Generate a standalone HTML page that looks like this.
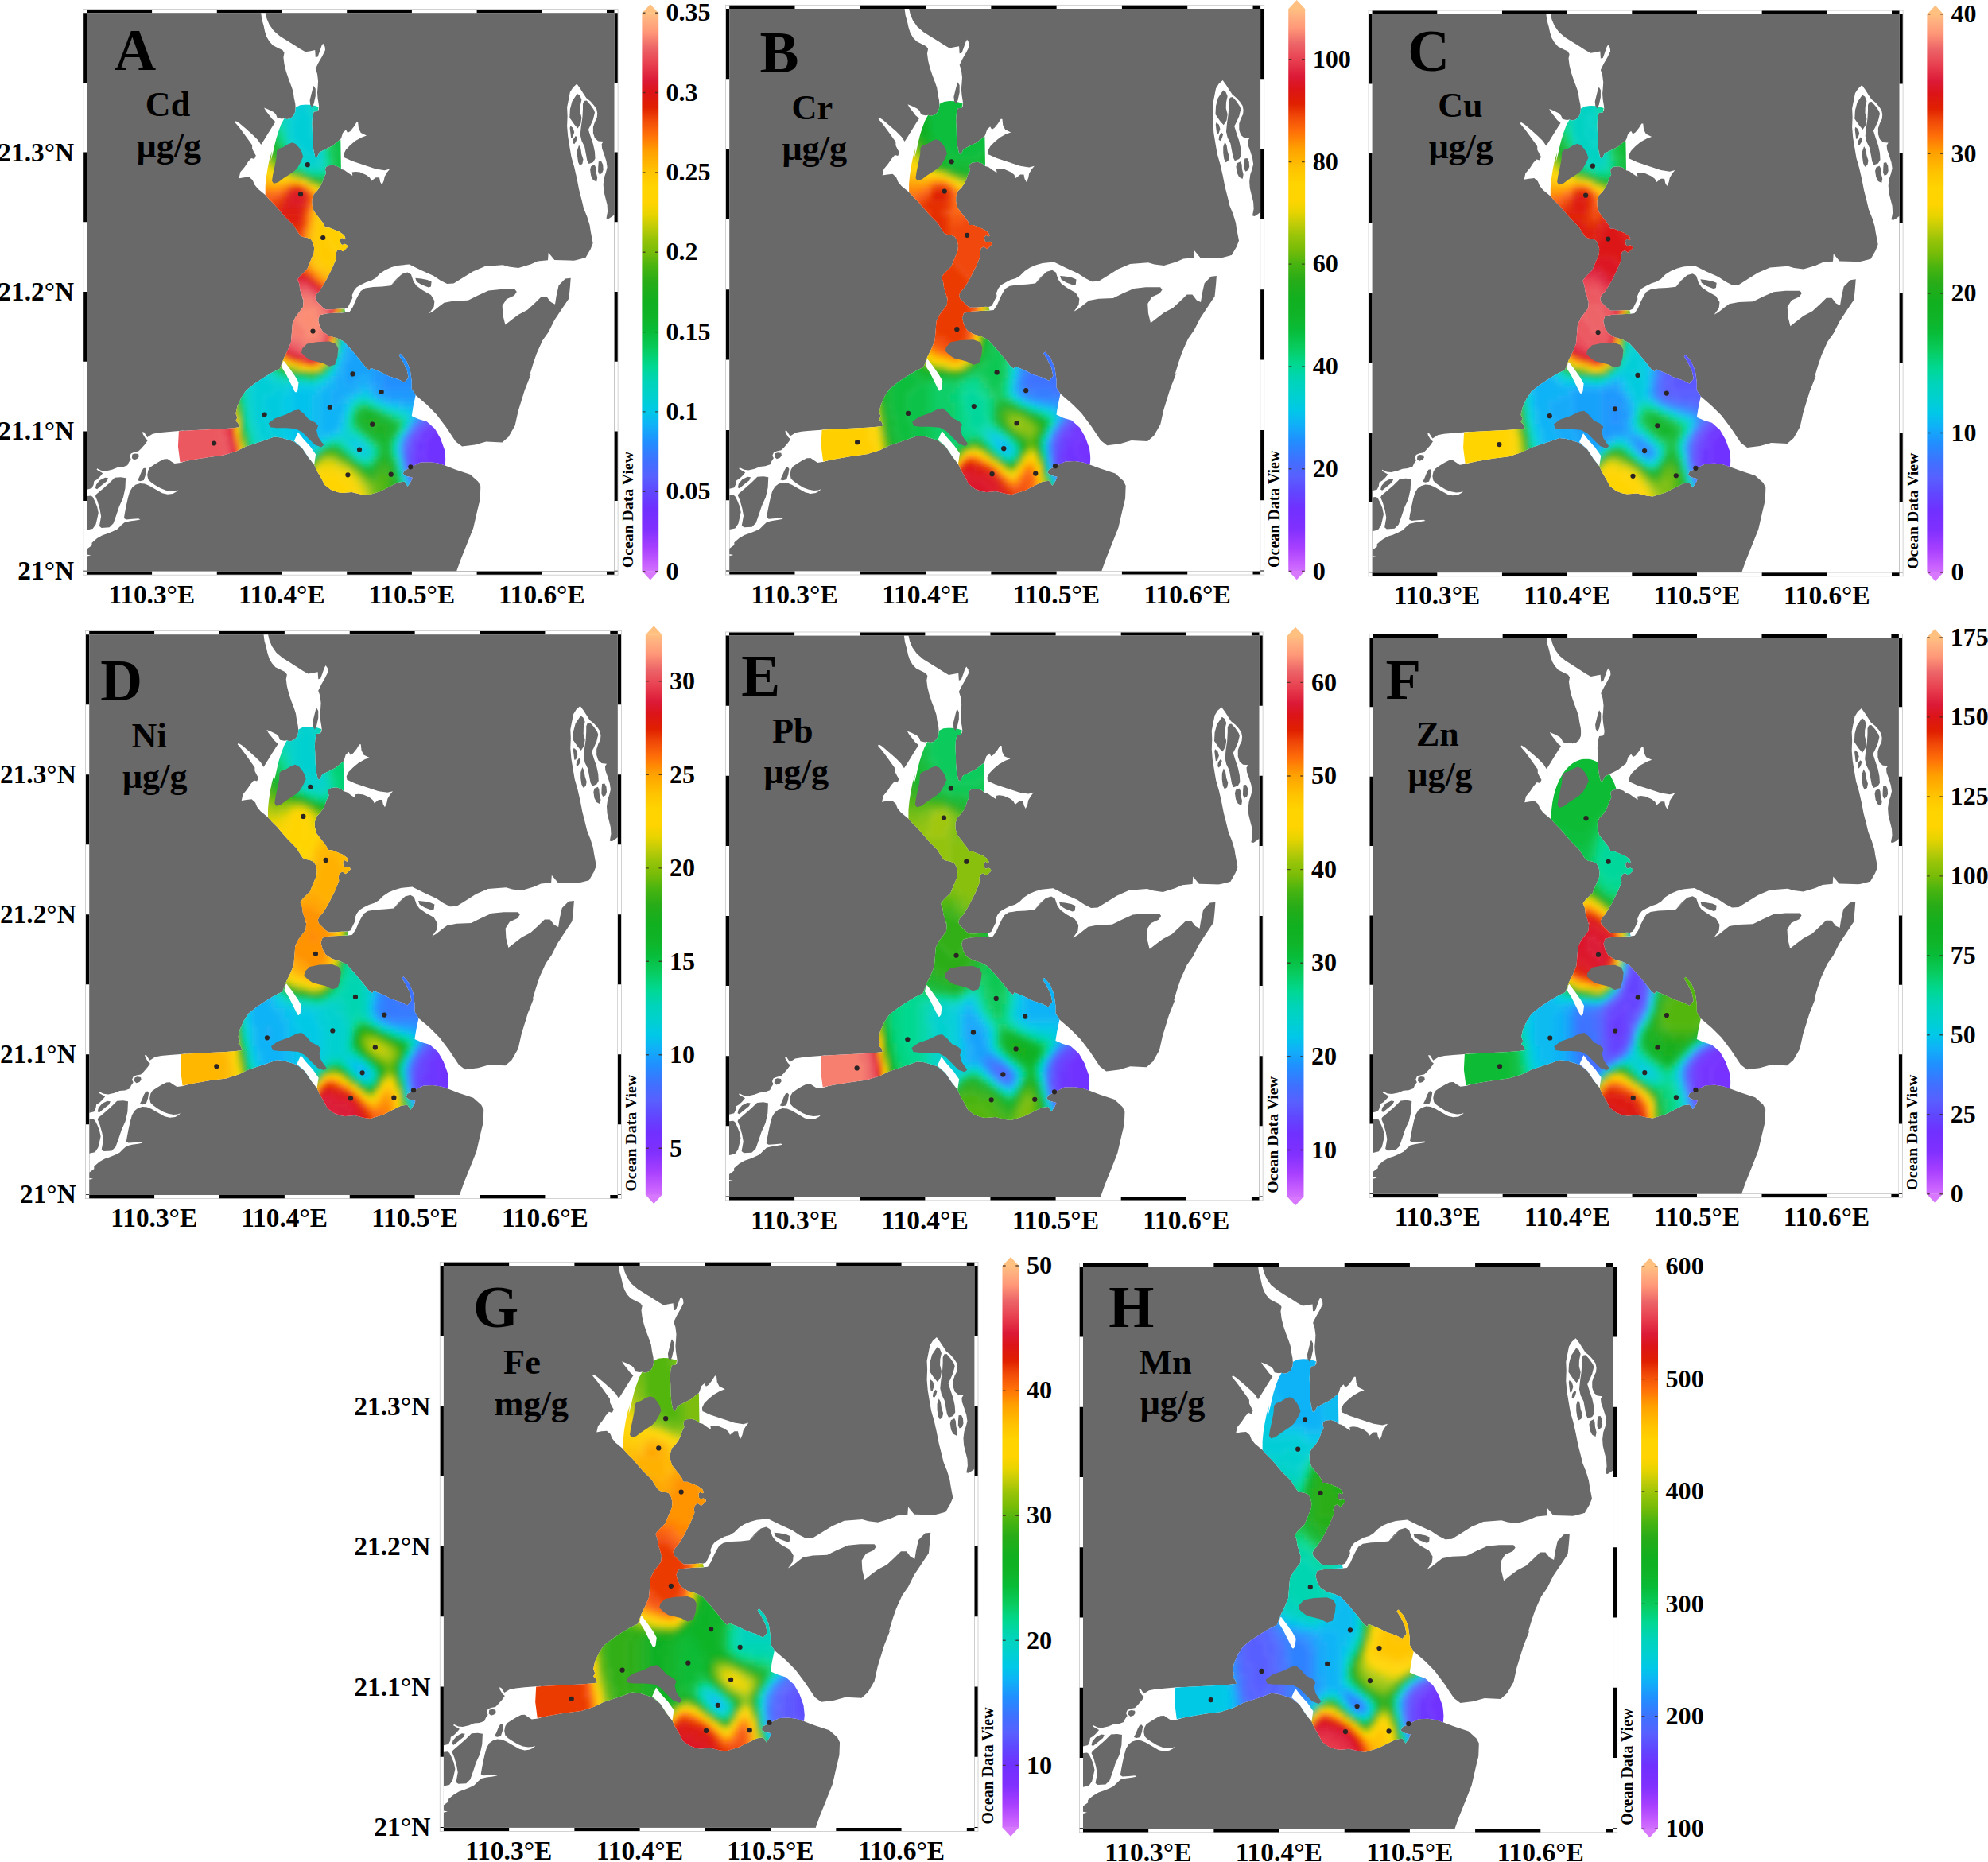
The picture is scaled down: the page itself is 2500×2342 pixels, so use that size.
<!DOCTYPE html><html><head><meta charset="utf-8"><title>Heavy metals</title>
<style>html,body{margin:0;padding:0;background:#fff}svg{display:block}text{font-family:"Liberation Serif",serif;font-weight:bold;fill:#000}</style></head><body>
<svg width="2500" height="2342" viewBox="0 0 2500 2342">
<defs>
<linearGradient id="pal" x1="0" y1="1" x2="0" y2="0">
<stop offset="0.000" stop-color="#d070ff"/>
<stop offset="0.012" stop-color="#c860ff"/>
<stop offset="0.041" stop-color="#a840ff"/>
<stop offset="0.076" stop-color="#8030ff"/>
<stop offset="0.112" stop-color="#7030ff"/>
<stop offset="0.143" stop-color="#6048ff"/>
<stop offset="0.169" stop-color="#5860ff"/>
<stop offset="0.197" stop-color="#4070ff"/>
<stop offset="0.233" stop-color="#2090ff"/>
<stop offset="0.261" stop-color="#10b0f8"/>
<stop offset="0.286" stop-color="#00c8e8"/>
<stop offset="0.311" stop-color="#00d0d0"/>
<stop offset="0.340" stop-color="#00d4b8"/>
<stop offset="0.368" stop-color="#00d890"/>
<stop offset="0.397" stop-color="#08cc60"/>
<stop offset="0.429" stop-color="#08bc38"/>
<stop offset="0.454" stop-color="#10b428"/>
<stop offset="0.482" stop-color="#10b020"/>
<stop offset="0.518" stop-color="#28ac18"/>
<stop offset="0.546" stop-color="#48b410"/>
<stop offset="0.572" stop-color="#78bc08"/>
<stop offset="0.596" stop-color="#98c408"/>
<stop offset="0.617" stop-color="#c0cc08"/>
<stop offset="0.639" stop-color="#e8d400"/>
<stop offset="0.660" stop-color="#ffd400"/>
<stop offset="0.688" stop-color="#ffd400"/>
<stop offset="0.715" stop-color="#ffc400"/>
<stop offset="0.752" stop-color="#ffa000"/>
<stop offset="0.781" stop-color="#ff7008"/>
<stop offset="0.809" stop-color="#f04808"/>
<stop offset="0.831" stop-color="#e02000"/>
<stop offset="0.858" stop-color="#dc1418"/>
<stop offset="0.880" stop-color="#dc1a38"/>
<stop offset="0.909" stop-color="#e84050"/>
<stop offset="0.937" stop-color="#ec6468"/>
<stop offset="0.966" stop-color="#ff9878"/>
<stop offset="0.987" stop-color="#ffb080"/>
<stop offset="1.000" stop-color="#ffc080"/>
</linearGradient>
<clipPath id="crclip"><path d="M262.5 118.9 268 116.1 274.7 115.3 280.8 115.5 286.8 116.9 291.3 118.3 290.2 123.8 285.2 124.4 283.5 131 283 139.9 283.5 148.7 283.7 159.8 284.6 170.9 286.8 180.8 289.1 181.9 292.4 175.3 300.1 171.4 309 167 317.8 159.8 318.9 159.8 319.5 196.5 315.6 193.2 310.1 191.5 303.4 192.1 300.1 194.3 299.6 197.6 300.7 201.5 297.9 207 295.7 213.6 293.5 218.1 289.6 223.6 285.2 228 283 234.7 283 241.3 285.2 249.1 290.2 255.7 294.6 261.2 297.9 265.7 299.6 270.1 304.5 270.1 311.2 272.8 317.8 275.6 323.4 279.5 325 283.4 323.4 284.5 320.6 282.8 318.4 285 318.9 290 321.1 291.7 324.5 290.6 327.2 292.2 327.8 294.4 324.5 297.7 321.7 300 317.8 297.2 314.5 298.9 312.8 303.3 313.4 308.8 311.2 314.3 307.9 322.1 304.5 328.7 301.2 335.4 296.8 343.1 292.4 349.8 289.1 353.1 286.8 357.5 287.9 361.9 292.4 366.4 296.8 370.8 300.1 373 307.9 373 316.7 372.4 323.9 372.4 325 376.9 313.4 377.4 302.3 378 292.7 380.1 290.7 386.2 292.7 394.2 296.7 401.3 304.8 406.3 314.9 409.3 322.9 413.4 333 424.4 343.1 436.5 351.1 446.6 355.2 449.6 356.9 446.6 369 451.6 379.1 456.7 391.2 460.7 399.2 464.7 404.3 458.7 402.2 448.6 397.2 438.5 392.2 430.5 394.2 428.5 401.2 436.5 406.3 448.6 408.3 462.7 408.3 472.8 413.3 480.8 410.3 494.9 408.3 507 417.3 511 427.4 514.1 437.5 523.1 444.5 535.2 449.6 549.3 451 561.4 450.2 569.4 441.5 566.4 431.4 565 419.4 565.4 411.3 569.4 405.3 572.5 399.2 575.5 397.2 579.5 401.2 582.5 409.3 584.6 407.3 589.6 403.2 595.6 399.2 589.6 391.2 590.6 381.1 595.6 369 601.7 352.9 606.7 345.1 605.7 333 602.7 320.9 603.7 314.9 602.7 306.8 599.7 298.8 593.6 294.7 585.6 288.7 575.5 285.7 568.4 278.6 559.4 270.6 547.3 260.5 539.2 254.4 537.2 244.4 534.2 235.3 533.2 224.2 537.2 212.2 541.3 200.1 545.3 188 551.3 171.9 556.4 151.7 559 131.6 562.4 117.1 565.4 114.5 545.3 115.5 526.1 131.6 525.1 151.7 524.1 171.9 523.1 184 522.1 192 521.1 190 516.1 187 513.1 189 509 187 504 189 494.9 194 483.9 200.1 474.8 210.1 466.7 222.2 458.7 232.3 452.6 242.4 447.6 247.4 434.5 252.4 424.4 256.5 414.4 257.5 402.3 258.5 390.2 262.5 382.1 271.6 370.1 272.6 358 271.9 361.9 270.2 355.3 268 348.7 266.9 340.9 264.7 335.4 268 330.9 272.5 326.5 276.9 322.1 279.6 315.5 282.4 308.8 285.2 302.2 285.7 295.5 284.1 288.9 281.3 284.5 276.9 282.8 271.3 281.7 268 280 263.6 273.4 260.3 267.9 255.9 263.4 249.2 256.8 242.6 249.1 235.9 241.3 229.3 234.7 224.3 229.1 224.3 218.1 225.4 207 227.1 195.9 229.3 184.9 232.6 173.8 231 186.4 233.7 176.4 235.9 166.4 238.1 157.6 240.9 148.7 244.2 139.9 248.1 132.7 251.4 133.8 255.9 132.7 259.7 129.4 261.9 124.4Z"/></clipPath>
<clipPath id="fclip"><path d="M0 228H224.6A44 75 0 0 1 312.6 228H663.1V702.4H0Z"/></clipPath>
<clipPath id="mapclip"><rect x="0" y="0" width="663.1" height="702.4"/></clipPath>
<filter id="bl" x="-5%" y="-5%" width="110%" height="110%"><feGaussianBlur stdDeviation="3.2"/></filter>
<g id="base">
<rect x="0" y="0" width="663.1" height="702.4" fill="#696969"/>
<g clip-path="url(#mapclip)">
<g fill="#fff">
<path d="M218.8 -0.1 219.9 8.2 222.1 15.9 223.8 23.7 226 30.3 229.3 35.9 233.7 40.8 240.4 44.2 245.9 46.9 248.1 50.2 247 55.8 248.1 64.6 250.3 73.5 253.6 83.4 257 92.3 259.2 98.9 260.3 106.7 261.9 114.4 262.5 122.2 291.3 122.2 291.8 118.3 291.3 114.4 290.2 107.8 289.6 100 290.2 93.4 290.7 85.7 289.6 76.8 287.4 70.2 291.3 62.4 295.7 54.7 299.6 46.9 299.2 42.5 296.8 38.6 295.1 41.4 292.4 49.1 290.2 55.2 287.4 55.8 286.8 46.9 281.3 48 274.7 49.1 268 45.3 260.3 40.3 251.4 34.7 242.6 29.2 234.8 22.6 229.3 14.8 226 7.1 224.3 -0.1Z"/>
<path d="M222.7 119.4 228.2 121.6 234.8 124.9 237.6 127.7 239.3 132.1 244.8 133.2 248.1 132.7 251.4 137.7 242.6 159.8 235.9 181.9 233.7 184.9 229.3 207 227.1 226.9 224.3 229.1 220.4 225.8 214.9 221.4 210.5 215.9 208.3 210.3 203.8 206.4 197.2 207 191.1 208.1 192.8 200.4 198.3 193.7 202.7 187.1 206.6 182.7 210.5 183.8 212.7 178.8 213.2 180.8 210.5 176.4 207.7 170.9 207.7 166.4 203.8 160.9 198.3 153.2 191.7 144.3 186.1 137.7 187.2 136 191.7 138.8 199.4 145.4 208.3 153.2 214.9 159.8 218.8 165.9 222.7 159.8 228.2 150.9 233.7 142.1 237 137.1 232.6 133.2 229.3 128.8 224.9 123.3Z"/>
<path d="M315.6 162 318.4 159.8 320 156.5 321.7 150.9 325.6 147.1 327.8 150.9 331.1 148.7 335.5 143.2 338.9 137.7 340.8 137.7 341.6 145.4 344.4 150.9 351.6 154.3 345.5 156.5 337.7 160.9 331.1 166.4 325.6 172 322.8 177.5 323.4 181.9 333.3 186.4 346.6 190.8 363.2 196.3 374.3 198 380.9 196.3 377.6 200.4 374.3 205.9 373.2 211.4 370.9 216.4 368.7 212.5 367.6 207 363.2 207 357.7 211.4 355.5 207 351 203.7 343.3 200.4 337.7 199.8 333.3 200.4 333.9 204.8 328.9 201.5 323.4 197.6 319.5 196.5 317.3 192.6Z"/>
<path d="M318.9 372.2 323.9 372.4 327.8 370.8 331.1 364.1 333.9 358.6 333.3 355.3 335.5 349.8 338.9 345.3 344.4 342 351 338.7 357.7 336.5 363.2 333.2 368.7 327.6 375.4 323.2 383.1 319.9 390.9 317.7 405.3 316.2 420.4 323.8 435.5 330.6 444.5 336.6 452.8 340.8 461.1 340.4 473.2 332.8 485.3 325.3 500.4 318.8 523 317 530.6 319.3 542.6 320.8 557.7 316.2 566.8 312.2 579.6 311 580.3 301.6 587.9 310.7 606 311.3 618.1 311.7 627.1 307.9 627.1 335.1 608.3 333.6 601.5 334.4 593.2 342.7 590.2 356.2 588.6 366.5 583.4 363.8 578.1 357 571.3 357 563.7 364.5 553.9 373.6 542.6 379.6 533.6 386.4 526 392.4 523 380.4 522.3 368.3 527.5 360 537.3 355.5 540.4 350.9 538.1 347.9 520 347.9 504.9 349.4 491.3 355.5 479.2 361.5 461.1 362.3 449.1 364.5 443 369.1 435.5 375.1 430.2 378.1 436.2 369.8 437 362.3 432.5 354.7 421.9 348.7 414.4 343.4 410.6 338.1 407.6 329.1 403 326.4 396.3 328.3 388.7 335.1 382.7 341.9 394.2 330.9 387.5 337.6 382 343.1 370.9 344.2 359.9 344.8 349.9 346.4 344.4 349.8 341.1 355.3 337.7 361.9 334.4 369.7 330 376.3 325 376.9 318.9 377.2Z"/>
<path d="M616 89.4 611.2 93.7 607.5 99.6 605.8 108.2 603.7 118.9 604.2 129.7 603.7 142.5 604.8 155.4 606.9 168.3 609.1 181.2 612.8 194.1 616 208.1 618.7 222 622 234.9 624.6 245.7 628.9 256.4 632.2 267.1 633.2 273.8 636.2 289.8 633.2 297.4 627.1 307.9 612 311.7 608.3 333.6 607.5 344.2 606 359.2 596.9 372.8 587.9 386.4 580.3 401.5 572.8 412.1 565.3 428.7 560.7 442.2 556.2 457.3 558.3 454.6 550.3 474.8 542.2 501 538.2 519.1 530.1 533.2 522.1 540.2 501.9 539.2 487.8 543.3 471.7 545.3 463.7 539.2 451.6 521.1 439.5 505 427.4 492.9 413.3 480.8 409.3 482.8 405.3 507 431.4 535.2 441.5 563.4 450.2 569.4 463.7 574.5 481.8 580.5 491.9 589.6 494.9 595.6 494.3 611.7 490.9 625.8 485.8 648 477.8 668.1 469.7 688.3 464.7 702.4 663.1 702.4 663.1 254.3 662.8 254.3 660.1 256.4 655.8 259.1 653.1 258.5 654.7 250 654.2 241.4 652 232.8 649.9 224.2 649.3 215.6 650.4 207 652.6 200.5 654.2 194.1 653.1 186.6 650.4 178 647.7 170.5 647.2 165.1 649.3 161.9 642.9 161.3 638.6 157.6 636.5 151.1 636.5 143.6 638.6 137.2 641.3 131.8 641.8 126.4 640.8 121.1 637.5 116.2 633.2 111.4 627.9 107.1 624.1 101.2 620.3 95.3Z"/>
<path d="M121.2 525.4 101.3 527 90.2 528.1 82.5 529.5 78 532.4 75.8 533.7 71.9 527.6 69.7 527 70.3 529.8 73.6 535.3 76.4 537.6 73 542.5 68.1 548.1 64.7 551.4 59.2 552.5 55.3 554.2 53.7 558 55.3 561.3 52.6 565.2 50.9 569.1 44.8 571.3 38.2 571.9 31.5 574.6 23.8 576.3 18.3 575.7 12.7 573 12.2 574.6 16.1 576.8 19.9 579.1 16.1 583.5 12.7 586.8 8.9 589 8.3 593.4 6.1 597.9 0 599.5 0 674.2 6.1 669.8 6.1 666.5 12.7 660.9 19.4 657.1 26 654.9 32.7 652.1 38.2 649.3 42.6 644.9 47 641 53.7 639.4 61.4 638.3 67 637.2 64.7 636 57 636.6 49.3 637.2 46.5 635.5 47.6 628.9 49.3 620 51.5 610 53.7 602.3 57 596.8 61.4 593.4 67 591.8 72.5 592.3 78 594.5 85.8 599 94.6 604 101.3 605.6 107.9 604.7 112.3 602.3 114.5 600.1 111.2 601.2 105.7 601.7 99.1 600.6 92.4 597.9 85.8 594 80.2 590.1 76.9 586.8 75.8 581.3 76.9 575.7 79.1 571.9 84.7 568 91.3 564.1 96.8 561.3 101.3 561.1 105.7 564.1 110.1 566.9 117.9 565.8 123.4 564.1Z"/>
<path d="M0 681.2 5 682.2 0 683.3Z"/>
<path d="M262.5 118.9 268 116.1 274.7 115.3 280.8 115.5 286.8 116.9 291.3 118.3 290.2 123.8 285.2 124.4 283.5 131 283 139.9 283.5 148.7 283.7 159.8 284.6 170.9 286.8 180.8 289.1 181.9 292.4 175.3 300.1 171.4 309 167 317.8 159.8 318.9 159.8 319.5 196.5 315.6 193.2 310.1 191.5 303.4 192.1 300.1 194.3 299.6 197.6 300.7 201.5 297.9 207 295.7 213.6 293.5 218.1 289.6 223.6 285.2 228 283 234.7 283 241.3 285.2 249.1 290.2 255.7 294.6 261.2 297.9 265.7 299.6 270.1 304.5 270.1 311.2 272.8 317.8 275.6 323.4 279.5 325 283.4 323.4 284.5 320.6 282.8 318.4 285 318.9 290 321.1 291.7 324.5 290.6 327.2 292.2 327.8 294.4 324.5 297.7 321.7 300 317.8 297.2 314.5 298.9 312.8 303.3 313.4 308.8 311.2 314.3 307.9 322.1 304.5 328.7 301.2 335.4 296.8 343.1 292.4 349.8 289.1 353.1 286.8 357.5 287.9 361.9 292.4 366.4 296.8 370.8 300.1 373 307.9 373 316.7 372.4 323.9 372.4 325 376.9 313.4 377.4 302.3 378 292.7 380.1 290.7 386.2 292.7 394.2 296.7 401.3 304.8 406.3 314.9 409.3 322.9 413.4 333 424.4 343.1 436.5 351.1 446.6 355.2 449.6 356.9 446.6 369 451.6 379.1 456.7 391.2 460.7 399.2 464.7 404.3 458.7 402.2 448.6 397.2 438.5 392.2 430.5 394.2 428.5 401.2 436.5 406.3 448.6 408.3 462.7 408.3 472.8 413.3 480.8 410.3 494.9 408.3 507 417.3 511 427.4 514.1 437.5 523.1 444.5 535.2 449.6 549.3 451 561.4 450.2 569.4 441.5 566.4 431.4 565 419.4 565.4 411.3 569.4 405.3 572.5 399.2 575.5 397.2 579.5 401.2 582.5 409.3 584.6 407.3 589.6 403.2 595.6 399.2 589.6 391.2 590.6 381.1 595.6 369 601.7 352.9 606.7 345.1 605.7 333 602.7 320.9 603.7 314.9 602.7 306.8 599.7 298.8 593.6 294.7 585.6 288.7 575.5 285.7 568.4 278.6 559.4 270.6 547.3 260.5 539.2 254.4 537.2 244.4 534.2 235.3 533.2 224.2 537.2 212.2 541.3 200.1 545.3 188 551.3 171.9 556.4 151.7 559 131.6 562.4 117.1 565.4 114.5 545.3 115.5 526.1 131.6 525.1 151.7 524.1 171.9 523.1 184 522.1 192 521.1 190 516.1 187 513.1 189 509 187 504 189 494.9 194 483.9 200.1 474.8 210.1 466.7 222.2 458.7 232.3 452.6 242.4 447.6 247.4 434.5 252.4 424.4 256.5 414.4 257.5 402.3 258.5 390.2 262.5 382.1 271.6 370.1 272.6 358 271.9 361.9 270.2 355.3 268 348.7 266.9 340.9 264.7 335.4 268 330.9 272.5 326.5 276.9 322.1 279.6 315.5 282.4 308.8 285.2 302.2 285.7 295.5 284.1 288.9 281.3 284.5 276.9 282.8 271.3 281.7 268 280 263.6 273.4 260.3 267.9 255.9 263.4 249.2 256.8 242.6 249.1 235.9 241.3 229.3 234.7 224.3 229.1 224.3 218.1 225.4 207 227.1 195.9 229.3 184.9 232.6 173.8 231 186.4 233.7 176.4 235.9 166.4 238.1 157.6 240.9 148.7 244.2 139.9 248.1 132.7 251.4 133.8 255.9 132.7 259.7 129.4 261.9 124.4Z"/>
</g>
<path d="M616.6 101.7 619.8 103.9 622 109.2 620.3 116.8 620.1 124.3 622 131.8 620.9 139.3 617.1 145.2 612.8 140.4 606.9 131.8 607.5 121.1 610.1 111.4 614.4 104.9Z M625.2 110.9 628.4 110.3 633.2 115.7 637.5 122.1 638.6 125.4 636.5 134 633.2 141.5 630.5 146.8 633.2 155.4 636.5 165.1 638.6 174.8 639.1 183.4 636.5 187.7 631.1 189.8 628.9 185.5 627.3 176.9 625.7 168.3 622 160.8 620.3 153.3 621.4 142.5 623 131.8 623.6 121.1 623.6 114.6Z M608 142 611.2 144.7 612.8 150.1 610.7 156.5 608.7 157 608 151.1 607.2 144.7Z M614.4 154.9 616.6 156.5 615 161.9 612.8 165.1 611 163.5 611.7 158.7Z M618.7 166.2 620.9 170.5 622 178 624.1 184.4 623 189.8 619.8 192 617.7 187.7 616.6 180.1 616.6 172.6Z M633.8 193 638.1 190.9 639.7 194.1 640.2 200.5 641.8 207 640.8 212.4 636.5 210.2 633.8 204.8 632.7 197.3Z M643.4 187.1 646.7 186.6 648.8 190.9 649.3 197.3 647.7 201.6 644.5 203.2 642.7 199.5 642.9 193Z M412.9 333.6 420.4 334.4 427.9 335.9 433.2 338.1 432.5 344.2 429.5 345.4 420.4 341.9 414.4 338.1Z M57 555.3 60.3 554.2 64.7 554.9 65.3 558 63.1 560.8 59.2 562.2 56.4 559.7Z M73 572.4 74.7 574.6 73.6 581.3 71.4 587.9 67 589 63.6 588.1 65.9 583.5 68.6 576.8 70.8 573Z M11.6 593.4 16.1 587.9 22.7 584.6 26.6 585.1 24.9 589 19.4 593.4 12.7 599 10.5 597.9Z M11.6 605.6 19.4 599 27.1 592.3 34.9 584.6 42.6 584 48.7 585.1 48.1 597.9 45.4 610 40.4 621.1 37.1 631.1 33.2 642.1 28.2 647.1 18.3 647.7 15.5 645.5 17.7 633.3 16.1 624.4 13.3 614.5 10.5 607.8Z M0 607.8 5 607.3 7.2 608.9 10 614.5 12.7 621.1 14.4 628.9 12.7 636.6 11.1 643.2 7.2 648.8 0 650.4Z" fill="#696969"/>
</g></g>
<g id="over">
<path d="M240.9 170.9 247 168.7 252.5 165.3 258.1 163.1 262.5 164.8 266.9 169.8 270.2 175.3 271.9 181.9 272.5 179.3 269.1 187.1 264.7 194.8 260.3 199.3 253.6 203.7 247 208.1 240.4 213.1 234.8 214.7 232.6 211.4 233.7 203.7 235.9 193.7 238.1 182.7 238.7 173.8Z M285.2 91.7 287.4 95.6 287.4 104.5 285.2 114.4 283 118.9 280.8 115.5 280.2 110 282.4 101.1 284.1 94.5Z M270.6 422.4 276.6 416.4 288.7 414 304.8 413.4 312.9 416.4 315.9 422.4 314.9 432.5 311.8 442.6 304.8 444.6 296.7 440.5 288.7 438.5 280.6 436.5 274.6 432.5 269.6 427.5Z M228.3 516.1 236.3 510 250.4 505 260.5 500 266.5 499 272.6 504 278.6 511 286.7 515.1 290.7 519.1 288.7 525.1 290.7 533.2 294.7 539.2 297.8 543.3 294.7 546.3 286.7 543.3 278.6 535.2 270.6 527.2 262.5 523.1 250.4 522.1 238.3 522.1 230.3 521.1Z" fill="#696969"/>
<path d="M244.8 445.6 250.4 454.6 256.5 466.7 261.5 476.8 262.9 477.2 264.9 474.8 266.1 464.7 261.5 456.7 254.4 446.6 247.4 437.5 246 439.5Z M265.5 527.2 271.6 535.2 280.6 545.3 287.7 555.4 285.7 568.4 278.6 559.4 270.6 547.3 260.5 538.2Z" fill="#fff"/>
<circle cx="268.6" cy="228" r="3.1" fill="#2b2424"/>
<circle cx="296.8" cy="282.8" r="3.1" fill="#2b2424"/>
<circle cx="284.1" cy="400.3" r="3.1" fill="#2b2424"/>
<circle cx="334" cy="454.2" r="3.1" fill="#2b2424"/>
<circle cx="370.3" cy="476.8" r="3.1" fill="#2b2424"/>
<circle cx="305.4" cy="496.5" r="3.1" fill="#2b2424"/>
<circle cx="223.2" cy="505.4" r="3.1" fill="#2b2424"/>
<circle cx="358.8" cy="517.5" r="3.1" fill="#2b2424"/>
<circle cx="159.8" cy="541.3" r="3.1" fill="#2b2424"/>
<circle cx="342.6" cy="549.3" r="3.1" fill="#2b2424"/>
<circle cx="328" cy="581.1" r="3.1" fill="#2b2424"/>
<circle cx="382.3" cy="580.5" r="3.1" fill="#2b2424"/>
<circle cx="406.9" cy="571.1" r="3.1" fill="#2b2424"/>
</g>
<g id="frame">
<rect x="-4.6" y="-4.6" width="672.3" height="711.6" fill="#fff" stroke="#c8c8c8" stroke-width="0.8"/>
<path d="M0 -4.2H81.7V0H0Z M0 702.4H81.7V706.6H0Z M163.4 -4.2H245.1V0H163.4Z M163.4 702.4H245.1V706.6H163.4Z M326.8 -4.2H408.5V0H326.8Z M326.8 702.4H408.5V706.6H326.8Z M490.2 -4.2H571.9V0H490.2Z M490.2 702.4H571.9V706.6H490.2Z M653.6 -4.2H663.1V0H653.6Z M653.6 702.4H663.1V706.6H653.6Z M-4.2 0H0V87.7H-4.2Z M663.1 0H667.3V87.7H663.1Z M-4.2 175.4H0V263.1H-4.2Z M663.1 175.4H667.3V263.1H663.1Z M-4.2 350.8H0V438.5H-4.2Z M663.1 350.8H667.3V438.5H663.1Z M-4.2 526.2H0V613.9H-4.2Z M663.1 526.2H667.3V613.9H663.1Z M-4.2 701.6H0V702.4H-4.2Z M663.1 701.6H667.3V702.4H663.1Z " fill="#000"/>
</g>
<g id="cbar">
<rect x="0" y="0" width="20.8" height="702.4" fill="url(#pal)"/>
<path d="M0 0.3L10.4 -10.9L20.8 0.3Z" fill="#ffc080"/>
<path d="M0 702.1L10.4 713.3L20.8 702.1Z" fill="#d878ff"/>
</g>
</defs>
<rect width="2500" height="2342" fill="#fff"/>
<g transform="translate(109.4 16.2) scale(1.0000 1.0000)">
<use href="#frame"/>
<use href="#base"/>
<g clip-path="url(#crclip)"><g><g filter="url(#bl)">
<path fill="#7430ff" d="M450 540h12v6h-12zM456 546h6v6h-6zM456 552h6v6h-6z"/>
<path fill="#7030ff" d="M438 522h12v6h-12zM432 528h24v6h-24zM426 534h30v6h-30zM426 540h24v6h-24zM426 546h30v6h-30zM420 552h36v6h-36zM426 558h36v6h-36zM426 564h36v6h-36zM432 570h24v6h-24zM444 576h6v6h-6z"/>
<path fill="#6c36ff" d="M438 516h6v6h-6zM426 522h12v6h-12zM420 528h12v6h-12zM420 534h6v6h-6zM414 540h12v6h-12zM414 546h12v6h-12zM414 552h6v6h-6zM414 558h12v6h-12zM414 564h12v6h-12zM420 570h12v6h-12z"/>
<path fill="#683cff" d="M432 516h6v6h-6zM420 522h6v6h-6zM414 534h6v6h-6zM408 552h6v6h-6zM408 558h6v6h-6zM408 564h6v6h-6zM414 570h6v6h-6z"/>
<path fill="#6443ff" d="M432 510h6v6h-6zM426 516h6v6h-6zM414 528h6v6h-6zM408 534h6v6h-6zM408 540h6v6h-6zM408 546h6v6h-6zM408 570h6v6h-6z"/>
<path fill="#6049ff" d="M414 522h6v6h-6zM408 576h6v6h-6zM414 582h6v6h-6z"/>
<path fill="#5d50ff" d="M426 510h6v6h-6zM420 516h6v6h-6zM408 528h6v6h-6zM402 546h6v6h-6zM402 552h6v6h-6zM402 558h6v6h-6zM402 564h6v6h-6zM414 588h6v6h-6z"/>
<path fill="#5b58ff" d="M402 540h6v6h-6zM402 570h6v6h-6zM408 582h6v6h-6z"/>
<path fill="#585fff" d="M402 534h6v6h-6z"/>
<path fill="#5264ff" d="M420 510h6v6h-6zM414 516h6v6h-6zM408 522h6v6h-6z"/>
<path fill="#4b69ff" d="M426 504h6v6h-6zM402 576h6v6h-6zM408 588h6v6h-6z"/>
<path fill="#446dff" d="M402 528h6v6h-6zM396 546h6v6h-6z"/>
<path fill="#3d73ff" d="M396 540h6v6h-6zM396 552h6v6h-6zM396 558h6v6h-6z"/>
<path fill="#367aff" d="M420 504h6v6h-6zM414 510h6v6h-6zM408 516h6v6h-6zM402 582h6v6h-6zM408 594h6v6h-6z"/>
<path fill="#2f81ff" d="M396 534h6v6h-6zM396 564h6v6h-6z"/>
<path fill="#218fff" d="M390 414h6v6h-6zM384 420h18v6h-18zM378 426h30v6h-30zM384 432h30v6h-30zM384 438h30v6h-30zM372 444h48v6h-48zM372 450h48v6h-48zM372 456h48v6h-48zM372 462h48v6h-48zM372 468h48v6h-48zM414 474h12v6h-12zM420 498h6v6h-6zM402 522h6v6h-6zM396 570h6v6h-6z"/>
<path fill="#1c98fd" d="M360 438h12v6h-12zM360 444h12v6h-12zM360 450h12v6h-12zM360 456h12v6h-12zM360 462h12v6h-12zM366 468h6v6h-6zM366 474h48v6h-48zM378 480h48v6h-48zM414 486h12v6h-12zM414 504h6v6h-6zM402 588h6v6h-6z"/>
<path fill="#17a1fb" d="M336 420h6v6h-6zM330 426h18v6h-18zM330 432h30v6h-30zM324 438h36v6h-36zM324 444h36v6h-36zM324 450h36v6h-36zM324 456h18v6h-18zM354 456h6v6h-6zM324 462h12v6h-12zM354 462h6v6h-6zM360 468h6v6h-6zM360 474h6v6h-6zM366 480h12v6h-12zM396 486h18v6h-18zM414 492h6v6h-6zM414 498h6v6h-6zM408 510h6v6h-6z"/>
<path fill="#13aaf9" d="M330 414h6v6h-6zM324 420h12v6h-12zM324 426h6v6h-6zM324 432h6v6h-6zM318 438h6v6h-6zM318 444h6v6h-6zM318 450h6v6h-6zM312 456h12v6h-12zM342 456h12v6h-12zM312 462h12v6h-12zM336 462h18v6h-18zM312 468h30v6h-30zM354 468h6v6h-6zM306 474h30v6h-30zM306 480h18v6h-18zM306 486h12v6h-12zM378 486h18v6h-18zM306 492h6v6h-6zM408 492h6v6h-6zM396 528h6v6h-6z"/>
<path fill="#0eb3f6" d="M324 414h6v6h-6zM318 432h6v6h-6zM312 450h6v6h-6zM306 462h6v6h-6zM300 468h12v6h-12zM342 468h12v6h-12zM294 474h12v6h-12zM336 474h6v6h-6zM354 474h6v6h-6zM294 480h12v6h-12zM324 480h6v6h-6zM360 480h6v6h-6zM294 486h12v6h-12zM318 486h6v6h-6zM372 486h6v6h-6zM294 492h12v6h-12zM312 492h12v6h-12zM396 492h12v6h-12zM294 498h30v6h-30zM408 498h6v6h-6zM294 504h24v6h-24zM294 510h24v6h-24zM294 516h24v6h-24zM294 522h18v6h-18zM390 546h6v6h-6zM396 576h6v6h-6zM402 594h6v6h-6z"/>
<path fill="#09bbf1" d="M324 408h6v6h-6zM318 426h6v6h-6zM312 444h6v6h-6zM306 456h6v6h-6zM300 462h6v6h-6zM294 468h6v6h-6zM288 474h6v6h-6zM342 474h6v6h-6zM282 480h12v6h-12zM330 480h6v6h-6zM282 486h12v6h-12zM324 486h6v6h-6zM282 492h12v6h-12zM390 492h6v6h-6zM282 498h12v6h-12zM282 504h12v6h-12zM318 504h6v6h-6zM408 504h6v6h-6zM282 510h12v6h-12zM318 510h6v6h-6zM282 516h12v6h-12zM402 516h6v6h-6zM282 522h12v6h-12zM312 522h6v6h-6zM282 528h24v6h-24zM390 540h6v6h-6zM390 552h6v6h-6z"/>
<path fill="#04c2ec" d="M288 468h6v6h-6zM258 474h30v6h-30zM348 474h6v6h-6zM258 480h24v6h-24zM354 480h6v6h-6zM258 486h24v6h-24zM366 486h6v6h-6zM258 492h24v6h-24zM324 492h6v6h-6zM384 492h6v6h-6zM258 498h24v6h-24zM402 498h6v6h-6zM258 504h24v6h-24zM258 510h24v6h-24zM258 516h24v6h-24zM318 516h6v6h-6zM258 522h24v6h-24zM258 528h24v6h-24zM306 528h6v6h-6zM258 534h36v6h-36zM264 540h24v6h-24zM264 546h18v6h-18z"/>
<path fill="#00c9e6" d="M318 420h6v6h-6zM312 438h6v6h-6zM306 450h6v6h-6zM294 462h6v6h-6zM252 468h36v6h-36zM252 474h6v6h-6zM246 480h12v6h-12zM336 480h6v6h-6zM246 486h12v6h-12zM330 486h6v6h-6zM246 492h12v6h-12zM378 492h6v6h-6zM246 498h12v6h-12zM324 498h6v6h-6zM246 504h12v6h-12zM246 510h12v6h-12zM246 516h12v6h-12zM246 522h12v6h-12zM318 522h6v6h-6zM246 528h12v6h-12zM252 534h6v6h-6zM294 534h6v6h-6zM252 540h12v6h-12zM336 540h6v6h-6zM258 546h6v6h-6zM342 546h6v6h-6zM264 552h12v6h-12z"/>
<path fill="#00cbde" d="M300 456h6v6h-6zM234 474h18v6h-18zM222 480h24v6h-24zM222 486h24v6h-24zM360 486h6v6h-6zM222 492h24v6h-24zM222 498h24v6h-24zM396 498h6v6h-6zM222 504h24v6h-24zM402 504h6v6h-6zM228 510h18v6h-18zM228 516h18v6h-18zM228 522h18v6h-18zM234 528h12v6h-12zM312 528h6v6h-6zM234 534h18v6h-18zM390 534h6v6h-6zM240 540h12v6h-12zM288 540h6v6h-6zM342 540h6v6h-6zM252 546h6v6h-6zM282 546h6v6h-6zM336 546h6v6h-6zM276 552h6v6h-6zM270 558h6v6h-6zM390 558h6v6h-6zM396 582h6v6h-6zM402 600h6v6h-6z"/>
<path fill="#00ced7" d="M270 102h6v6h-6zM270 108h6v6h-6zM264 114h12v6h-12zM264 120h12v6h-12zM264 126h18v6h-18zM258 132h24v6h-24zM258 138h24v6h-24zM258 144h24v6h-24zM258 150h24v6h-24zM258 156h30v6h-30zM264 162h24v6h-24zM270 168h18v6h-18zM276 174h12v6h-12zM330 372h6v6h-6zM318 414h6v6h-6zM210 450h12v6h-12zM204 456h24v6h-24zM204 462h30v6h-30zM288 462h6v6h-6zM210 468h42v6h-42zM210 474h24v6h-24zM210 480h12v6h-12zM342 480h12v6h-12zM210 486h12v6h-12zM210 492h12v6h-12zM372 492h6v6h-6zM210 498h12v6h-12zM390 498h6v6h-6zM210 504h12v6h-12zM324 504h6v6h-6zM210 510h18v6h-18zM402 510h6v6h-6zM216 516h12v6h-12zM216 522h12v6h-12zM216 528h18v6h-18zM318 528h6v6h-6zM222 534h12v6h-12zM300 534h6v6h-6zM330 534h12v6h-12zM222 540h18v6h-18zM330 540h6v6h-6zM348 546h6v6h-6zM342 552h12v6h-12z"/>
<path fill="#00d0cf" d="M264 102h6v6h-6zM276 102h6v6h-6zM258 108h12v6h-12zM276 108h6v6h-6zM252 114h12v6h-12zM276 114h6v6h-6zM252 120h12v6h-12zM276 120h6v6h-6zM252 126h12v6h-12zM252 132h6v6h-6zM252 138h6v6h-6zM282 138h6v6h-6zM252 144h6v6h-6zM282 144h6v6h-6zM252 150h6v6h-6zM282 150h6v6h-6zM252 156h6v6h-6zM258 162h6v6h-6zM258 168h12v6h-12zM288 168h6v6h-6zM258 174h18v6h-18zM288 174h6v6h-6zM270 180h24v6h-24zM276 186h12v6h-12zM312 432h6v6h-6zM222 450h6v6h-6zM228 456h6v6h-6zM234 462h12v6h-12zM252 462h24v6h-24zM204 468h6v6h-6zM204 474h6v6h-6zM204 480h6v6h-6zM204 486h6v6h-6zM204 492h6v6h-6zM204 498h6v6h-6zM324 510h6v6h-6zM210 516h6v6h-6zM210 522h6v6h-6zM324 522h6v6h-6zM396 522h6v6h-6zM324 528h6v6h-6zM216 534h6v6h-6zM324 534h6v6h-6zM216 540h6v6h-6z"/>
<path fill="#00d1c9" d="M282 126h6v6h-6zM282 132h6v6h-6zM288 156h6v6h-6zM252 162h6v6h-6zM288 162h6v6h-6zM264 180h6v6h-6zM270 186h6v6h-6zM288 186h6v6h-6zM222 444h6v6h-6zM198 462h6v6h-6zM246 462h6v6h-6zM276 462h12v6h-12zM198 468h6v6h-6zM198 474h6v6h-6zM336 486h6v6h-6zM330 492h6v6h-6zM384 498h6v6h-6zM204 504h6v6h-6zM204 510h6v6h-6zM324 516h6v6h-6zM210 528h6v6h-6zM330 528h6v6h-6zM210 534h6v6h-6zM306 534h6v6h-6zM318 534h6v6h-6zM324 540h6v6h-6zM348 540h6v6h-6zM216 546h6v6h-6zM330 546h6v6h-6zM336 552h6v6h-6zM276 558h6v6h-6zM390 564h6v6h-6z"/>
<path fill="#00d2c2" d="M282 114h6v6h-6zM246 120h6v6h-6zM282 120h6v6h-6zM246 126h6v6h-6zM288 150h6v6h-6zM252 168h6v6h-6zM258 180h6v6h-6zM294 186h6v6h-6zM276 192h18v6h-18zM318 408h6v6h-6zM306 444h6v6h-6zM228 450h6v6h-6zM234 456h6v6h-6zM294 456h6v6h-6zM198 480h6v6h-6zM198 486h6v6h-6zM354 486h6v6h-6zM366 492h6v6h-6zM396 504h6v6h-6zM204 516h6v6h-6zM312 534h6v6h-6zM342 534h6v6h-6zM210 540h6v6h-6zM294 540h6v6h-6zM354 546h6v6h-6zM282 552h6v6h-6zM354 552h6v6h-6zM348 558h6v6h-6zM270 564h6v6h-6zM396 588h6v6h-6z"/>
<path fill="#00d3bb" d="M282 102h6v6h-6zM282 108h6v6h-6zM246 132h6v6h-6zM246 138h6v6h-6zM288 144h6v6h-6zM252 174h6v6h-6zM294 174h6v6h-6zM294 180h6v6h-6zM264 186h6v6h-6zM294 192h6v6h-6zM240 456h6v6h-6zM198 492h6v6h-6zM378 498h6v6h-6zM204 522h6v6h-6zM336 528h6v6h-6zM210 546h6v6h-6zM288 546h6v6h-6zM342 558h6v6h-6z"/>
<path fill="#00d5b2" d="M240 126h6v6h-6zM240 132h6v6h-6zM288 138h6v6h-6zM246 144h6v6h-6zM294 168h6v6h-6zM258 186h6v6h-6zM270 192h6v6h-6zM312 426h6v6h-6zM300 450h6v6h-6zM342 486h12v6h-12zM198 498h6v6h-6zM330 498h6v6h-6zM198 504h6v6h-6zM390 504h6v6h-6zM330 522h6v6h-6zM204 528h6v6h-6zM390 528h6v6h-6z"/>
<path fill="#00d6a7" d="M288 126h6v6h-6zM288 132h6v6h-6zM240 138h6v6h-6zM246 150h6v6h-6zM324 378h6v6h-6zM318 402h6v6h-6zM228 444h6v6h-6zM234 450h6v6h-6zM246 456h6v6h-6zM360 492h6v6h-6zM396 510h6v6h-6zM396 516h6v6h-6zM204 534h6v6h-6zM318 540h6v6h-6zM324 546h6v6h-6zM384 546h6v6h-6zM354 558h6v6h-6zM390 570h6v6h-6zM396 594h6v6h-6z"/>
<path fill="#00d79b" d="M288 120h6v6h-6zM240 144h6v6h-6zM246 156h6v6h-6zM294 162h6v6h-6zM252 180h6v6h-6zM282 198h18v6h-18zM252 456h6v6h-6zM192 468h6v6h-6zM372 498h6v6h-6zM198 510h6v6h-6zM348 534h6v6h-6zM354 540h6v6h-6zM384 540h6v6h-6zM330 552h6v6h-6z"/>
<path fill="#00d890" d="M288 108h6v6h-6zM288 114h6v6h-6zM234 132h6v6h-6zM300 186h6v6h-6zM264 192h6v6h-6zM300 192h6v6h-6zM258 456h6v6h-6zM288 456h6v6h-6zM192 474h6v6h-6zM336 492h6v6h-6zM330 504h6v6h-6zM384 504h6v6h-6zM198 516h6v6h-6zM330 516h6v6h-6zM342 528h6v6h-6zM204 540h6v6h-6zM300 540h6v6h-6zM384 552h6v6h-6zM336 558h6v6h-6z"/>
<path fill="#02d583" d="M234 138h6v6h-6zM240 150h6v6h-6zM246 162h6v6h-6zM300 180h6v6h-6zM276 198h6v6h-6zM300 198h6v6h-6zM306 438h6v6h-6zM264 456h6v6h-6zM192 480h6v6h-6zM330 510h6v6h-6zM336 522h6v6h-6zM360 546h6v6h-6zM360 552h6v6h-6zM348 564h6v6h-6zM396 600h6v6h-6z"/>
<path fill="#04d176" d="M240 156h6v6h-6zM300 174h6v6h-6zM258 192h6v6h-6zM324 372h6v6h-6zM312 420h6v6h-6zM240 450h6v6h-6zM270 456h6v6h-6zM192 486h6v6h-6zM354 492h6v6h-6zM198 522h6v6h-6zM384 534h6v6h-6zM312 540h6v6h-6zM204 546h6v6h-6zM276 564h6v6h-6zM390 576h6v6h-6z"/>
<path fill="#07ce68" d="M294 120h6v6h-6zM234 144h6v6h-6zM246 168h6v6h-6zM300 168h6v6h-6zM252 186h6v6h-6zM228 438h6v6h-6zM366 498h6v6h-6zM378 504h6v6h-6zM390 510h6v6h-6zM390 522h6v6h-6zM306 540h6v6h-6zM384 558h6v6h-6zM354 564h6v6h-6z"/>
<path fill="#08ca5c" d="M294 114h6v6h-6zM234 150h6v6h-6zM300 156h6v6h-6zM240 162h6v6h-6zM300 162h6v6h-6zM306 186h6v6h-6zM306 192h6v6h-6zM306 198h6v6h-6zM300 204h6v6h-6zM234 444h6v6h-6zM276 456h12v6h-12zM192 492h6v6h-6zM342 492h6v6h-6zM360 540h6v6h-6zM342 564h6v6h-6z"/>
<path fill="#08c752" d="M228 138h6v6h-6zM306 168h6v6h-6zM306 174h6v6h-6zM306 180h6v6h-6zM270 198h6v6h-6zM312 198h6v6h-6zM294 204h6v6h-6zM306 204h6v6h-6zM348 492h6v6h-6zM336 498h6v6h-6zM390 516h6v6h-6zM198 528h6v6h-6zM354 534h6v6h-6zM294 546h6v6h-6zM318 546h6v6h-6zM282 558h6v6h-6zM360 558h6v6h-6zM390 582h6v6h-6z"/>
<path fill="#08c248" d="M306 150h18v6h-18zM234 156h6v6h-6zM306 156h24v6h-24zM306 162h24v6h-24zM312 168h18v6h-18zM246 174h6v6h-6zM312 174h18v6h-18zM312 180h18v6h-18zM312 186h18v6h-18zM312 192h18v6h-18zM318 198h6v6h-6zM288 204h6v6h-6zM300 444h6v6h-6zM246 450h6v6h-6zM294 450h6v6h-6zM192 498h6v6h-6zM384 510h6v6h-6zM336 516h6v6h-6zM348 528h6v6h-6zM324 552h6v6h-6z"/>
<path fill="#08be3e" d="M228 144h6v6h-6zM240 168h6v6h-6zM324 366h6v6h-6zM360 498h6v6h-6zM372 504h6v6h-6zM342 522h6v6h-6zM384 528h6v6h-6zM378 540h6v6h-6zM366 546h6v6h-6zM378 546h6v6h-6zM288 552h6v6h-6zM330 558h6v6h-6zM384 564h6v6h-6zM390 588h6v6h-6z"/>
<path fill="#09bb36" d="M282 204h6v6h-6zM312 414h6v6h-6zM192 504h6v6h-6zM336 504h6v6h-6zM336 510h6v6h-6zM198 534h6v6h-6zM366 540h6v6h-6zM366 552h6v6h-6z"/>
<path fill="#0cb831" d="M228 150h6v6h-6zM234 162h6v6h-6zM306 432h6v6h-6zM360 534h6v6h-6zM378 552h6v6h-6zM348 570h12v6h-12zM390 594h6v6h-6z"/>
<path fill="#0eb62c" d="M240 174h6v6h-6zM246 180h6v6h-6zM252 192h6v6h-6zM252 450h6v6h-6zM342 498h6v6h-6zM354 498h6v6h-6zM366 504h6v6h-6zM378 510h6v6h-6zM384 516h6v6h-6zM384 522h6v6h-6zM354 528h6v6h-6zM378 534h6v6h-6zM372 540h6v6h-6zM312 546h6v6h-6zM372 546h6v6h-6zM336 564h6v6h-6zM360 564h6v6h-6z"/>
<path fill="#10b427" d="M264 198h6v6h-6zM300 210h6v6h-6zM348 498h6v6h-6zM192 510h6v6h-6zM342 516h6v6h-6zM348 522h6v6h-6zM198 540h6v6h-6zM384 570h6v6h-6z"/>
<path fill="#10b325" d="M228 156h6v6h-6zM234 168h6v6h-6zM318 384h6v6h-6zM240 444h6v6h-6zM186 474h6v6h-6zM342 504h6v6h-6zM372 510h6v6h-6zM366 534h12v6h-12zM372 552h6v6h-6zM378 558h6v6h-6z"/>
<path fill="#10b123" d="M276 204h6v6h-6zM294 210h6v6h-6zM258 450h6v6h-6zM360 504h6v6h-6zM342 510h6v6h-6zM378 516h6v6h-6zM360 528h6v6h-6zM378 528h6v6h-6zM300 546h6v6h-6zM318 552h6v6h-6zM366 558h6v6h-6zM276 570h6v6h-6zM342 570h6v6h-6z"/>
<path fill="#10b021" d="M258 198h6v6h-6zM234 438h6v6h-6zM348 504h12v6h-12zM366 510h6v6h-6zM192 516h6v6h-6zM348 516h6v6h-6zM354 522h6v6h-6zM378 522h6v6h-6zM366 528h6v6h-6zM198 546h6v6h-6zM306 546h6v6h-6zM384 576h6v6h-6z"/>
<path fill="#14af1f" d="M228 162h6v6h-6zM240 180h6v6h-6zM312 408h6v6h-6zM264 450h6v6h-6zM186 480h6v6h-6zM348 510h6v6h-6zM372 516h6v6h-6zM372 528h6v6h-6zM372 558h6v6h-6zM378 564h6v6h-6zM360 570h6v6h-6zM384 582h6v6h-6z"/>
<path fill="#19ae1d" d="M234 174h6v6h-6zM246 186h6v6h-6zM288 450h6v6h-6zM354 510h12v6h-12zM354 516h6v6h-6zM366 516h6v6h-6zM360 522h18v6h-18zM324 558h6v6h-6zM354 576h6v6h-6zM384 588h6v6h-6zM384 594h6v6h-6zM384 600h6v6h-6z"/>
<path fill="#1fae1b" d="M222 156h6v6h-6zM288 210h6v6h-6zM270 450h6v6h-6zM360 516h6v6h-6zM366 564h6v6h-6zM348 576h6v6h-6z"/>
<path fill="#24ad19" d="M228 168h6v6h-6zM318 378h6v6h-6zM186 486h6v6h-6zM192 522h6v6h-6zM198 552h6v6h-6zM282 564h6v6h-6zM330 564h6v6h-6zM372 564h6v6h-6zM378 570h6v6h-6z"/>
<path fill="#2aad17" d="M306 426h6v6h-6zM246 444h6v6h-6zM294 552h6v6h-6zM312 552h6v6h-6zM366 570h6v6h-6zM360 576h6v6h-6zM378 576h6v6h-6z"/>
<path fill="#33af15" d="M222 162h6v6h-6zM234 180h6v6h-6zM240 186h6v6h-6zM252 198h6v6h-6zM300 216h6v6h-6zM300 438h6v6h-6zM288 558h6v6h-6zM372 570h6v6h-6zM354 582h6v6h-6zM378 582h6v6h-6zM378 588h6v6h-6zM378 594h6v6h-6zM378 600h6v6h-6z"/>
<path fill="#3db113" d="M228 174h6v6h-6zM270 204h6v6h-6zM276 450h6v6h-6zM336 570h6v6h-6zM366 576h12v6h-12zM360 582h6v6h-6z"/>
<path fill="#46b311" d="M246 192h6v6h-6zM282 210h6v6h-6zM312 402h6v6h-6zM294 444h6v6h-6zM282 450h6v6h-6zM186 492h6v6h-6zM192 528h6v6h-6zM318 558h6v6h-6zM342 576h6v6h-6zM366 582h12v6h-12zM372 588h6v6h-6zM372 594h6v6h-6zM372 600h6v6h-6zM372 606h6v6h-6z"/>
<path fill="#53b60e" d="M222 168h6v6h-6zM300 552h12v6h-12zM348 582h6v6h-6zM360 588h12v6h-12zM366 594h6v6h-6zM366 600h6v6h-6zM366 606h6v6h-6z"/>
<path fill="#62b80c" d="M234 186h6v6h-6zM294 216h6v6h-6zM318 372h6v6h-6zM354 588h6v6h-6zM360 594h6v6h-6zM360 600h6v6h-6z"/>
<path fill="#71bb09" d="M228 180h6v6h-6zM252 444h6v6h-6zM186 498h6v6h-6zM324 564h6v6h-6zM276 576h6v6h-6zM360 606h6v6h-6z"/>
<path fill="#7dbd08" d="M222 174h6v6h-6zM240 192h6v6h-6zM234 432h6v6h-6zM240 438h6v6h-6zM192 534h6v6h-6zM312 558h6v6h-6zM354 594h6v6h-6z"/>
<path fill="#88c008" d="M330 570h6v6h-6zM348 588h6v6h-6zM354 600h6v6h-6z"/>
<path fill="#93c308" d="M264 204h6v6h-6zM294 558h6v6h-6zM282 570h6v6h-6zM336 576h6v6h-6zM342 582h6v6h-6zM354 606h6v6h-6zM354 612h6v6h-6z"/>
<path fill="#a0c608" d="M216 174h6v6h-6zM228 186h6v6h-6zM234 192h6v6h-6zM276 210h6v6h-6zM318 366h6v6h-6zM312 396h6v6h-6zM306 420h6v6h-6zM306 558h6v6h-6zM288 564h6v6h-6zM318 564h6v6h-6z"/>
<path fill="#afc908" d="M222 180h6v6h-6zM246 198h6v6h-6zM288 216h6v6h-6zM258 444h6v6h-6zM186 504h6v6h-6zM300 558h6v6h-6zM348 594h6v6h-6z"/>
<path fill="#becc08" d="M258 204h6v6h-6zM192 540h6v6h-6zM312 564h6v6h-6zM324 570h6v6h-6zM342 588h6v6h-6zM348 600h6v6h-6z"/>
<path fill="#cdcf05" d="M216 180h6v6h-6zM240 198h6v6h-6zM330 576h6v6h-6zM336 582h6v6h-6zM348 606h6v6h-6zM348 612h6v6h-6z"/>
<path fill="#dbd103" d="M222 186h6v6h-6zM228 192h6v6h-6zM264 444h6v6h-6zM294 564h18v6h-18zM318 570h6v6h-6zM282 576h6v6h-6zM342 594h6v6h-6z"/>
<path fill="#e9d400" d="M252 204h6v6h-6zM318 360h6v6h-6zM300 432h6v6h-6zM246 438h6v6h-6zM186 510h6v6h-6zM288 570h6v6h-6zM312 570h6v6h-6zM336 588h6v6h-6zM342 600h6v6h-6z"/>
<path fill="#f2d400" d="M216 186h6v6h-6zM234 198h6v6h-6zM294 222h6v6h-6zM288 444h6v6h-6zM192 546h6v6h-6zM294 570h18v6h-18zM318 576h12v6h-12zM330 582h6v6h-6zM336 594h6v6h-6zM342 606h6v6h-6zM342 612h6v6h-6z"/>
<path fill="#fbd400" d="M282 216h6v6h-6zM270 444h6v6h-6zM288 576h30v6h-30zM282 582h6v6h-6zM318 582h12v6h-12zM324 588h12v6h-12zM330 594h6v6h-6zM336 600h6v6h-6zM336 606h6v6h-6zM336 612h6v6h-6z"/>
<path fill="#ffd400" d="M222 192h6v6h-6zM246 204h6v6h-6zM330 276h6v6h-6zM180 480h6v6h-6zM288 582h30v6h-30zM282 588h42v6h-42zM288 594h42v6h-42zM294 600h42v6h-42zM300 606h36v6h-36z"/>
<path fill="#ffd400" d="M228 198h6v6h-6zM240 204h6v6h-6zM306 414h6v6h-6zM186 516h6v6h-6z"/>
<path fill="#ffd400" d="M216 192h6v6h-6zM270 210h6v6h-6zM318 264h6v6h-6zM324 270h6v6h-6zM324 276h6v6h-6zM330 282h6v6h-6zM330 288h6v6h-6zM294 438h6v6h-6zM192 552h6v6h-6z"/>
<path fill="#ffd400" d="M222 198h6v6h-6zM234 204h6v6h-6zM318 270h6v6h-6zM324 282h6v6h-6zM330 294h6v6h-6z"/>
<path fill="#ffcf00" d="M228 204h6v6h-6zM288 222h6v6h-6zM294 246h6v6h-6zM294 252h6v6h-6zM294 258h18v6h-18zM300 264h18v6h-18zM300 270h18v6h-18zM300 276h24v6h-24zM306 282h18v6h-18zM306 288h24v6h-24zM312 294h18v6h-18zM318 300h12v6h-12zM312 384h6v6h-6zM240 432h6v6h-6zM252 438h6v6h-6zM276 444h6v6h-6zM180 486h6v6h-6z"/>
<path fill="#ffcb00" d="M216 198h6v6h-6zM288 252h6v6h-6zM288 258h6v6h-6zM288 264h12v6h-12zM288 270h12v6h-12zM288 276h12v6h-12zM288 282h18v6h-18zM288 288h18v6h-18zM288 294h24v6h-24zM288 300h30v6h-30zM288 306h36v6h-36zM294 312h30v6h-30zM312 318h6v6h-6zM282 444h6v6h-6zM186 522h6v6h-6z"/>
<path fill="#ffc600" d="M222 204h6v6h-6zM288 246h6v6h-6zM282 276h6v6h-6zM282 282h6v6h-6zM282 288h6v6h-6zM282 294h6v6h-6zM282 300h6v6h-6zM282 306h6v6h-6zM288 312h6v6h-6zM294 318h18v6h-18zM306 324h12v6h-12z"/>
<path fill="#ffbf00" d="M216 204h6v6h-6zM234 210h18v6h-18zM288 240h6v6h-6zM282 264h6v6h-6zM282 270h6v6h-6zM282 312h6v6h-6zM288 318h6v6h-6zM300 324h6v6h-6zM180 492h6v6h-6z"/>
<path fill="#ffb700" d="M228 210h6v6h-6zM264 210h6v6h-6zM276 216h6v6h-6zM288 228h6v6h-6zM288 234h6v6h-6zM282 252h6v6h-6zM282 258h6v6h-6zM276 294h6v6h-6zM276 300h6v6h-6zM294 324h6v6h-6zM306 330h6v6h-6zM312 378h6v6h-6z"/>
<path fill="#ffb000" d="M210 204h6v6h-6zM222 210h6v6h-6zM252 210h12v6h-12zM276 282h6v6h-6zM276 288h6v6h-6zM276 306h6v6h-6zM282 318h6v6h-6zM300 330h6v6h-6zM306 408h6v6h-6zM300 426h6v6h-6zM258 438h6v6h-6zM186 528h6v6h-6z"/>
<path fill="#ffa800" d="M216 210h6v6h-6zM282 222h6v6h-6zM282 246h6v6h-6zM276 276h6v6h-6zM276 312h6v6h-6zM288 324h6v6h-6zM294 330h6v6h-6zM306 336h6v6h-6z"/>
<path fill="#ffa000" d="M210 210h6v6h-6zM222 216h18v6h-18zM276 270h6v6h-6zM246 432h6v6h-6zM180 498h6v6h-6z"/>
<path fill="#ff9302" d="M216 216h6v6h-6zM240 216h6v6h-6zM282 240h6v6h-6zM270 300h6v6h-6zM300 336h6v6h-6zM312 372h6v6h-6zM264 438h6v6h-6zM186 534h6v6h-6z"/>
<path fill="#ff8604" d="M210 216h6v6h-6zM246 216h6v6h-6zM276 264h6v6h-6zM270 294h6v6h-6zM270 306h6v6h-6zM276 318h6v6h-6zM282 324h6v6h-6zM288 330h6v6h-6z"/>
<path fill="#ff7807" d="M216 222h24v6h-24zM282 228h6v6h-6zM282 234h6v6h-6zM276 252h6v6h-6zM276 258h6v6h-6zM270 288h6v6h-6zM270 312h6v6h-6zM294 336h6v6h-6zM312 360h6v6h-6zM312 366h6v6h-6zM288 438h6v6h-6z"/>
<path fill="#fd6c08" d="M270 216h6v6h-6zM210 222h6v6h-6zM240 222h6v6h-6zM270 282h6v6h-6zM306 402h6v6h-6zM240 426h6v6h-6zM294 432h6v6h-6zM270 438h6v6h-6zM180 504h6v6h-6zM186 540h6v6h-6z"/>
<path fill="#f96008" d="M216 228h18v6h-18zM276 246h6v6h-6zM270 276h6v6h-6zM264 312h6v6h-6zM300 342h6v6h-6z"/>
<path fill="#f55508" d="M252 216h6v6h-6zM246 222h6v6h-6zM276 222h6v6h-6zM234 228h6v6h-6zM222 234h6v6h-6zM270 270h6v6h-6zM264 288h6v6h-6zM270 318h6v6h-6zM276 324h6v6h-6zM282 330h6v6h-6zM252 432h6v6h-6z"/>
<path fill="#f14908" d="M240 228h6v6h-6zM228 234h6v6h-6zM222 240h6v6h-6zM276 240h6v6h-6zM258 282h12v6h-12zM264 318h6v6h-6zM288 336h6v6h-6zM300 420h6v6h-6zM180 510h6v6h-6zM186 546h6v6h-6z"/>
<path fill="#eb3b05" d="M258 216h12v6h-12zM234 234h6v6h-6zM276 234h6v6h-6zM228 240h6v6h-6zM270 258h6v6h-6zM270 264h6v6h-6zM252 276h18v6h-18zM294 342h6v6h-6zM306 396h6v6h-6zM276 438h12v6h-12z"/>
<path fill="#e52d03" d="M246 228h6v6h-6zM276 228h6v6h-6zM240 234h6v6h-6zM234 240h6v6h-6zM228 246h6v6h-6zM270 252h6v6h-6zM252 270h18v6h-18zM258 324h6v6h-6zM270 324h6v6h-6zM180 516h6v6h-6zM186 552h6v6h-6z"/>
<path fill="#e02001" d="M240 240h6v6h-6zM234 246h6v6h-6zM270 246h6v6h-6zM240 258h6v6h-6zM246 264h24v6h-24zM264 324h6v6h-6zM246 426h6v6h-6zM258 432h6v6h-6zM186 558h6v6h-6z"/>
<path fill="#df1c08" d="M252 222h6v6h-6zM270 222h6v6h-6zM246 234h6v6h-6zM270 240h6v6h-6zM240 246h6v6h-6zM234 252h36v6h-36zM246 258h24v6h-24zM276 330h6v6h-6zM282 336h6v6h-6z"/>
<path fill="#dd180f" d="M270 234h6v6h-6zM246 240h6v6h-6zM246 246h24v6h-24zM288 342h6v6h-6zM240 420h6v6h-6zM264 432h6v6h-6zM174 492h6v6h-6zM180 522h6v6h-6z"/>
<path fill="#dc1516" d="M258 222h12v6h-12zM252 228h6v6h-6zM270 228h6v6h-6zM252 234h6v6h-6zM252 240h18v6h-18zM252 330h12v6h-12zM306 360h6v6h-6zM300 414h6v6h-6zM294 426h6v6h-6zM180 528h6v6h-6z"/>
<path fill="#dc1621" d="M258 228h12v6h-12zM258 234h12v6h-12zM264 330h12v6h-12zM294 348h6v6h-6zM306 384h6v6h-6zM252 426h6v6h-6zM270 432h6v6h-6zM288 432h6v6h-6zM174 498h6v6h-6z"/>
<path fill="#dc182c" d="M276 336h6v6h-6zM306 366h6v6h-6zM174 504h6v6h-6zM180 534h6v6h-6z"/>
<path fill="#dc1a38" d="M282 342h6v6h-6zM306 372h6v6h-6zM306 378h6v6h-6zM246 420h6v6h-6zM180 540h6v6h-6z"/>
<path fill="#df243f" d="M252 336h12v6h-12zM288 348h6v6h-6zM300 408h6v6h-6zM240 414h6v6h-6zM258 426h6v6h-6zM276 432h12v6h-12zM174 510h6v6h-6zM180 546h6v6h-6z"/>
<path fill="#e32f45" d="M264 336h12v6h-12zM294 354h6v6h-6zM294 420h6v6h-6zM264 426h6v6h-6zM174 516h6v6h-6zM180 552h6v6h-6zM180 558h6v6h-6z"/>
<path fill="#e6394c" d="M276 342h6v6h-6zM300 360h6v6h-6zM300 402h6v6h-6zM252 420h6v6h-6zM288 426h6v6h-6zM174 522h6v6h-6zM174 528h6v6h-6z"/>
<path fill="#e84453" d="M252 342h12v6h-12zM282 348h6v6h-6zM246 414h6v6h-6zM258 420h6v6h-6zM270 426h6v6h-6zM168 510h6v6h-6zM174 534h6v6h-6zM174 540h6v6h-6z"/>
<path fill="#ea4e59" d="M264 342h12v6h-12zM288 354h6v6h-6zM294 360h6v6h-6zM300 366h6v6h-6zM300 396h6v6h-6zM252 414h6v6h-6zM294 414h6v6h-6zM276 426h6v6h-6zM168 516h6v6h-6zM168 522h6v6h-6zM168 528h6v6h-6zM174 546h6v6h-6zM174 552h6v6h-6zM174 558h6v6h-6z"/>
<path fill="#eb5860" d="M258 348h6v6h-6zM276 348h6v6h-6zM300 372h6v6h-6zM300 384h6v6h-6zM300 390h6v6h-6zM246 408h6v6h-6zM264 420h6v6h-6zM288 420h6v6h-6zM282 426h6v6h-6zM132 510h36v6h-36zM108 516h60v6h-60zM102 522h66v6h-66zM102 528h66v6h-66zM102 534h72v6h-72zM102 540h72v6h-72zM102 546h72v6h-72zM102 552h72v6h-72zM102 558h72v6h-72zM108 564h66v6h-66zM114 570h24v6h-24z"/>
<path fill="#ec6367" d="M264 348h12v6h-12zM282 354h6v6h-6zM288 360h6v6h-6zM294 366h6v6h-6zM300 378h6v6h-6zM246 402h6v6h-6zM252 408h6v6h-6zM294 408h6v6h-6zM258 414h12v6h-12zM270 420h6v6h-6z"/>
<path fill="#f1716c" d="M258 354h24v6h-24zM282 360h6v6h-6zM294 372h6v6h-6zM246 390h6v6h-6zM246 396h6v6h-6zM294 396h6v6h-6zM252 402h6v6h-6zM294 402h6v6h-6zM258 408h12v6h-12zM270 414h6v6h-6zM288 414h6v6h-6zM276 420h12v6h-12z"/>
<path fill="#f67f70" d="M258 360h24v6h-24zM258 366h36v6h-36zM252 372h18v6h-18zM288 372h6v6h-6zM252 378h12v6h-12zM288 378h12v6h-12zM246 384h18v6h-18zM294 384h6v6h-6zM252 390h18v6h-18zM294 390h6v6h-6zM252 396h24v6h-24zM288 396h6v6h-6zM258 402h18v6h-18zM288 402h6v6h-6zM270 408h24v6h-24zM276 414h12v6h-12z"/>
<path fill="#fb8d75" d="M270 372h18v6h-18zM264 378h24v6h-24zM264 384h30v6h-30zM270 390h24v6h-24zM276 396h12v6h-12zM276 402h12v6h-12z"/>
</g></g></g>
<use href="#over"/>
<circle cx="277.4" cy="191" r="3.1" fill="#2b2424"/>
<text x="34.2" y="72.0" font-size="73">A</text>
<text x="101.6" y="129.8" font-size="44" text-anchor="middle">Cd</text>
<text x="103.0" y="182.2" font-size="44" text-anchor="middle">μg/g</text>
<text x="81.4" y="742.6" font-size="33.3" text-anchor="middle">110.3°E</text>
<text x="244.9" y="742.6" font-size="33.3" text-anchor="middle">110.4°E</text>
<text x="408.4" y="742.6" font-size="33.3" text-anchor="middle">110.5°E</text>
<text x="571.9" y="742.6" font-size="33.3" text-anchor="middle">110.6°E</text>
<text x="-16.4" y="186.6" font-size="33.3" text-anchor="end">21.3°N</text>
<text x="-16.4" y="361.9" font-size="33.3" text-anchor="end">21.2°N</text>
<text x="-16.4" y="537.2" font-size="33.3" text-anchor="end">21.1°N</text>
<text x="-16.4" y="712.5" font-size="33.3" text-anchor="end">21°N</text>
<text transform="translate(686.7 698) rotate(-90)" font-size="19.8">Ocean Data View</text>
<g transform="translate(698.0 0)">
<use href="#cbar"/>
<text x="30.2" y="712.6" font-size="32">0</text>
<text x="30.2" y="612.3" font-size="32">0.05</text>
<text x="30.2" y="511.9" font-size="32">0.1</text>
<text x="30.2" y="411.6" font-size="32">0.15</text>
<text x="30.2" y="311.2" font-size="32">0.2</text>
<text x="30.2" y="210.9" font-size="32">0.25</text>
<text x="30.2" y="110.5" font-size="32">0.3</text>
<text x="30.2" y="10.2" font-size="32">0.35</text>
<path d="M0.5 702.4h3.6M16.7 702.4h3.6M0.5 602.1h3.6M16.7 602.1h3.6M0.5 501.7h3.6M16.7 501.7h3.6M0.5 401.4h3.6M16.7 401.4h3.6M0.5 301h3.6M16.7 301h3.6M0.5 200.7h3.6M16.7 200.7h3.6M0.5 100.3h3.6M16.7 100.3h3.6M0.5 0h3.6M16.7 0h3.6" stroke="#3a2a20" stroke-width="1.4" fill="none" opacity="0.8"/>
</g>
</g>
<g transform="translate(917.2 11) scale(1.0072 1.0071)">
<use href="#frame"/>
<use href="#base"/>
<g clip-path="url(#crclip)"><g><g filter="url(#bl)">
<path fill="#7430ff" d="M444 522h6v6h-6zM438 528h18v6h-18zM438 534h18v6h-18zM432 540h30v6h-30zM432 546h30v6h-30zM432 552h30v6h-30zM438 558h24v6h-24zM444 564h18v6h-18zM450 570h6v6h-6z"/>
<path fill="#7030ff" d="M432 522h12v6h-12zM432 528h6v6h-6zM426 534h12v6h-12zM426 540h6v6h-6zM420 546h12v6h-12zM420 552h12v6h-12zM420 558h18v6h-18zM426 564h18v6h-18zM432 570h18v6h-18zM444 576h6v6h-6z"/>
<path fill="#6c36ff" d="M432 516h12v6h-12zM426 522h6v6h-6zM426 528h6v6h-6zM420 534h6v6h-6zM420 540h6v6h-6zM414 552h6v6h-6zM414 558h6v6h-6zM420 564h6v6h-6zM420 570h12v6h-12z"/>
<path fill="#683cff" d="M420 528h6v6h-6zM414 534h6v6h-6zM414 540h6v6h-6zM414 546h6v6h-6zM414 564h6v6h-6zM414 570h6v6h-6z"/>
<path fill="#6443ff" d="M432 510h6v6h-6zM426 516h6v6h-6zM420 522h6v6h-6zM414 528h6v6h-6zM408 552h6v6h-6zM408 558h6v6h-6zM408 564h6v6h-6z"/>
<path fill="#6049ff" d="M408 540h6v6h-6zM408 546h6v6h-6zM408 570h6v6h-6z"/>
<path fill="#5d50ff" d="M426 510h6v6h-6zM420 516h6v6h-6zM414 522h6v6h-6zM408 534h6v6h-6zM414 582h6v6h-6z"/>
<path fill="#5b58ff" d="M408 576h6v6h-6z"/>
<path fill="#585fff" d="M408 528h6v6h-6z"/>
<path fill="#5264ff" d="M426 504h6v6h-6zM420 510h6v6h-6zM402 540h6v6h-6zM402 546h6v6h-6zM402 552h6v6h-6zM402 558h6v6h-6zM402 564h6v6h-6zM414 588h6v6h-6z"/>
<path fill="#4b69ff" d="M414 516h6v6h-6z"/>
<path fill="#446dff" d="M402 426h6v6h-6zM402 432h12v6h-12zM408 438h6v6h-6zM408 522h6v6h-6zM402 534h6v6h-6zM402 570h6v6h-6zM408 582h6v6h-6z"/>
<path fill="#3d73ff" d="M390 414h6v6h-6zM384 420h18v6h-18zM378 426h24v6h-24zM384 432h18v6h-18zM384 438h24v6h-24zM378 444h42v6h-42zM378 450h42v6h-42zM372 456h48v6h-48zM372 462h48v6h-48zM372 468h48v6h-48zM402 474h24v6h-24z"/>
<path fill="#367aff" d="M372 444h6v6h-6zM372 450h6v6h-6zM366 456h6v6h-6zM366 462h6v6h-6zM366 468h6v6h-6zM372 474h30v6h-30zM384 480h42v6h-42zM420 504h6v6h-6z"/>
<path fill="#2f81ff" d="M366 444h6v6h-6zM366 450h6v6h-6zM366 474h6v6h-6zM372 480h12v6h-12zM408 486h18v6h-18zM414 510h6v6h-6zM402 528h6v6h-6z"/>
<path fill="#2888ff" d="M366 438h6v6h-6zM360 462h6v6h-6zM360 468h6v6h-6zM366 480h6v6h-6zM390 486h18v6h-18zM420 498h6v6h-6zM402 576h6v6h-6zM408 588h6v6h-6z"/>
<path fill="#218fff" d="M360 456h6v6h-6zM360 474h6v6h-6zM378 486h12v6h-12zM408 492h12v6h-12zM408 516h6v6h-6z"/>
<path fill="#1c98fd" d="M360 450h6v6h-6zM402 492h6v6h-6zM414 498h6v6h-6zM414 504h6v6h-6zM396 540h6v6h-6zM396 546h6v6h-6zM396 552h6v6h-6z"/>
<path fill="#17a1fb" d="M360 438h6v6h-6zM360 444h6v6h-6zM360 480h6v6h-6zM372 486h6v6h-6zM396 492h6v6h-6z"/>
<path fill="#13aaf9" d="M390 492h6v6h-6zM408 498h6v6h-6zM402 522h6v6h-6zM396 558h6v6h-6zM408 594h6v6h-6z"/>
<path fill="#0eb3f6" d="M354 468h6v6h-6zM354 474h6v6h-6zM366 486h6v6h-6zM384 492h6v6h-6zM408 510h6v6h-6zM396 534h6v6h-6zM402 582h6v6h-6z"/>
<path fill="#09bbf1" d="M354 462h6v6h-6zM402 498h6v6h-6zM408 504h6v6h-6zM336 540h6v6h-6zM342 546h6v6h-6zM396 564h6v6h-6z"/>
<path fill="#04c2ec" d="M354 456h6v6h-6zM378 492h6v6h-6zM342 540h6v6h-6zM336 546h6v6h-6z"/>
<path fill="#00c9e6" d="M354 450h6v6h-6zM354 480h6v6h-6zM396 498h6v6h-6zM330 534h6v6h-6zM330 540h6v6h-6zM348 546h6v6h-6zM342 552h6v6h-6z"/>
<path fill="#00cbde" d="M354 444h6v6h-6zM360 486h6v6h-6zM336 534h6v6h-6zM348 552h6v6h-6z"/>
<path fill="#00ced7" d="M354 438h6v6h-6zM372 492h6v6h-6zM390 498h6v6h-6zM402 504h6v6h-6zM396 528h6v6h-6zM324 534h6v6h-6zM396 570h6v6h-6z"/>
<path fill="#00d0cf" d="M354 432h6v6h-6zM402 516h6v6h-6zM324 528h12v6h-12zM330 546h6v6h-6zM336 552h6v6h-6zM402 588h6v6h-6z"/>
<path fill="#00d1c9" d="M348 474h6v6h-6zM384 498h6v6h-6zM342 534h6v6h-6zM348 540h6v6h-6z"/>
<path fill="#00d2c2" d="M348 468h6v6h-6zM402 510h6v6h-6zM318 528h6v6h-6zM324 540h6v6h-6z"/>
<path fill="#00d3bb" d="M348 462h6v6h-6zM348 480h6v6h-6zM366 492h6v6h-6zM396 504h6v6h-6zM324 522h6v6h-6zM336 528h6v6h-6zM318 534h6v6h-6zM354 546h6v6h-6zM354 552h6v6h-6zM348 558h6v6h-6z"/>
<path fill="#00d5b2" d="M348 456h6v6h-6zM354 486h6v6h-6zM318 522h6v6h-6zM390 540h6v6h-6zM390 546h6v6h-6zM342 558h6v6h-6z"/>
<path fill="#00d6a7" d="M348 450h6v6h-6zM378 498h6v6h-6zM318 516h6v6h-6zM312 522h6v6h-6zM312 528h6v6h-6zM396 576h6v6h-6zM402 594h6v6h-6z"/>
<path fill="#00d79b" d="M348 444h6v6h-6zM300 474h6v6h-6zM294 480h18v6h-18zM294 486h24v6h-24zM294 492h24v6h-24zM294 498h24v6h-24zM300 504h18v6h-18zM300 510h24v6h-24zM300 516h18v6h-18zM306 522h6v6h-6zM330 522h6v6h-6zM396 522h6v6h-6z"/>
<path fill="#00d890" d="M348 432h6v6h-6zM348 438h6v6h-6zM294 468h18v6h-18zM294 474h6v6h-6zM306 474h6v6h-6zM288 480h6v6h-6zM312 480h6v6h-6zM288 486h6v6h-6zM318 486h6v6h-6zM318 492h6v6h-6zM318 498h6v6h-6zM294 504h6v6h-6zM318 504h6v6h-6zM390 504h6v6h-6zM294 510h6v6h-6zM294 516h6v6h-6zM324 516h6v6h-6zM294 522h12v6h-12zM300 528h12v6h-12zM390 534h6v6h-6zM390 552h6v6h-6z"/>
<path fill="#02d583" d="M300 462h12v6h-12zM288 468h6v6h-6zM342 468h6v6h-6zM288 474h6v6h-6zM312 474h6v6h-6zM342 474h6v6h-6zM318 480h6v6h-6zM288 492h6v6h-6zM360 492h6v6h-6zM288 498h6v6h-6zM288 504h6v6h-6zM288 510h6v6h-6zM288 516h6v6h-6zM288 522h6v6h-6zM288 528h12v6h-12zM348 534h6v6h-6zM354 540h6v6h-6zM324 546h6v6h-6zM330 552h6v6h-6z"/>
<path fill="#04d176" d="M294 462h6v6h-6zM342 462h6v6h-6zM312 468h6v6h-6zM282 474h6v6h-6zM318 474h6v6h-6zM276 480h12v6h-12zM342 480h6v6h-6zM276 486h12v6h-12zM324 486h6v6h-6zM282 492h6v6h-6zM324 492h6v6h-6zM282 498h6v6h-6zM324 498h6v6h-6zM372 498h6v6h-6zM282 504h6v6h-6zM324 504h6v6h-6zM282 510h6v6h-6zM324 510h6v6h-6zM396 510h6v6h-6zM276 516h12v6h-12zM276 522h12v6h-12zM276 528h12v6h-12zM276 534h24v6h-24zM312 534h6v6h-6zM318 540h6v6h-6zM354 558h6v6h-6z"/>
<path fill="#07ce68" d="M342 444h6v6h-6zM342 450h6v6h-6zM300 456h12v6h-12zM342 456h6v6h-6zM288 462h6v6h-6zM312 462h6v6h-6zM264 468h24v6h-24zM318 468h6v6h-6zM258 474h24v6h-24zM258 480h18v6h-18zM324 480h6v6h-6zM258 486h18v6h-18zM348 486h6v6h-6zM258 492h24v6h-24zM258 498h24v6h-24zM258 504h24v6h-24zM258 510h24v6h-24zM258 516h18v6h-18zM258 522h18v6h-18zM258 528h18v6h-18zM342 528h6v6h-6zM258 534h18v6h-18zM264 540h24v6h-24zM264 546h18v6h-18zM270 552h6v6h-6zM390 558h6v6h-6z"/>
<path fill="#08ca5c" d="M342 426h6v6h-6zM342 432h6v6h-6zM342 438h6v6h-6zM312 456h6v6h-6zM318 462h6v6h-6zM252 468h12v6h-12zM336 468h6v6h-6zM252 474h6v6h-6zM324 474h6v6h-6zM336 474h6v6h-6zM252 480h6v6h-6zM330 480h12v6h-12zM252 486h6v6h-6zM252 492h6v6h-6zM252 498h6v6h-6zM252 504h6v6h-6zM384 504h6v6h-6zM252 510h6v6h-6zM252 516h6v6h-6zM396 516h6v6h-6zM252 522h6v6h-6zM252 528h6v6h-6zM252 534h6v6h-6zM300 534h12v6h-12zM258 540h6v6h-6zM288 540h6v6h-6zM258 546h6v6h-6zM264 552h6v6h-6zM336 558h6v6h-6zM396 582h6v6h-6zM402 600h6v6h-6z"/>
<path fill="#08c752" d="M330 420h12v6h-12zM330 426h12v6h-12zM330 432h12v6h-12zM324 438h18v6h-18zM318 444h24v6h-24zM306 450h36v6h-36zM294 456h6v6h-6zM318 456h24v6h-24zM258 462h18v6h-18zM282 462h6v6h-6zM324 462h18v6h-18zM246 468h6v6h-6zM324 468h12v6h-12zM246 474h6v6h-6zM330 474h6v6h-6zM246 480h6v6h-6zM246 486h6v6h-6zM330 486h6v6h-6zM246 492h6v6h-6zM246 498h6v6h-6zM246 504h6v6h-6zM246 510h6v6h-6zM246 516h6v6h-6zM330 516h6v6h-6zM246 522h6v6h-6zM336 522h6v6h-6zM246 528h6v6h-6zM246 534h6v6h-6zM246 540h12v6h-12zM252 546h6v6h-6zM282 546h6v6h-6zM276 552h6v6h-6zM270 558h6v6h-6z"/>
<path fill="#08c248" d="M324 414h12v6h-12zM324 420h6v6h-6zM324 426h6v6h-6zM318 432h12v6h-12zM318 438h6v6h-6zM312 444h6v6h-6zM252 462h6v6h-6zM276 462h6v6h-6zM234 468h12v6h-12zM228 474h18v6h-18zM222 480h24v6h-24zM222 486h24v6h-24zM342 486h6v6h-6zM222 492h24v6h-24zM222 498h24v6h-24zM222 504h24v6h-24zM222 510h24v6h-24zM228 516h18v6h-18zM228 522h18v6h-18zM228 528h18v6h-18zM390 528h6v6h-6zM228 534h18v6h-18zM234 540h12v6h-12zM360 546h6v6h-6zM348 564h6v6h-6z"/>
<path fill="#08be3e" d="M264 102h24v6h-24zM258 108h36v6h-36zM252 114h48v6h-48zM252 120h48v6h-48zM252 126h42v6h-42zM252 132h42v6h-42zM252 138h42v6h-42zM252 144h42v6h-42zM252 150h42v6h-42zM306 150h18v6h-18zM258 156h36v6h-36zM300 156h30v6h-30zM258 162h72v6h-72zM258 168h72v6h-72zM270 174h60v6h-60zM276 180h36v6h-36zM324 408h6v6h-6zM318 426h6v6h-6zM312 438h6v6h-6zM210 450h18v6h-18zM300 450h6v6h-6zM204 456h30v6h-30zM204 462h48v6h-48zM204 468h30v6h-30zM204 474h24v6h-24zM204 480h18v6h-18zM204 486h18v6h-18zM336 486h6v6h-6zM204 492h18v6h-18zM330 492h6v6h-6zM354 492h6v6h-6zM204 498h18v6h-18zM204 504h18v6h-18zM210 510h12v6h-12zM210 516h18v6h-18zM210 522h18v6h-18zM210 528h18v6h-18zM216 534h12v6h-12zM216 540h18v6h-18z"/>
<path fill="#09bb36" d="M252 156h6v6h-6zM252 162h6v6h-6zM258 174h12v6h-12zM264 180h12v6h-12zM312 180h18v6h-18zM270 186h60v6h-60zM318 420h6v6h-6zM222 444h6v6h-6zM306 444h6v6h-6zM228 450h6v6h-6zM234 456h6v6h-6zM198 462h6v6h-6zM198 468h6v6h-6zM198 474h6v6h-6zM198 480h6v6h-6zM198 486h6v6h-6zM198 492h6v6h-6zM366 498h6v6h-6zM204 510h6v6h-6zM390 510h6v6h-6zM204 516h6v6h-6zM204 522h6v6h-6zM210 534h6v6h-6zM210 540h6v6h-6zM294 540h6v6h-6zM216 546h6v6h-6zM360 552h6v6h-6z"/>
<path fill="#0cb831" d="M246 120h6v6h-6zM246 126h6v6h-6zM246 132h6v6h-6zM252 168h6v6h-6zM258 180h6v6h-6zM276 192h54v6h-54zM318 414h6v6h-6zM312 432h6v6h-6zM240 456h18v6h-18zM288 456h6v6h-6zM198 498h6v6h-6zM330 498h6v6h-6zM198 504h6v6h-6zM378 504h6v6h-6zM330 510h6v6h-6zM204 528h6v6h-6zM204 534h6v6h-6zM312 540h6v6h-6zM210 546h6v6h-6zM276 558h6v6h-6zM390 564h6v6h-6z"/>
<path fill="#0eb62c" d="M240 126h6v6h-6zM246 138h6v6h-6zM246 144h6v6h-6zM252 174h6v6h-6zM258 186h12v6h-12zM330 372h6v6h-6zM228 444h6v6h-6zM234 450h6v6h-6zM258 456h12v6h-12zM192 468h6v6h-6zM192 474h6v6h-6zM330 504h6v6h-6zM198 510h6v6h-6zM198 516h6v6h-6zM354 534h6v6h-6zM204 540h6v6h-6zM360 540h6v6h-6zM282 552h6v6h-6zM270 564h6v6h-6zM342 564h6v6h-6zM396 588h6v6h-6z"/>
<path fill="#10b427" d="M240 132h6v6h-6zM240 138h6v6h-6zM246 150h6v6h-6zM270 192h6v6h-6zM300 198h24v6h-24zM318 408h6v6h-6zM312 426h6v6h-6zM270 456h6v6h-6zM192 480h6v6h-6zM192 486h6v6h-6zM198 522h6v6h-6zM348 528h6v6h-6zM204 546h6v6h-6zM288 546h6v6h-6zM318 546h6v6h-6zM354 564h6v6h-6z"/>
<path fill="#10b325" d="M240 144h6v6h-6zM246 156h6v6h-6zM252 180h6v6h-6zM282 198h18v6h-18zM306 438h6v6h-6zM240 450h6v6h-6zM294 450h6v6h-6zM276 456h12v6h-12zM192 492h6v6h-6zM336 492h6v6h-6zM348 492h6v6h-6zM336 516h6v6h-6zM390 522h6v6h-6zM198 528h6v6h-6zM384 540h6v6h-6z"/>
<path fill="#10b123" d="M234 132h6v6h-6zM240 150h6v6h-6zM246 162h6v6h-6zM264 192h6v6h-6zM276 198h6v6h-6zM324 378h6v6h-6zM318 402h6v6h-6zM228 438h6v6h-6zM342 492h6v6h-6zM192 498h6v6h-6zM384 510h6v6h-6zM390 516h6v6h-6zM342 522h6v6h-6zM300 540h6v6h-6zM324 552h6v6h-6z"/>
<path fill="#10b021" d="M234 138h6v6h-6zM240 156h6v6h-6zM258 192h6v6h-6zM234 444h6v6h-6zM300 444h6v6h-6zM246 450h6v6h-6zM360 498h6v6h-6zM192 504h6v6h-6zM372 504h6v6h-6zM198 534h6v6h-6zM384 534h6v6h-6zM306 540h6v6h-6zM384 546h6v6h-6z"/>
<path fill="#14af1f" d="M234 144h6v6h-6zM246 168h6v6h-6zM252 186h6v6h-6zM300 204h12v6h-12zM312 420h6v6h-6zM192 510h6v6h-6zM198 540h6v6h-6zM330 558h6v6h-6zM390 570h6v6h-6zM396 594h6v6h-6z"/>
<path fill="#19ae1d" d="M234 150h6v6h-6zM240 162h6v6h-6zM294 204h6v6h-6zM324 372h6v6h-6zM252 450h6v6h-6zM186 474h6v6h-6zM336 498h6v6h-6zM336 510h6v6h-6zM360 558h6v6h-6z"/>
<path fill="#1fae1b" d="M228 138h6v6h-6zM234 156h6v6h-6zM246 174h6v6h-6zM270 198h6v6h-6zM288 204h6v6h-6zM186 480h6v6h-6zM192 516h6v6h-6zM360 534h6v6h-6zM198 546h6v6h-6z"/>
<path fill="#24ad19" d="M228 144h6v6h-6zM240 168h6v6h-6zM312 414h6v6h-6zM306 432h6v6h-6zM240 444h6v6h-6zM258 450h6v6h-6zM186 486h6v6h-6zM354 498h6v6h-6zM336 504h6v6h-6zM378 510h6v6h-6zM192 522h6v6h-6zM384 528h6v6h-6zM366 540h6v6h-6zM366 546h6v6h-6zM198 552h6v6h-6zM384 552h6v6h-6z"/>
<path fill="#2aad17" d="M234 162h6v6h-6zM282 204h6v6h-6zM264 450h6v6h-6zM288 450h6v6h-6zM342 498h6v6h-6zM366 504h6v6h-6zM342 516h6v6h-6zM384 516h6v6h-6zM354 528h6v6h-6zM276 564h6v6h-6zM348 570h6v6h-6zM396 600h6v6h-6z"/>
<path fill="#33af15" d="M228 150h6v6h-6zM240 174h6v6h-6zM246 180h6v6h-6zM252 192h6v6h-6zM264 198h6v6h-6zM324 366h6v6h-6zM234 438h6v6h-6zM186 492h6v6h-6zM348 498h6v6h-6zM348 522h6v6h-6zM192 528h6v6h-6zM336 564h6v6h-6z"/>
<path fill="#3db113" d="M228 156h6v6h-6zM234 168h6v6h-6zM300 210h6v6h-6zM318 384h6v6h-6zM270 450h6v6h-6zM384 522h6v6h-6zM366 534h6v6h-6zM294 546h6v6h-6zM312 546h6v6h-6zM390 576h6v6h-6z"/>
<path fill="#46b311" d="M276 204h6v6h-6zM312 408h6v6h-6zM300 438h6v6h-6zM246 444h6v6h-6zM186 498h6v6h-6zM342 504h6v6h-6zM342 510h6v6h-6zM372 510h6v6h-6zM192 534h6v6h-6zM378 534h6v6h-6zM378 540h6v6h-6zM282 558h6v6h-6z"/>
<path fill="#53b60e" d="M228 162h6v6h-6zM240 180h6v6h-6zM258 198h6v6h-6zM294 210h6v6h-6zM294 444h6v6h-6zM276 450h12v6h-12zM186 504h6v6h-6zM360 504h6v6h-6zM378 516h6v6h-6zM360 528h6v6h-6zM372 540h6v6h-6z"/>
<path fill="#62b80c" d="M234 174h6v6h-6zM246 186h6v6h-6zM306 426h6v6h-6zM348 504h12v6h-12zM378 528h6v6h-6zM372 534h6v6h-6zM192 540h6v6h-6zM366 552h6v6h-6zM384 558h6v6h-6zM354 570h6v6h-6z"/>
<path fill="#71bb09" d="M222 156h6v6h-6zM288 210h6v6h-6zM318 378h6v6h-6zM186 510h6v6h-6zM366 510h6v6h-6zM348 516h6v6h-6zM354 522h6v6h-6zM378 522h6v6h-6zM366 528h6v6h-6zM378 546h6v6h-6zM288 552h6v6h-6zM318 552h6v6h-6zM342 570h6v6h-6z"/>
<path fill="#7dbd08" d="M228 168h6v6h-6zM312 402h6v6h-6zM252 444h6v6h-6zM348 510h6v6h-6zM372 516h6v6h-6zM372 528h6v6h-6zM192 546h6v6h-6zM372 546h6v6h-6z"/>
<path fill="#88c008" d="M222 162h6v6h-6zM234 180h6v6h-6zM240 186h6v6h-6zM234 432h6v6h-6zM240 438h6v6h-6zM180 480h6v6h-6zM354 510h12v6h-12zM186 516h6v6h-6zM354 516h6v6h-6zM366 516h6v6h-6zM360 522h18v6h-18zM192 552h6v6h-6zM390 582h6v6h-6z"/>
<path fill="#93c308" d="M228 174h6v6h-6zM252 198h6v6h-6zM270 204h6v6h-6zM180 486h6v6h-6zM360 516h6v6h-6zM306 546h6v6h-6zM360 564h6v6h-6z"/>
<path fill="#a0c608" d="M222 168h6v6h-6zM246 192h6v6h-6zM282 210h6v6h-6zM300 216h6v6h-6zM318 372h6v6h-6zM258 444h6v6h-6zM186 522h6v6h-6zM300 546h6v6h-6zM324 558h6v6h-6z"/>
<path fill="#afc908" d="M312 396h6v6h-6zM306 420h6v6h-6zM264 444h6v6h-6zM180 492h6v6h-6zM384 564h6v6h-6zM390 588h6v6h-6z"/>
<path fill="#becc08" d="M228 180h6v6h-6zM234 186h6v6h-6zM240 192h6v6h-6zM294 216h6v6h-6zM300 432h6v6h-6zM288 444h6v6h-6zM186 528h6v6h-6zM378 552h6v6h-6z"/>
<path fill="#cdcf05" d="M222 174h6v6h-6zM246 438h6v6h-6zM180 498h6v6h-6zM186 534h6v6h-6zM348 576h6v6h-6z"/>
<path fill="#dbd103" d="M264 204h6v6h-6zM318 366h6v6h-6zM270 444h6v6h-6zM180 504h6v6h-6zM186 540h6v6h-6zM372 552h6v6h-6zM366 558h6v6h-6zM330 564h6v6h-6zM276 570h6v6h-6zM390 594h6v6h-6z"/>
<path fill="#e9d400" d="M216 174h6v6h-6zM222 180h6v6h-6zM228 186h6v6h-6zM234 192h6v6h-6zM246 198h6v6h-6zM276 210h6v6h-6zM288 216h6v6h-6zM294 438h6v6h-6zM312 552h6v6h-6z"/>
<path fill="#f2d400" d="M258 204h6v6h-6zM306 414h6v6h-6zM276 444h6v6h-6zM180 510h6v6h-6zM186 546h6v6h-6zM186 552h6v6h-6zM354 576h6v6h-6z"/>
<path fill="#fbd400" d="M216 180h6v6h-6zM240 198h6v6h-6zM240 432h6v6h-6zM252 438h6v6h-6zM282 444h6v6h-6zM180 516h6v6h-6zM186 558h6v6h-6zM384 570h6v6h-6z"/>
<path fill="#ffd400" d="M222 186h6v6h-6zM228 192h6v6h-6zM252 204h6v6h-6zM174 492h6v6h-6zM180 522h6v6h-6zM378 558h6v6h-6zM336 570h6v6h-6z"/>
<path fill="#ffd400" d="M234 198h6v6h-6zM318 360h6v6h-6zM312 384h6v6h-6zM174 498h6v6h-6zM174 504h6v6h-6zM180 528h6v6h-6zM180 534h6v6h-6zM294 552h6v6h-6zM282 564h6v6h-6zM360 570h6v6h-6z"/>
<path fill="#ffd400" d="M216 186h6v6h-6zM222 192h6v6h-6zM282 216h6v6h-6zM300 426h6v6h-6zM258 438h6v6h-6zM174 510h6v6h-6zM180 540h6v6h-6zM180 546h6v6h-6zM180 552h6v6h-6zM318 558h6v6h-6zM342 576h6v6h-6z"/>
<path fill="#ffd400" d="M228 198h6v6h-6zM246 204h6v6h-6zM294 222h6v6h-6zM306 408h6v6h-6zM246 432h6v6h-6zM174 516h6v6h-6zM174 522h6v6h-6zM174 528h6v6h-6zM174 534h6v6h-6zM306 552h6v6h-6zM180 558h6v6h-6z"/>
<path fill="#ffcf00" d="M216 192h6v6h-6zM240 204h6v6h-6zM270 210h6v6h-6zM312 378h6v6h-6zM264 438h6v6h-6zM132 510h42v6h-42zM108 516h66v6h-66zM102 522h72v6h-72zM102 528h72v6h-72zM102 534h72v6h-72zM102 540h78v6h-78zM102 546h78v6h-78zM102 552h78v6h-78zM102 558h78v6h-78zM288 558h6v6h-6zM372 558h6v6h-6zM108 564h66v6h-66zM114 570h24v6h-24zM384 576h6v6h-6z"/>
<path fill="#ffcb00" d="M222 198h6v6h-6zM234 204h6v6h-6zM288 438h6v6h-6zM366 564h6v6h-6zM378 564h6v6h-6z"/>
<path fill="#ffc600" d="M216 198h6v6h-6zM228 204h6v6h-6zM288 222h6v6h-6zM306 402h6v6h-6zM240 426h6v6h-6zM294 432h6v6h-6zM270 438h6v6h-6zM300 552h6v6h-6zM348 582h6v6h-6zM384 582h6v6h-6z"/>
<path fill="#ffbf00" d="M222 204h6v6h-6zM312 372h6v6h-6zM252 432h6v6h-6zM324 564h6v6h-6zM354 582h6v6h-6zM384 588h6v6h-6zM384 594h6v6h-6z"/>
<path fill="#ffb700" d="M216 204h6v6h-6zM234 210h18v6h-18zM264 210h6v6h-6zM276 216h6v6h-6zM300 420h6v6h-6zM276 438h12v6h-12zM360 576h6v6h-6zM384 600h6v6h-6z"/>
<path fill="#ffb000" d="M210 204h6v6h-6zM222 210h12v6h-12zM252 210h12v6h-12zM312 366h6v6h-6zM306 396h6v6h-6zM246 426h6v6h-6zM258 432h6v6h-6zM312 558h6v6h-6zM372 564h6v6h-6z"/>
<path fill="#ffa800" d="M216 210h6v6h-6zM282 222h6v6h-6zM288 228h6v6h-6zM330 570h6v6h-6zM378 570h6v6h-6zM276 576h6v6h-6z"/>
<path fill="#ffa000" d="M210 210h6v6h-6zM222 216h24v6h-24zM300 414h6v6h-6zM240 420h6v6h-6zM294 426h6v6h-6zM264 432h6v6h-6zM366 570h6v6h-6zM336 576h6v6h-6z"/>
<path fill="#ff9302" d="M210 216h12v6h-12zM246 216h6v6h-6zM288 234h6v6h-6zM312 360h6v6h-6zM252 426h6v6h-6zM270 432h6v6h-6zM288 432h6v6h-6zM378 576h6v6h-6zM342 582h6v6h-6zM354 588h6v6h-6z"/>
<path fill="#ff8604" d="M216 222h24v6h-24zM306 384h6v6h-6zM246 420h6v6h-6zM306 558h6v6h-6zM318 564h6v6h-6zM372 570h6v6h-6zM360 582h6v6h-6zM348 588h6v6h-6zM378 600h6v6h-6z"/>
<path fill="#ff7807" d="M270 216h6v6h-6zM210 222h6v6h-6zM240 222h6v6h-6zM216 228h18v6h-18zM282 228h6v6h-6zM282 234h6v6h-6zM288 240h6v6h-6zM306 378h6v6h-6zM300 408h6v6h-6zM240 414h6v6h-6zM258 426h6v6h-6zM276 432h12v6h-12zM294 558h6v6h-6zM282 570h6v6h-6zM366 576h6v6h-6zM378 582h6v6h-6zM378 588h6v6h-6zM378 594h6v6h-6z"/>
<path fill="#fd6c08" d="M252 216h6v6h-6zM246 222h6v6h-6zM276 222h6v6h-6zM234 228h6v6h-6zM222 234h6v6h-6zM282 240h6v6h-6zM282 246h12v6h-12zM306 372h6v6h-6zM300 402h6v6h-6zM246 414h6v6h-6zM252 420h6v6h-6zM294 420h6v6h-6zM264 426h6v6h-6zM288 426h6v6h-6zM300 558h6v6h-6zM372 576h6v6h-6zM360 588h6v6h-6z"/>
<path fill="#f96008" d="M258 216h12v6h-12zM240 228h6v6h-6zM228 234h6v6h-6zM222 240h6v6h-6zM294 246h6v6h-6zM276 252h18v6h-18zM306 366h6v6h-6zM300 396h6v6h-6zM258 420h6v6h-6zM270 426h6v6h-6zM288 564h6v6h-6zM366 582h12v6h-12zM372 588h6v6h-6zM354 594h6v6h-6zM372 594h6v6h-6zM372 600h6v6h-6zM372 606h6v6h-6z"/>
<path fill="#f55508" d="M246 228h6v6h-6zM276 228h6v6h-6zM234 234h6v6h-6zM276 234h6v6h-6zM228 240h6v6h-6zM276 240h6v6h-6zM276 246h6v6h-6zM294 252h6v6h-6zM276 258h18v6h-18zM276 264h12v6h-12zM306 360h6v6h-6zM300 390h6v6h-6zM246 408h6v6h-6zM252 414h12v6h-12zM294 414h6v6h-6zM264 420h12v6h-12zM288 420h6v6h-6zM276 426h12v6h-12zM312 564h6v6h-6zM324 570h6v6h-6zM342 588h6v6h-6zM366 588h6v6h-6zM348 594h6v6h-6zM360 594h12v6h-12z"/>
<path fill="#f14908" d="M240 234h6v6h-6zM234 240h6v6h-6zM228 246h6v6h-6zM270 252h6v6h-6zM294 258h18v6h-18zM288 264h36v6h-36zM276 270h54v6h-54zM276 276h60v6h-60zM276 282h60v6h-60zM276 288h60v6h-60zM276 294h60v6h-60zM276 300h54v6h-54zM276 306h48v6h-48zM276 312h48v6h-48zM282 318h36v6h-36zM288 324h30v6h-30zM294 330h18v6h-18zM300 336h12v6h-12zM300 342h6v6h-6zM300 360h6v6h-6zM300 366h6v6h-6zM300 372h6v6h-6zM300 378h6v6h-6zM300 384h6v6h-6zM246 396h6v6h-6zM246 402h12v6h-12zM294 402h6v6h-6zM252 408h18v6h-18zM294 408h6v6h-6zM264 414h12v6h-12zM288 414h6v6h-6zM276 420h12v6h-12zM330 576h6v6h-6zM336 582h6v6h-6zM354 600h18v6h-18zM360 606h12v6h-12z"/>
<path fill="#eb3b05" d="M252 222h6v6h-6zM270 222h6v6h-6zM246 234h6v6h-6zM240 240h6v6h-6zM270 240h6v6h-6zM234 246h12v6h-12zM270 246h6v6h-6zM234 252h18v6h-18zM264 252h6v6h-6zM240 258h6v6h-6zM270 258h6v6h-6zM270 264h6v6h-6zM270 270h6v6h-6zM270 276h6v6h-6zM270 282h6v6h-6zM264 288h12v6h-12zM270 294h6v6h-6zM270 300h6v6h-6zM270 306h6v6h-6zM264 312h12v6h-12zM264 318h18v6h-18zM258 324h30v6h-30zM252 330h42v6h-42zM252 336h48v6h-48zM252 342h48v6h-48zM258 348h42v6h-42zM258 354h42v6h-42zM258 360h42v6h-42zM258 366h42v6h-42zM252 372h48v6h-48zM252 378h48v6h-48zM246 384h54v6h-54zM246 390h54v6h-54zM252 396h48v6h-48zM258 402h36v6h-36zM270 408h24v6h-24zM276 414h12v6h-12zM306 564h6v6h-6zM354 606h6v6h-6z"/>
<path fill="#e52d03" d="M258 222h12v6h-12zM270 228h6v6h-6zM270 234h6v6h-6zM246 240h24v6h-24zM246 246h24v6h-24zM252 252h12v6h-12zM246 258h24v6h-24zM246 264h24v6h-24zM252 270h18v6h-18zM252 276h18v6h-18zM258 282h12v6h-12zM294 564h12v6h-12zM318 570h6v6h-6zM342 594h6v6h-6zM348 600h6v6h-6zM354 612h6v6h-6z"/>
<path fill="#e02001" d="M252 228h18v6h-18zM252 234h18v6h-18zM312 570h6v6h-6zM282 576h6v6h-6zM336 588h6v6h-6zM348 606h6v6h-6z"/>
<path fill="#df1c08" d="M288 570h6v6h-6zM306 570h6v6h-6zM324 576h6v6h-6zM330 582h6v6h-6zM342 600h6v6h-6zM348 612h6v6h-6z"/>
<path fill="#dd180f" d="M294 570h12v6h-12zM318 576h6v6h-6zM336 594h6v6h-6zM342 606h6v6h-6z"/>
<path fill="#dc1516" d="M288 576h6v6h-6zM306 576h12v6h-12zM282 582h6v6h-6zM324 582h6v6h-6zM330 588h6v6h-6zM336 600h6v6h-6zM342 612h6v6h-6z"/>
<path fill="#dc1621" d="M294 576h12v6h-12zM288 582h6v6h-6zM300 582h24v6h-24zM318 588h12v6h-12zM324 594h12v6h-12zM330 600h6v6h-6zM336 606h6v6h-6zM336 612h6v6h-6z"/>
<path fill="#dc182c" d="M294 582h6v6h-6zM282 588h36v6h-36zM288 594h36v6h-36zM294 600h36v6h-36zM306 606h30v6h-30z"/>
<path fill="#dc1a38" d="M300 606h6v6h-6z"/>
</g></g></g>
<use href="#over"/>
<circle cx="277.4" cy="191" r="3.1" fill="#2b2424"/>
<text x="38.0" y="79.4" font-size="73">B</text>
<text x="103.5" y="138.0" font-size="44" text-anchor="middle">Cr</text>
<text x="106.3" y="188.5" font-size="44" text-anchor="middle">μg/g</text>
<text x="81.4" y="742.6" font-size="33.3" text-anchor="middle">110.3°E</text>
<text x="244.9" y="742.6" font-size="33.3" text-anchor="middle">110.4°E</text>
<text x="408.4" y="742.6" font-size="33.3" text-anchor="middle">110.5°E</text>
<text x="571.9" y="742.6" font-size="33.3" text-anchor="middle">110.6°E</text>
<text transform="translate(686.7 698) rotate(-90)" font-size="19.8">Ocean Data View</text>
<g transform="translate(698.0 0)">
<use href="#cbar"/>
<text x="30.2" y="712.6" font-size="32">0</text>
<text x="30.2" y="584.8" font-size="32">20</text>
<text x="30.2" y="456.9" font-size="32">40</text>
<text x="30.2" y="329.1" font-size="32">60</text>
<text x="30.2" y="201.3" font-size="32">80</text>
<text x="30.2" y="73.5" font-size="32">100</text>
<path d="M0.5 702.4h3.6M16.7 702.4h3.6M0.5 574.6h3.6M16.7 574.6h3.6M0.5 446.7h3.6M16.7 446.7h3.6M0.5 318.9h3.6M16.7 318.9h3.6M0.5 191.1h3.6M16.7 191.1h3.6M0.5 63.3h3.6M16.7 63.3h3.6" stroke="#3a2a20" stroke-width="1.4" fill="none" opacity="0.8"/>
</g>
</g>
<g transform="translate(1725.6 17.7) scale(0.9997 1.0001)">
<use href="#frame"/>
<use href="#base"/>
<g clip-path="url(#crclip)"><g><g filter="url(#bl)">
<path fill="#7430ff" d="M456 540h6v6h-6zM456 546h6v6h-6z"/>
<path fill="#7030ff" d="M438 522h12v6h-12zM432 528h24v6h-24zM426 534h30v6h-30zM426 540h30v6h-30zM426 546h30v6h-30zM426 552h36v6h-36zM426 558h36v6h-36zM426 564h36v6h-36zM432 570h24v6h-24zM444 576h6v6h-6z"/>
<path fill="#6c36ff" d="M432 516h12v6h-12zM426 522h12v6h-12zM420 528h12v6h-12zM420 534h6v6h-6zM420 540h6v6h-6zM414 546h12v6h-12zM414 552h12v6h-12zM414 558h12v6h-12zM414 564h12v6h-12zM420 570h12v6h-12z"/>
<path fill="#683cff" d="M432 510h6v6h-6zM426 516h6v6h-6zM420 522h6v6h-6zM414 534h6v6h-6zM414 540h6v6h-6zM408 558h6v6h-6zM414 570h6v6h-6z"/>
<path fill="#6443ff" d="M414 528h6v6h-6zM408 540h6v6h-6zM408 546h6v6h-6zM408 552h6v6h-6zM408 564h6v6h-6zM408 570h6v6h-6z"/>
<path fill="#6049ff" d="M426 510h6v6h-6zM420 516h6v6h-6zM414 522h6v6h-6zM408 534h6v6h-6zM414 582h6v6h-6z"/>
<path fill="#5d50ff" d="M408 528h6v6h-6zM402 552h6v6h-6zM402 558h6v6h-6zM408 576h6v6h-6z"/>
<path fill="#5b58ff" d="M390 414h6v6h-6zM384 420h18v6h-18zM384 426h24v6h-24zM384 432h30v6h-30zM384 438h30v6h-30zM378 444h42v6h-42zM378 450h42v6h-42zM378 456h42v6h-42zM372 462h48v6h-48zM378 468h42v6h-42zM426 504h6v6h-6zM420 510h6v6h-6zM414 516h6v6h-6zM402 540h6v6h-6zM402 546h6v6h-6zM402 564h6v6h-6zM414 588h6v6h-6z"/>
<path fill="#585fff" d="M378 426h6v6h-6zM372 444h6v6h-6zM366 450h12v6h-12zM366 456h12v6h-12zM366 462h6v6h-6zM366 468h12v6h-12zM366 474h60v6h-60zM384 480h42v6h-42zM408 522h6v6h-6zM402 534h6v6h-6zM402 570h6v6h-6zM408 582h6v6h-6z"/>
<path fill="#5264ff" d="M366 438h6v6h-6zM366 444h6v6h-6zM372 480h12v6h-12zM402 486h24v6h-24zM420 504h6v6h-6z"/>
<path fill="#4b69ff" d="M360 456h6v6h-6zM360 462h6v6h-6zM360 468h6v6h-6zM360 474h6v6h-6zM366 480h6v6h-6zM384 486h18v6h-18zM414 492h6v6h-6zM420 498h6v6h-6zM414 510h6v6h-6zM402 528h6v6h-6zM402 576h6v6h-6zM408 588h6v6h-6z"/>
<path fill="#446dff" d="M360 444h6v6h-6zM360 450h6v6h-6zM378 486h6v6h-6zM402 492h12v6h-12z"/>
<path fill="#3d73ff" d="M360 438h6v6h-6zM360 480h6v6h-6zM372 486h6v6h-6zM396 492h6v6h-6zM414 498h6v6h-6zM414 504h6v6h-6zM408 516h6v6h-6zM396 540h6v6h-6zM396 546h6v6h-6zM396 552h6v6h-6z"/>
<path fill="#367aff" d="M354 462h6v6h-6zM354 468h6v6h-6zM354 474h6v6h-6zM366 486h6v6h-6zM390 492h6v6h-6zM408 498h6v6h-6zM396 558h6v6h-6zM408 594h6v6h-6z"/>
<path fill="#2f81ff" d="M354 456h6v6h-6zM384 492h6v6h-6zM402 498h6v6h-6zM408 510h6v6h-6zM402 522h6v6h-6zM396 534h6v6h-6zM402 582h6v6h-6z"/>
<path fill="#2888ff" d="M354 444h6v6h-6zM354 450h6v6h-6zM354 480h6v6h-6zM378 492h6v6h-6zM408 504h6v6h-6zM336 540h6v6h-6zM342 546h6v6h-6zM396 564h6v6h-6z"/>
<path fill="#218fff" d="M354 438h6v6h-6zM300 486h6v6h-6zM360 486h6v6h-6zM300 492h12v6h-12zM300 498h12v6h-12zM396 498h6v6h-6zM300 504h12v6h-12zM300 510h12v6h-12zM342 540h6v6h-6zM336 546h6v6h-6z"/>
<path fill="#1c98fd" d="M354 432h6v6h-6zM300 468h6v6h-6zM288 474h24v6h-24zM288 480h30v6h-30zM288 486h12v6h-12zM306 486h12v6h-12zM288 492h12v6h-12zM312 492h6v6h-6zM372 492h6v6h-6zM288 498h12v6h-12zM312 498h12v6h-12zM390 498h6v6h-6zM288 504h12v6h-12zM312 504h12v6h-12zM288 510h12v6h-12zM312 510h6v6h-6zM288 516h30v6h-30zM288 522h30v6h-30zM288 528h12v6h-12zM330 534h12v6h-12zM330 540h6v6h-6zM348 546h6v6h-6zM342 552h12v6h-12zM396 570h6v6h-6z"/>
<path fill="#17a1fb" d="M288 468h12v6h-12zM306 468h6v6h-6zM348 468h6v6h-6zM252 474h36v6h-36zM312 474h6v6h-6zM348 474h6v6h-6zM252 480h36v6h-36zM252 486h36v6h-36zM318 486h6v6h-6zM252 492h36v6h-36zM318 492h6v6h-6zM252 498h36v6h-36zM252 504h36v6h-36zM402 504h6v6h-6zM252 510h36v6h-36zM318 510h6v6h-6zM252 516h36v6h-36zM318 516h6v6h-6zM252 522h36v6h-36zM318 522h6v6h-6zM258 528h30v6h-30zM300 528h6v6h-6zM324 528h6v6h-6zM396 528h6v6h-6zM258 534h36v6h-36zM324 534h6v6h-6zM258 540h30v6h-30zM264 546h18v6h-18zM402 588h6v6h-6z"/>
<path fill="#13aaf9" d="M348 456h6v6h-6zM300 462h12v6h-12zM348 462h6v6h-6zM252 468h36v6h-36zM246 474h6v6h-6zM234 480h18v6h-18zM318 480h6v6h-6zM222 486h30v6h-30zM222 492h30v6h-30zM222 498h30v6h-30zM384 498h6v6h-6zM222 504h30v6h-30zM228 510h24v6h-24zM228 516h24v6h-24zM402 516h6v6h-6zM228 522h24v6h-24zM234 528h24v6h-24zM306 528h18v6h-18zM330 528h6v6h-6zM234 534h24v6h-24zM294 534h6v6h-6zM240 540h18v6h-18zM348 540h6v6h-6zM252 546h12v6h-12zM330 546h6v6h-6zM264 552h12v6h-12zM336 552h6v6h-6z"/>
<path fill="#0eb3f6" d="M210 450h12v6h-12zM348 450h6v6h-6zM204 456h24v6h-24zM204 462h30v6h-30zM294 462h6v6h-6zM204 468h48v6h-48zM312 468h6v6h-6zM204 474h42v6h-42zM204 480h30v6h-30zM348 480h6v6h-6zM204 486h18v6h-18zM204 492h18v6h-18zM324 492h6v6h-6zM366 492h6v6h-6zM210 498h12v6h-12zM324 498h6v6h-6zM210 504h12v6h-12zM210 510h18v6h-18zM402 510h6v6h-6zM210 516h18v6h-18zM216 522h12v6h-12zM324 522h6v6h-6zM216 528h18v6h-18zM216 534h18v6h-18zM342 534h6v6h-6zM222 540h18v6h-18zM288 540h6v6h-6zM324 540h6v6h-6zM282 546h6v6h-6zM276 552h6v6h-6zM270 558h6v6h-6z"/>
<path fill="#09bbf1" d="M348 432h6v6h-6zM348 438h6v6h-6zM348 444h6v6h-6zM222 450h6v6h-6zM228 456h6v6h-6zM306 456h6v6h-6zM198 462h6v6h-6zM234 462h6v6h-6zM312 462h6v6h-6zM198 468h6v6h-6zM198 474h6v6h-6zM318 474h6v6h-6zM324 486h6v6h-6zM354 486h6v6h-6zM204 498h6v6h-6zM204 504h6v6h-6zM324 504h6v6h-6zM396 504h6v6h-6zM204 510h6v6h-6zM324 516h6v6h-6zM210 522h6v6h-6zM210 528h6v6h-6zM336 528h6v6h-6zM210 534h6v6h-6zM300 534h6v6h-6zM318 534h6v6h-6zM216 540h6v6h-6zM390 540h6v6h-6zM216 546h6v6h-6zM354 546h6v6h-6zM390 546h6v6h-6zM354 552h6v6h-6zM348 558h6v6h-6zM396 576h6v6h-6z"/>
<path fill="#04c2ec" d="M300 456h6v6h-6zM312 456h6v6h-6zM240 462h36v6h-36zM288 462h6v6h-6zM318 468h6v6h-6zM342 468h6v6h-6zM342 474h6v6h-6zM198 480h6v6h-6zM324 480h6v6h-6zM198 486h6v6h-6zM198 492h6v6h-6zM378 498h6v6h-6zM324 510h6v6h-6zM204 516h6v6h-6zM204 522h6v6h-6zM210 540h6v6h-6zM342 558h6v6h-6zM402 594h6v6h-6z"/>
<path fill="#00c9e6" d="M342 438h6v6h-6zM222 444h6v6h-6zM342 444h6v6h-6zM228 450h6v6h-6zM342 450h6v6h-6zM234 456h6v6h-6zM342 456h6v6h-6zM276 462h12v6h-12zM318 462h6v6h-6zM342 462h6v6h-6zM324 474h6v6h-6zM342 480h6v6h-6zM198 498h6v6h-6zM198 504h6v6h-6zM390 504h6v6h-6zM330 522h6v6h-6zM396 522h6v6h-6zM204 528h6v6h-6zM306 534h12v6h-12zM390 534h6v6h-6zM210 546h6v6h-6zM390 552h6v6h-6z"/>
<path fill="#00cbde" d="M336 420h6v6h-6zM336 426h12v6h-12zM336 432h12v6h-12zM336 438h6v6h-6zM336 444h6v6h-6zM306 450h24v6h-24zM336 450h6v6h-6zM318 456h24v6h-24zM324 462h18v6h-18zM192 468h6v6h-6zM324 468h18v6h-18zM330 474h12v6h-12zM330 480h12v6h-12zM330 486h6v6h-6zM360 492h6v6h-6zM198 510h6v6h-6zM204 534h6v6h-6zM294 540h6v6h-6zM276 558h6v6h-6zM270 564h6v6h-6z"/>
<path fill="#00ced7" d="M330 414h6v6h-6zM330 420h6v6h-6zM324 426h12v6h-12zM324 432h12v6h-12zM318 438h18v6h-18zM312 444h24v6h-24zM330 450h6v6h-6zM240 456h6v6h-6zM294 456h6v6h-6zM192 474h6v6h-6zM348 486h6v6h-6zM330 492h6v6h-6zM372 498h6v6h-6zM396 510h6v6h-6zM198 516h6v6h-6zM348 534h6v6h-6zM204 540h6v6h-6zM318 540h6v6h-6zM354 540h6v6h-6zM324 546h6v6h-6zM282 552h6v6h-6zM330 552h6v6h-6zM354 558h6v6h-6zM390 558h6v6h-6zM402 600h6v6h-6z"/>
<path fill="#00d0cf" d="M324 414h6v6h-6zM324 420h6v6h-6zM318 432h6v6h-6zM228 444h6v6h-6zM246 456h6v6h-6zM192 480h6v6h-6zM192 486h6v6h-6zM384 504h6v6h-6zM396 516h6v6h-6zM342 528h6v6h-6zM204 546h6v6h-6zM288 546h6v6h-6zM396 582h6v6h-6z"/>
<path fill="#00d1c9" d="M270 126h6v6h-6zM270 132h6v6h-6zM270 138h6v6h-6zM270 144h12v6h-12zM270 150h12v6h-12zM276 156h6v6h-6zM276 162h6v6h-6zM324 408h6v6h-6zM318 426h6v6h-6zM234 450h6v6h-6zM336 486h12v6h-12zM330 498h6v6h-6zM330 516h6v6h-6zM198 522h6v6h-6zM336 522h6v6h-6zM336 558h6v6h-6z"/>
<path fill="#00d2c2" d="M264 102h12v6h-12zM264 108h18v6h-18zM258 114h24v6h-24zM252 120h30v6h-30zM252 126h18v6h-18zM276 126h6v6h-6zM252 132h18v6h-18zM276 132h6v6h-6zM252 138h18v6h-18zM276 138h6v6h-6zM252 144h18v6h-18zM282 144h6v6h-6zM252 150h18v6h-18zM282 150h6v6h-6zM258 156h18v6h-18zM282 156h6v6h-6zM258 162h18v6h-18zM282 162h6v6h-6zM258 168h30v6h-30zM264 174h30v6h-30zM270 180h24v6h-24zM318 420h6v6h-6zM312 438h6v6h-6zM300 450h6v6h-6zM252 456h6v6h-6zM192 492h6v6h-6zM198 528h6v6h-6zM390 528h6v6h-6zM360 546h6v6h-6zM348 564h6v6h-6zM390 564h6v6h-6z"/>
<path fill="#00d3bb" d="M276 102h6v6h-6zM258 108h6v6h-6zM252 114h6v6h-6zM282 126h6v6h-6zM282 132h6v6h-6zM282 138h6v6h-6zM252 156h6v6h-6zM252 162h6v6h-6zM288 162h6v6h-6zM288 168h6v6h-6zM258 174h6v6h-6zM264 180h6v6h-6zM270 186h24v6h-24zM306 444h6v6h-6zM258 456h6v6h-6zM354 492h6v6h-6zM192 498h6v6h-6zM366 498h6v6h-6zM330 504h6v6h-6zM330 510h6v6h-6zM360 552h6v6h-6z"/>
<path fill="#00d5b2" d="M282 114h6v6h-6zM246 120h6v6h-6zM282 120h6v6h-6zM246 126h6v6h-6zM288 150h6v6h-6zM288 156h6v6h-6zM252 168h6v6h-6zM258 180h6v6h-6zM282 192h12v6h-12zM318 414h6v6h-6zM312 432h6v6h-6zM264 456h6v6h-6zM288 456h6v6h-6zM192 504h6v6h-6zM378 504h6v6h-6zM390 510h6v6h-6zM198 534h6v6h-6zM300 540h6v6h-6zM312 540h6v6h-6zM396 588h6v6h-6z"/>
<path fill="#00d6a7" d="M282 108h6v6h-6zM246 132h6v6h-6zM246 138h6v6h-6zM288 144h6v6h-6zM252 174h6v6h-6zM294 180h6v6h-6zM264 186h6v6h-6zM294 186h6v6h-6zM276 192h6v6h-6zM330 372h6v6h-6zM228 438h6v6h-6zM240 450h6v6h-6zM270 456h6v6h-6zM336 492h6v6h-6zM354 534h6v6h-6zM360 540h6v6h-6zM384 540h6v6h-6zM342 564h6v6h-6zM354 564h6v6h-6z"/>
<path fill="#00d79b" d="M282 102h6v6h-6zM240 126h6v6h-6zM288 138h6v6h-6zM246 144h6v6h-6zM294 168h6v6h-6zM294 174h6v6h-6zM258 186h6v6h-6zM270 192h6v6h-6zM294 192h6v6h-6zM348 492h6v6h-6zM192 510h6v6h-6zM348 528h6v6h-6zM198 540h6v6h-6zM384 546h6v6h-6zM276 564h6v6h-6z"/>
<path fill="#00d890" d="M288 126h6v6h-6zM240 132h6v6h-6zM288 132h6v6h-6zM240 138h6v6h-6zM246 150h6v6h-6zM318 408h6v6h-6zM234 444h6v6h-6zM276 456h12v6h-12zM186 474h6v6h-6zM342 492h6v6h-6zM384 510h6v6h-6zM336 516h6v6h-6zM390 516h6v6h-6zM342 522h6v6h-6zM390 522h6v6h-6zM306 540h6v6h-6zM318 546h6v6h-6zM390 570h6v6h-6zM396 594h6v6h-6z"/>
<path fill="#02d583" d="M288 120h6v6h-6zM240 144h6v6h-6zM246 156h6v6h-6zM294 162h6v6h-6zM252 180h6v6h-6zM282 198h18v6h-18zM312 426h6v6h-6zM336 498h6v6h-6zM360 498h6v6h-6zM372 504h6v6h-6zM384 534h6v6h-6zM324 552h6v6h-6zM360 558h6v6h-6z"/>
<path fill="#04d176" d="M288 108h6v6h-6zM288 114h6v6h-6zM234 132h6v6h-6zM300 186h6v6h-6zM264 192h6v6h-6zM300 192h6v6h-6zM246 450h6v6h-6zM186 480h6v6h-6zM192 516h6v6h-6zM198 546h6v6h-6zM384 552h6v6h-6z"/>
<path fill="#07ce68" d="M234 138h6v6h-6zM240 150h6v6h-6zM246 162h6v6h-6zM300 180h6v6h-6zM276 198h6v6h-6zM300 198h6v6h-6zM318 402h6v6h-6zM306 438h6v6h-6zM294 450h6v6h-6zM336 504h6v6h-6zM336 510h6v6h-6zM360 534h6v6h-6zM366 540h6v6h-6zM294 546h6v6h-6zM366 546h6v6h-6zM282 558h6v6h-6zM330 558h6v6h-6zM396 600h6v6h-6z"/>
<path fill="#08ca5c" d="M234 144h6v6h-6zM240 156h6v6h-6zM300 174h6v6h-6zM252 186h6v6h-6zM258 192h6v6h-6zM324 378h6v6h-6zM186 486h6v6h-6zM354 498h6v6h-6zM378 510h6v6h-6zM192 522h6v6h-6zM384 528h6v6h-6zM198 552h6v6h-6zM390 576h6v6h-6z"/>
<path fill="#08c752" d="M294 114h6v6h-6zM294 120h6v6h-6zM300 162h6v6h-6zM246 168h6v6h-6zM300 168h6v6h-6zM300 444h6v6h-6zM342 498h12v6h-12zM366 504h6v6h-6zM342 516h6v6h-6zM384 516h6v6h-6zM354 528h6v6h-6zM288 552h6v6h-6zM384 558h6v6h-6zM348 570h6v6h-6z"/>
<path fill="#08c248" d="M234 150h6v6h-6zM300 156h6v6h-6zM240 162h6v6h-6zM306 180h6v6h-6zM306 186h6v6h-6zM306 192h6v6h-6zM306 198h6v6h-6zM294 204h12v6h-12zM312 420h6v6h-6zM252 450h6v6h-6zM186 492h6v6h-6zM348 522h6v6h-6zM384 522h6v6h-6zM366 534h6v6h-6zM378 540h6v6h-6zM366 552h6v6h-6zM336 564h6v6h-6z"/>
<path fill="#08be3e" d="M228 138h6v6h-6zM306 150h6v6h-6zM306 156h6v6h-6zM306 162h6v6h-6zM306 168h6v6h-6zM306 174h6v6h-6zM312 180h6v6h-6zM312 186h6v6h-6zM312 192h6v6h-6zM270 198h6v6h-6zM312 198h6v6h-6zM288 204h6v6h-6zM306 204h6v6h-6zM342 504h6v6h-6zM360 504h6v6h-6zM342 510h6v6h-6zM372 510h6v6h-6zM192 528h6v6h-6zM378 534h6v6h-6zM372 540h6v6h-6zM312 546h6v6h-6zM378 546h6v6h-6zM354 570h6v6h-6zM390 582h6v6h-6z"/>
<path fill="#09bb36" d="M312 150h12v6h-12zM234 156h6v6h-6zM312 156h18v6h-18zM312 162h18v6h-18zM312 168h18v6h-18zM246 174h6v6h-6zM312 174h18v6h-18zM318 180h12v6h-12zM318 186h12v6h-12zM318 192h12v6h-12zM318 198h6v6h-6zM324 372h6v6h-6zM240 444h6v6h-6zM378 516h6v6h-6zM360 528h6v6h-6zM372 534h6v6h-6zM372 546h6v6h-6z"/>
<path fill="#0cb831" d="M228 144h6v6h-6zM240 168h6v6h-6zM282 204h6v6h-6zM234 438h6v6h-6zM258 450h6v6h-6zM186 498h6v6h-6zM348 504h12v6h-12zM366 510h6v6h-6zM348 516h6v6h-6zM354 522h6v6h-6zM378 522h6v6h-6zM366 528h6v6h-6zM378 528h6v6h-6zM360 564h6v6h-6z"/>
<path fill="#0eb62c" d="M234 162h6v6h-6zM348 510h6v6h-6zM372 516h6v6h-6zM372 528h6v6h-6zM192 534h6v6h-6zM300 546h6v6h-6zM318 552h6v6h-6zM378 552h6v6h-6zM384 564h6v6h-6zM342 570h6v6h-6zM390 588h6v6h-6z"/>
<path fill="#10b427" d="M228 150h6v6h-6zM252 192h6v6h-6zM306 432h6v6h-6zM264 450h6v6h-6zM354 510h12v6h-12zM354 516h6v6h-6zM366 516h6v6h-6zM360 522h18v6h-18zM306 546h6v6h-6zM390 594h6v6h-6z"/>
<path fill="#10b325" d="M240 174h6v6h-6zM246 180h6v6h-6zM264 198h6v6h-6zM300 210h6v6h-6zM312 414h6v6h-6zM186 504h6v6h-6zM360 516h6v6h-6zM192 540h6v6h-6zM372 552h6v6h-6zM366 558h6v6h-6zM276 570h6v6h-6z"/>
<path fill="#10b123" d="M228 156h6v6h-6zM234 168h6v6h-6zM288 450h6v6h-6zM324 558h6v6h-6z"/>
<path fill="#10b021" d="M276 204h6v6h-6zM294 210h6v6h-6zM324 366h6v6h-6zM270 450h6v6h-6zM186 510h6v6h-6zM378 558h6v6h-6zM384 570h6v6h-6zM348 576h6v6h-6z"/>
<path fill="#14af1f" d="M258 198h6v6h-6zM246 444h6v6h-6zM192 546h6v6h-6zM360 570h6v6h-6zM354 576h6v6h-6z"/>
<path fill="#19ae1d" d="M228 162h6v6h-6zM234 174h6v6h-6zM240 180h6v6h-6zM318 384h6v6h-6zM180 480h6v6h-6zM330 564h6v6h-6z"/>
<path fill="#1fae1b" d="M246 186h6v6h-6zM276 450h6v6h-6zM186 516h6v6h-6zM312 552h6v6h-6zM372 558h6v6h-6zM282 564h6v6h-6zM384 576h6v6h-6z"/>
<path fill="#24ad19" d="M222 156h6v6h-6zM228 168h6v6h-6zM288 210h6v6h-6zM312 408h6v6h-6zM300 438h6v6h-6zM282 450h6v6h-6zM192 552h6v6h-6zM294 552h6v6h-6zM366 564h6v6h-6zM378 564h6v6h-6zM384 582h6v6h-6z"/>
<path fill="#2aad17" d="M294 444h6v6h-6zM180 486h6v6h-6zM336 570h6v6h-6zM384 588h6v6h-6zM384 594h6v6h-6zM384 600h6v6h-6z"/>
<path fill="#33af15" d="M234 180h6v6h-6zM240 186h6v6h-6zM306 426h6v6h-6zM186 522h6v6h-6zM288 558h6v6h-6zM318 558h6v6h-6zM342 576h6v6h-6zM360 576h6v6h-6z"/>
<path fill="#3db113" d="M222 162h6v6h-6zM252 198h6v6h-6zM270 204h6v6h-6zM300 216h6v6h-6zM318 378h6v6h-6zM252 444h6v6h-6zM180 492h6v6h-6zM306 552h6v6h-6zM372 564h6v6h-6zM378 570h6v6h-6zM354 582h6v6h-6z"/>
<path fill="#46b311" d="M228 174h6v6h-6zM282 210h6v6h-6zM234 432h6v6h-6zM240 438h6v6h-6zM186 528h6v6h-6zM300 552h6v6h-6zM366 570h6v6h-6zM348 582h6v6h-6z"/>
<path fill="#53b60e" d="M222 168h6v6h-6zM246 192h6v6h-6zM372 570h6v6h-6zM378 576h6v6h-6zM360 582h6v6h-6zM378 582h6v6h-6zM378 588h6v6h-6zM378 594h6v6h-6zM378 600h6v6h-6z"/>
<path fill="#62b80c" d="M312 402h6v6h-6zM180 498h6v6h-6zM324 564h6v6h-6zM276 576h6v6h-6zM366 576h12v6h-12z"/>
<path fill="#71bb09" d="M228 180h6v6h-6zM234 186h6v6h-6zM294 216h6v6h-6zM186 534h6v6h-6zM312 558h6v6h-6zM366 582h12v6h-12zM354 588h12v6h-12zM372 588h6v6h-6zM372 594h6v6h-6zM372 600h6v6h-6zM372 606h6v6h-6z"/>
<path fill="#7dbd08" d="M222 174h6v6h-6zM240 192h6v6h-6zM258 444h6v6h-6zM180 504h6v6h-6zM186 540h6v6h-6zM366 588h6v6h-6zM360 594h12v6h-12zM366 600h6v6h-6zM366 606h6v6h-6z"/>
<path fill="#88c008" d="M318 372h6v6h-6zM330 570h6v6h-6zM336 576h6v6h-6zM342 582h6v6h-6zM348 588h6v6h-6zM354 594h6v6h-6zM360 600h6v6h-6zM360 606h6v6h-6z"/>
<path fill="#93c308" d="M264 204h6v6h-6zM180 510h6v6h-6zM186 546h6v6h-6zM294 558h6v6h-6zM306 558h6v6h-6zM282 570h6v6h-6z"/>
<path fill="#a0c608" d="M216 174h6v6h-6zM228 186h6v6h-6zM234 192h6v6h-6zM276 210h6v6h-6zM264 444h6v6h-6zM186 552h6v6h-6zM318 564h6v6h-6zM354 600h6v6h-6z"/>
<path fill="#afc908" d="M222 180h6v6h-6zM246 198h6v6h-6zM258 204h6v6h-6zM288 216h6v6h-6zM312 396h6v6h-6zM306 420h6v6h-6zM180 516h6v6h-6zM300 558h6v6h-6zM288 564h6v6h-6zM348 594h6v6h-6zM354 606h6v6h-6zM354 612h6v6h-6z"/>
<path fill="#becc08" d="M246 438h6v6h-6zM174 492h6v6h-6zM180 522h6v6h-6zM186 558h6v6h-6zM312 564h6v6h-6zM324 570h6v6h-6zM342 588h6v6h-6z"/>
<path fill="#cdcf05" d="M216 180h6v6h-6zM240 198h6v6h-6zM300 432h6v6h-6zM288 444h6v6h-6zM336 582h6v6h-6zM348 600h6v6h-6z"/>
<path fill="#dbd103" d="M222 186h6v6h-6zM228 192h6v6h-6zM252 204h6v6h-6zM270 444h6v6h-6zM174 498h6v6h-6zM180 528h6v6h-6zM306 564h6v6h-6zM330 576h6v6h-6zM348 606h6v6h-6z"/>
<path fill="#e9d400" d="M234 198h6v6h-6zM318 366h6v6h-6zM174 504h6v6h-6zM180 534h6v6h-6zM180 540h6v6h-6zM294 564h12v6h-12zM318 570h6v6h-6zM282 576h6v6h-6zM342 594h6v6h-6zM348 612h6v6h-6z"/>
<path fill="#f2d400" d="M216 186h6v6h-6zM174 510h6v6h-6zM180 546h6v6h-6zM180 552h6v6h-6zM288 570h6v6h-6zM306 570h12v6h-12zM324 576h6v6h-6zM330 582h6v6h-6zM336 588h6v6h-6zM342 600h6v6h-6z"/>
<path fill="#fbd400" d="M222 192h6v6h-6zM282 216h6v6h-6zM294 222h6v6h-6zM294 438h6v6h-6zM174 516h6v6h-6zM174 522h6v6h-6zM180 558h6v6h-6zM294 570h12v6h-12zM318 576h6v6h-6zM336 594h6v6h-6zM342 606h6v6h-6zM342 612h6v6h-6z"/>
<path fill="#ffd400" d="M228 198h6v6h-6zM246 204h6v6h-6zM240 432h6v6h-6zM252 438h6v6h-6zM276 444h6v6h-6zM168 510h6v6h-6zM168 516h6v6h-6zM174 528h6v6h-6zM174 534h6v6h-6zM174 540h6v6h-6zM174 546h6v6h-6zM174 552h6v6h-6zM288 576h30v6h-30zM282 582h6v6h-6zM318 582h12v6h-12zM324 588h12v6h-12zM330 594h6v6h-6zM336 600h6v6h-6zM336 606h6v6h-6z"/>
<path fill="#ffd400" d="M216 192h6v6h-6zM240 204h6v6h-6zM270 210h6v6h-6zM306 414h6v6h-6zM282 444h6v6h-6zM132 510h36v6h-36zM108 516h60v6h-60zM102 522h72v6h-72zM102 528h72v6h-72zM102 534h72v6h-72zM102 540h72v6h-72zM102 546h72v6h-72zM102 552h72v6h-72zM102 558h78v6h-78zM108 564h66v6h-66zM114 570h24v6h-24zM288 582h30v6h-30zM282 588h42v6h-42zM288 594h42v6h-42zM312 600h24v6h-24zM318 606h18v6h-18zM336 612h6v6h-6z"/>
<path fill="#ffd400" d="M222 198h6v6h-6zM234 204h6v6h-6zM294 600h18v6h-18zM300 606h18v6h-18z"/>
<path fill="#ffcf00" d="M216 198h6v6h-6zM228 204h6v6h-6zM288 222h6v6h-6zM318 360h6v6h-6zM312 384h6v6h-6z"/>
<path fill="#ffcb00" d="M222 204h6v6h-6z"/>
<path fill="#ffc600" d="M216 204h6v6h-6zM234 210h18v6h-18zM276 216h6v6h-6zM258 438h6v6h-6z"/>
<path fill="#ffbf00" d="M228 210h6v6h-6zM264 210h6v6h-6zM300 426h6v6h-6zM246 432h6v6h-6z"/>
<path fill="#ffb700" d="M210 204h6v6h-6zM222 210h6v6h-6zM252 210h12v6h-12zM306 408h6v6h-6z"/>
<path fill="#ffb000" d="M216 210h6v6h-6zM282 222h6v6h-6zM288 228h6v6h-6zM312 378h6v6h-6zM264 438h6v6h-6z"/>
<path fill="#ffa800" d="M210 210h6v6h-6zM222 216h24v6h-24z"/>
<path fill="#ffa000" d="M216 216h6v6h-6zM288 438h6v6h-6z"/>
<path fill="#ff9302" d="M210 216h6v6h-6zM246 216h6v6h-6zM222 222h12v6h-12zM240 426h6v6h-6zM294 432h6v6h-6zM270 438h6v6h-6z"/>
<path fill="#ff8604" d="M210 222h12v6h-12zM234 222h6v6h-6zM282 228h6v6h-6zM288 234h6v6h-6zM312 372h6v6h-6zM252 432h6v6h-6z"/>
<path fill="#ff7807" d="M270 216h6v6h-6zM240 222h6v6h-6zM216 228h12v6h-12zM306 402h6v6h-6z"/>
<path fill="#fd6c08" d="M246 222h6v6h-6zM276 222h6v6h-6zM228 228h12v6h-12zM282 234h6v6h-6z"/>
<path fill="#f96008" d="M252 216h6v6h-6zM222 234h12v6h-12zM282 240h6v6h-6zM300 420h6v6h-6zM276 438h12v6h-12z"/>
<path fill="#f55508" d="M258 216h12v6h-12zM240 228h6v6h-6zM234 234h6v6h-6zM222 240h6v6h-6zM288 240h6v6h-6zM312 366h6v6h-6zM246 426h6v6h-6zM258 432h6v6h-6z"/>
<path fill="#f14908" d="M246 228h6v6h-6zM276 228h6v6h-6zM276 234h6v6h-6zM228 240h6v6h-6zM276 240h6v6h-6zM276 246h12v6h-12zM276 252h6v6h-6zM330 276h6v6h-6zM306 396h6v6h-6z"/>
<path fill="#eb3b05" d="M240 234h6v6h-6zM234 240h6v6h-6zM228 246h6v6h-6zM288 246h6v6h-6zM282 252h6v6h-6z"/>
<path fill="#e52d03" d="M252 222h6v6h-6zM270 222h6v6h-6zM246 234h6v6h-6zM240 240h6v6h-6zM234 246h6v6h-6zM270 246h6v6h-6zM270 252h6v6h-6zM270 258h12v6h-12zM324 270h6v6h-6zM330 282h6v6h-6zM312 360h6v6h-6zM240 420h6v6h-6zM264 432h6v6h-6z"/>
<path fill="#e02001" d="M258 222h12v6h-12zM270 228h6v6h-6zM270 234h6v6h-6zM246 240h6v6h-6zM270 240h6v6h-6zM240 246h6v6h-6zM294 246h6v6h-6zM234 252h36v6h-36zM288 252h6v6h-6zM240 258h6v6h-6zM264 258h6v6h-6zM282 258h6v6h-6zM270 264h12v6h-12zM318 264h6v6h-6zM324 276h6v6h-6zM330 288h6v6h-6zM300 414h6v6h-6zM294 426h6v6h-6z"/>
<path fill="#df1c08" d="M252 228h6v6h-6zM252 234h18v6h-18zM252 240h18v6h-18zM246 246h24v6h-24zM294 252h6v6h-6zM246 258h18v6h-18zM288 258h6v6h-6zM246 264h24v6h-24zM282 264h6v6h-6zM252 270h30v6h-30zM318 270h6v6h-6zM264 276h18v6h-18zM324 282h6v6h-6zM330 294h6v6h-6zM252 426h6v6h-6zM270 432h6v6h-6zM288 432h6v6h-6z"/>
<path fill="#dd180f" d="M258 228h12v6h-12zM294 258h18v6h-18zM288 264h6v6h-6zM312 264h6v6h-6zM282 270h6v6h-6zM312 270h6v6h-6zM252 276h12v6h-12zM282 276h6v6h-6zM318 276h6v6h-6zM258 282h24v6h-24zM318 282h6v6h-6zM264 288h18v6h-18zM324 288h6v6h-6zM270 294h6v6h-6zM324 294h6v6h-6z"/>
<path fill="#dc1516" d="M294 264h18v6h-18zM288 270h24v6h-24zM288 276h30v6h-30zM282 282h36v6h-36zM282 288h42v6h-42zM276 294h48v6h-48zM270 300h60v6h-60zM306 306h18v6h-18zM312 312h12v6h-12zM306 384h6v6h-6zM246 420h6v6h-6zM258 426h6v6h-6z"/>
<path fill="#dc1621" d="M270 306h36v6h-36zM264 312h48v6h-48zM288 318h30v6h-30zM294 324h24v6h-24zM306 330h6v6h-6zM306 378h6v6h-6zM300 408h6v6h-6zM240 414h6v6h-6zM276 432h12v6h-12z"/>
<path fill="#dc182c" d="M276 318h12v6h-12zM288 324h6v6h-6zM294 330h12v6h-12zM300 336h12v6h-12zM252 420h6v6h-6zM294 420h6v6h-6zM264 426h6v6h-6z"/>
<path fill="#dc1a38" d="M264 318h12v6h-12zM282 324h6v6h-6zM288 330h6v6h-6zM294 336h6v6h-6zM300 342h6v6h-6zM306 366h6v6h-6zM306 372h6v6h-6zM300 402h6v6h-6zM246 414h6v6h-6zM288 426h6v6h-6z"/>
<path fill="#df243f" d="M258 324h24v6h-24zM282 330h6v6h-6zM288 336h6v6h-6zM306 360h6v6h-6zM258 420h6v6h-6zM270 426h6v6h-6z"/>
<path fill="#e32f45" d="M252 330h12v6h-12zM276 330h6v6h-6zM294 342h6v6h-6zM300 396h6v6h-6zM252 414h6v6h-6zM294 414h6v6h-6zM264 420h6v6h-6zM276 426h12v6h-12z"/>
<path fill="#e6394c" d="M264 330h12v6h-12zM282 336h6v6h-6zM288 342h6v6h-6zM294 348h6v6h-6zM300 390h6v6h-6zM246 408h6v6h-6zM258 414h6v6h-6zM288 420h6v6h-6z"/>
<path fill="#e84453" d="M252 336h30v6h-30zM282 342h6v6h-6zM288 348h6v6h-6zM294 354h6v6h-6zM300 360h6v6h-6zM300 366h6v6h-6zM300 372h6v6h-6zM300 378h6v6h-6zM300 384h6v6h-6zM246 402h6v6h-6zM252 408h6v6h-6zM294 408h6v6h-6zM264 414h6v6h-6zM270 420h12v6h-12z"/>
<path fill="#ea4e59" d="M252 342h30v6h-30zM282 348h6v6h-6zM288 354h6v6h-6zM294 360h6v6h-6zM246 390h6v6h-6zM246 396h12v6h-12zM294 396h6v6h-6zM252 402h12v6h-12zM294 402h6v6h-6zM258 408h12v6h-12zM270 414h6v6h-6zM288 414h6v6h-6zM282 420h6v6h-6z"/>
<path fill="#eb5860" d="M258 348h24v6h-24zM258 354h30v6h-30zM258 360h36v6h-36zM258 366h6v6h-6zM288 366h12v6h-12zM252 372h12v6h-12zM288 372h12v6h-12zM252 378h12v6h-12zM294 378h6v6h-6zM246 384h24v6h-24zM294 384h6v6h-6zM252 390h24v6h-24zM288 390h12v6h-12zM258 396h18v6h-18zM288 396h6v6h-6zM264 402h30v6h-30zM270 408h24v6h-24zM276 414h12v6h-12z"/>
<path fill="#ec6367" d="M264 366h24v6h-24zM264 372h24v6h-24zM264 378h30v6h-30zM270 384h24v6h-24zM276 390h12v6h-12zM276 396h12v6h-12z"/>
</g></g></g>
<use href="#over"/>
<circle cx="277.4" cy="191" r="3.1" fill="#2b2424"/>
<text x="44.6" y="71.3" font-size="73">C</text>
<text x="110.8" y="129.4" font-size="44" text-anchor="middle">Cu</text>
<text x="111.7" y="180.8" font-size="44" text-anchor="middle">μg/g</text>
<text x="81.4" y="742.6" font-size="33.3" text-anchor="middle">110.3°E</text>
<text x="244.9" y="742.6" font-size="33.3" text-anchor="middle">110.4°E</text>
<text x="408.4" y="742.6" font-size="33.3" text-anchor="middle">110.5°E</text>
<text x="571.9" y="742.6" font-size="33.3" text-anchor="middle">110.6°E</text>
<text transform="translate(686.7 698) rotate(-90)" font-size="19.8">Ocean Data View</text>
<g transform="translate(698.0 0)">
<use href="#cbar"/>
<text x="30.2" y="712.6" font-size="32">0</text>
<text x="30.2" y="537" font-size="32">10</text>
<text x="30.2" y="361.4" font-size="32">20</text>
<text x="30.2" y="185.8" font-size="32">30</text>
<text x="30.2" y="10.2" font-size="32">40</text>
<path d="M0.5 702.4h3.6M16.7 702.4h3.6M0.5 526.8h3.6M16.7 526.8h3.6M0.5 351.2h3.6M16.7 351.2h3.6M0.5 175.6h3.6M16.7 175.6h3.6M0.5 0h3.6M16.7 0h3.6" stroke="#3a2a20" stroke-width="1.4" fill="none" opacity="0.8"/>
</g>
</g>
<g transform="translate(112.2 798.2) scale(1.0023 1.0034)">
<use href="#frame"/>
<use href="#base"/>
<g clip-path="url(#crclip)"><g><g filter="url(#bl)">
<path fill="#7030ff" d="M444 528h12v6h-12zM438 534h18v6h-18zM438 540h24v6h-24zM438 546h24v6h-24zM438 552h24v6h-24zM438 558h24v6h-24zM444 564h18v6h-18z"/>
<path fill="#6c36ff" d="M438 522h12v6h-12zM432 528h12v6h-12zM426 534h12v6h-12zM426 540h12v6h-12zM426 546h12v6h-12zM420 552h18v6h-18zM426 558h12v6h-12zM426 564h18v6h-18zM432 570h24v6h-24zM444 576h6v6h-6z"/>
<path fill="#683cff" d="M438 516h6v6h-6zM426 522h12v6h-12zM426 528h6v6h-6zM420 534h6v6h-6zM420 540h6v6h-6zM420 546h6v6h-6zM414 552h6v6h-6zM414 558h12v6h-12zM420 564h6v6h-6zM420 570h12v6h-12z"/>
<path fill="#6443ff" d="M432 516h6v6h-6zM420 528h6v6h-6zM414 534h6v6h-6zM414 540h6v6h-6zM414 546h6v6h-6zM414 564h6v6h-6zM414 570h6v6h-6z"/>
<path fill="#6049ff" d="M432 510h6v6h-6zM426 516h6v6h-6zM420 522h6v6h-6zM414 528h6v6h-6zM408 546h6v6h-6zM408 552h6v6h-6zM408 558h6v6h-6zM408 564h6v6h-6z"/>
<path fill="#5d50ff" d="M408 540h6v6h-6zM408 570h6v6h-6z"/>
<path fill="#5b58ff" d="M426 510h6v6h-6zM420 516h6v6h-6zM408 534h6v6h-6zM414 582h6v6h-6z"/>
<path fill="#585fff" d="M414 522h6v6h-6zM408 576h6v6h-6z"/>
<path fill="#5264ff" d="M408 528h6v6h-6zM402 546h6v6h-6zM402 552h6v6h-6zM402 558h6v6h-6z"/>
<path fill="#4b69ff" d="M402 540h6v6h-6zM402 564h6v6h-6zM414 588h6v6h-6z"/>
<path fill="#446dff" d="M426 504h6v6h-6zM420 510h6v6h-6zM414 516h6v6h-6zM402 570h6v6h-6zM408 582h6v6h-6z"/>
<path fill="#3d73ff" d="M390 414h6v6h-6zM384 420h18v6h-18zM384 426h24v6h-24zM384 432h30v6h-30zM384 438h30v6h-30zM384 444h36v6h-36zM384 450h36v6h-36zM384 456h36v6h-36zM390 462h30v6h-30zM408 522h6v6h-6zM402 534h6v6h-6z"/>
<path fill="#367aff" d="M378 426h6v6h-6zM372 444h12v6h-12zM372 450h12v6h-12zM372 456h12v6h-12zM372 462h18v6h-18zM372 468h48v6h-48zM372 474h54v6h-54z"/>
<path fill="#2f81ff" d="M366 438h6v6h-6zM366 444h6v6h-6zM366 450h6v6h-6zM366 456h6v6h-6zM366 462h6v6h-6zM366 468h6v6h-6zM366 474h6v6h-6zM378 480h48v6h-48zM420 504h6v6h-6z"/>
<path fill="#2888ff" d="M360 462h6v6h-6zM360 468h6v6h-6zM372 480h6v6h-6zM408 486h18v6h-18zM414 510h6v6h-6zM402 528h6v6h-6zM402 576h6v6h-6zM408 588h6v6h-6z"/>
<path fill="#218fff" d="M360 450h6v6h-6zM360 456h6v6h-6zM360 474h6v6h-6zM366 480h6v6h-6zM390 486h18v6h-18zM420 498h6v6h-6z"/>
<path fill="#1c98fd" d="M360 438h6v6h-6zM360 444h6v6h-6zM378 486h12v6h-12zM408 492h12v6h-12zM408 516h6v6h-6zM396 546h6v6h-6z"/>
<path fill="#17a1fb" d="M402 492h6v6h-6zM414 498h6v6h-6zM414 504h6v6h-6zM396 540h6v6h-6zM396 552h6v6h-6z"/>
<path fill="#13aaf9" d="M354 462h6v6h-6zM354 468h6v6h-6zM360 480h6v6h-6zM372 486h6v6h-6zM222 492h6v6h-6zM396 492h6v6h-6zM222 498h6v6h-6zM222 504h6v6h-6zM396 558h6v6h-6zM408 594h6v6h-6z"/>
<path fill="#0eb3f6" d="M210 450h12v6h-12zM204 456h24v6h-24zM354 456h6v6h-6zM204 462h24v6h-24zM204 468h30v6h-30zM204 474h36v6h-36zM354 474h6v6h-6zM204 480h36v6h-36zM204 486h42v6h-42zM210 492h12v6h-12zM228 492h18v6h-18zM390 492h6v6h-6zM210 498h12v6h-12zM228 498h18v6h-18zM408 498h6v6h-6zM210 504h12v6h-12zM228 504h18v6h-18zM210 510h36v6h-36zM210 516h36v6h-36zM216 522h30v6h-30zM216 528h30v6h-30zM216 534h30v6h-30zM396 534h6v6h-6zM222 540h24v6h-24zM342 546h6v6h-6zM402 582h6v6h-6z"/>
<path fill="#09bbf1" d="M354 444h6v6h-6zM222 450h6v6h-6zM354 450h6v6h-6zM228 456h6v6h-6zM198 462h6v6h-6zM228 462h6v6h-6zM198 468h6v6h-6zM234 468h12v6h-12zM240 474h6v6h-6zM240 480h12v6h-12zM246 486h6v6h-6zM366 486h6v6h-6zM204 492h6v6h-6zM246 492h6v6h-6zM384 492h6v6h-6zM204 498h6v6h-6zM246 498h6v6h-6zM204 504h6v6h-6zM246 504h6v6h-6zM204 510h6v6h-6zM246 510h6v6h-6zM246 516h12v6h-12zM210 522h6v6h-6zM246 522h12v6h-12zM402 522h6v6h-6zM210 528h6v6h-6zM246 528h12v6h-12zM246 534h12v6h-12zM216 540h6v6h-6zM246 540h12v6h-12zM336 540h6v6h-6zM216 546h6v6h-6zM336 546h6v6h-6zM396 564h6v6h-6z"/>
<path fill="#04c2ec" d="M354 432h6v6h-6zM354 438h6v6h-6zM222 444h6v6h-6zM234 462h6v6h-6zM246 468h6v6h-6zM198 474h6v6h-6zM246 474h12v6h-12zM198 480h6v6h-6zM252 480h6v6h-6zM198 486h6v6h-6zM252 486h6v6h-6zM252 492h12v6h-12zM252 498h12v6h-12zM402 498h6v6h-6zM252 504h12v6h-12zM408 504h6v6h-6zM252 510h12v6h-12zM408 510h6v6h-6zM204 516h6v6h-6zM258 516h6v6h-6zM204 522h6v6h-6zM258 522h6v6h-6zM258 528h6v6h-6zM210 534h6v6h-6zM258 534h6v6h-6zM210 540h6v6h-6zM258 540h6v6h-6zM330 540h6v6h-6zM342 540h6v6h-6zM252 546h6v6h-6zM342 552h6v6h-6z"/>
<path fill="#00c9e6" d="M228 450h6v6h-6zM234 456h6v6h-6zM240 462h6v6h-6zM252 468h12v6h-12zM258 474h24v6h-24zM258 480h24v6h-24zM354 480h6v6h-6zM258 486h30v6h-30zM198 492h6v6h-6zM264 492h24v6h-24zM378 492h6v6h-6zM198 498h6v6h-6zM264 498h24v6h-24zM264 504h24v6h-24zM264 510h24v6h-24zM264 516h24v6h-24zM264 522h24v6h-24zM204 528h6v6h-6zM264 528h24v6h-24zM264 534h18v6h-18zM330 534h12v6h-12zM264 540h18v6h-18zM210 546h6v6h-6zM258 546h18v6h-18zM348 546h6v6h-6z"/>
<path fill="#00cbde" d="M246 462h12v6h-12zM264 468h18v6h-18zM282 474h6v6h-6zM282 480h6v6h-6zM288 492h6v6h-6zM288 498h6v6h-6zM396 498h6v6h-6zM198 504h6v6h-6zM288 504h6v6h-6zM288 510h6v6h-6zM288 516h6v6h-6zM288 522h6v6h-6zM288 528h6v6h-6zM204 534h6v6h-6zM282 534h6v6h-6zM324 534h6v6h-6zM276 546h6v6h-6zM264 552h12v6h-12zM348 552h6v6h-6z"/>
<path fill="#00ced7" d="M228 444h6v6h-6zM240 456h6v6h-6zM348 456h6v6h-6zM258 462h6v6h-6zM348 462h6v6h-6zM192 468h6v6h-6zM282 468h12v6h-12zM348 468h6v6h-6zM288 474h6v6h-6zM288 480h12v6h-12zM288 486h12v6h-12zM360 486h6v6h-6zM294 492h6v6h-6zM294 498h6v6h-6zM294 504h6v6h-6zM198 510h6v6h-6zM294 510h6v6h-6zM294 516h6v6h-6zM294 522h6v6h-6zM324 528h6v6h-6zM288 534h6v6h-6zM282 540h6v6h-6zM396 570h6v6h-6zM402 588h6v6h-6z"/>
<path fill="#00d0cf" d="M270 102h6v6h-6zM264 108h12v6h-12zM264 114h12v6h-12zM264 120h18v6h-18zM258 126h24v6h-24zM258 132h24v6h-24zM258 138h24v6h-24zM258 144h24v6h-24zM258 150h30v6h-30zM258 156h30v6h-30zM258 162h30v6h-30zM264 168h24v6h-24zM270 174h18v6h-18zM276 180h12v6h-12zM348 444h6v6h-6zM234 450h6v6h-6zM348 450h6v6h-6zM264 462h12v6h-12zM294 468h12v6h-12zM192 474h6v6h-6zM294 474h18v6h-18zM348 474h6v6h-6zM192 480h6v6h-6zM300 480h18v6h-18zM300 486h18v6h-18zM300 492h18v6h-18zM372 492h6v6h-6zM300 498h18v6h-18zM390 498h6v6h-6zM300 504h18v6h-18zM300 510h18v6h-18zM198 516h6v6h-6zM300 516h18v6h-18zM300 522h18v6h-18zM294 528h6v6h-6zM318 528h6v6h-6zM330 528h6v6h-6zM396 528h6v6h-6zM204 540h6v6h-6zM330 546h6v6h-6zM276 552h6v6h-6zM336 552h6v6h-6zM270 558h6v6h-6z"/>
<path fill="#00d1c9" d="M264 102h6v6h-6zM276 102h6v6h-6zM258 108h6v6h-6zM276 108h6v6h-6zM252 114h12v6h-12zM276 114h6v6h-6zM252 120h12v6h-12zM252 126h6v6h-6zM282 126h6v6h-6zM252 132h6v6h-6zM282 132h6v6h-6zM252 138h6v6h-6zM282 138h6v6h-6zM252 144h6v6h-6zM282 144h6v6h-6zM252 150h6v6h-6zM252 156h6v6h-6zM252 162h6v6h-6zM288 162h6v6h-6zM258 168h6v6h-6zM288 168h6v6h-6zM258 174h12v6h-12zM288 174h6v6h-6zM264 180h12v6h-12zM288 180h6v6h-6zM270 186h24v6h-24zM348 432h6v6h-6zM348 438h6v6h-6zM246 456h6v6h-6zM276 462h12v6h-12zM294 462h18v6h-18zM306 468h6v6h-6zM312 474h6v6h-6zM192 486h6v6h-6zM318 486h6v6h-6zM318 492h6v6h-6zM318 498h6v6h-6zM318 504h6v6h-6zM402 504h6v6h-6zM318 510h6v6h-6zM318 516h6v6h-6zM402 516h6v6h-6zM318 522h6v6h-6zM300 528h6v6h-6zM342 534h6v6h-6zM324 540h6v6h-6zM348 540h6v6h-6zM204 546h6v6h-6zM282 546h6v6h-6z"/>
<path fill="#00d2c2" d="M282 108h6v6h-6zM282 114h6v6h-6zM246 120h6v6h-6zM282 120h6v6h-6zM246 126h6v6h-6zM246 132h6v6h-6zM288 150h6v6h-6zM288 156h6v6h-6zM252 168h6v6h-6zM258 180h6v6h-6zM294 180h6v6h-6zM264 186h6v6h-6zM294 186h6v6h-6zM276 192h18v6h-18zM288 462h6v6h-6zM312 462h6v6h-6zM312 468h6v6h-6zM318 474h6v6h-6zM318 480h6v6h-6zM198 522h6v6h-6zM324 522h6v6h-6zM306 528h12v6h-12zM294 534h6v6h-6zM318 534h6v6h-6zM288 540h6v6h-6zM348 558h6v6h-6z"/>
<path fill="#00d3bb" d="M282 102h6v6h-6zM240 126h6v6h-6zM246 138h6v6h-6zM288 138h6v6h-6zM246 144h6v6h-6zM288 144h6v6h-6zM252 174h6v6h-6zM294 174h6v6h-6zM258 186h6v6h-6zM270 192h6v6h-6zM294 192h6v6h-6zM342 426h6v6h-6zM342 432h6v6h-6zM228 438h6v6h-6zM342 438h6v6h-6zM342 444h6v6h-6zM240 450h6v6h-6zM342 450h6v6h-6zM252 456h6v6h-6zM300 456h18v6h-18zM342 456h6v6h-6zM318 462h6v6h-6zM342 462h6v6h-6zM318 468h6v6h-6zM342 468h6v6h-6zM342 474h6v6h-6zM324 480h6v6h-6zM348 480h6v6h-6zM324 486h6v6h-6zM192 492h6v6h-6zM384 498h6v6h-6zM198 528h6v6h-6zM354 546h6v6h-6zM354 552h6v6h-6z"/>
<path fill="#00d5b2" d="M288 126h6v6h-6zM240 132h6v6h-6zM288 132h6v6h-6zM240 138h6v6h-6zM246 150h6v6h-6zM294 162h6v6h-6zM294 168h6v6h-6zM252 180h6v6h-6zM288 198h6v6h-6zM330 414h6v6h-6zM330 420h12v6h-12zM330 426h12v6h-12zM324 432h18v6h-18zM324 438h18v6h-18zM234 444h6v6h-6zM318 444h24v6h-24zM312 450h30v6h-30zM258 456h6v6h-6zM318 456h24v6h-24zM324 462h18v6h-18zM324 468h18v6h-18zM324 474h12v6h-12zM324 492h6v6h-6zM366 492h6v6h-6zM192 498h6v6h-6zM324 498h6v6h-6zM402 510h6v6h-6zM336 528h6v6h-6zM390 540h6v6h-6zM390 546h6v6h-6zM342 558h6v6h-6zM396 576h6v6h-6z"/>
<path fill="#00d6a7" d="M288 108h6v6h-6zM288 114h6v6h-6zM288 120h6v6h-6zM234 132h6v6h-6zM240 144h6v6h-6zM246 156h6v6h-6zM300 186h6v6h-6zM264 192h6v6h-6zM300 192h6v6h-6zM282 198h6v6h-6zM294 198h6v6h-6zM324 414h6v6h-6zM324 420h6v6h-6zM324 426h6v6h-6zM318 432h6v6h-6zM318 438h6v6h-6zM312 444h6v6h-6zM306 450h6v6h-6zM264 456h6v6h-6zM294 456h6v6h-6zM336 474h6v6h-6zM330 480h6v6h-6zM354 486h6v6h-6zM324 504h6v6h-6zM396 504h6v6h-6zM324 516h6v6h-6zM198 534h6v6h-6zM300 534h6v6h-6zM276 558h6v6h-6zM402 594h6v6h-6z"/>
<path fill="#00d79b" d="M234 138h6v6h-6zM240 150h6v6h-6zM246 162h6v6h-6zM300 180h6v6h-6zM276 198h6v6h-6zM300 198h6v6h-6zM324 408h6v6h-6zM318 426h6v6h-6zM312 438h6v6h-6zM270 456h6v6h-6zM336 480h12v6h-12zM192 504h6v6h-6zM324 510h6v6h-6zM330 522h6v6h-6zM312 534h6v6h-6zM390 552h6v6h-6zM270 564h6v6h-6z"/>
<path fill="#00d890" d="M294 114h6v6h-6zM294 120h6v6h-6zM234 144h6v6h-6zM240 156h6v6h-6zM246 168h6v6h-6zM300 168h6v6h-6zM300 174h6v6h-6zM252 186h6v6h-6zM258 192h6v6h-6zM318 420h6v6h-6zM246 450h6v6h-6zM300 450h6v6h-6zM276 456h6v6h-6zM288 456h6v6h-6zM330 486h6v6h-6zM378 498h6v6h-6zM306 534h6v6h-6z"/>
<path fill="#02d583" d="M234 150h6v6h-6zM300 156h6v6h-6zM240 162h6v6h-6zM300 162h6v6h-6zM306 180h6v6h-6zM306 186h6v6h-6zM306 192h6v6h-6zM306 198h6v6h-6zM294 204h12v6h-12zM330 372h6v6h-6zM318 414h6v6h-6zM312 432h6v6h-6zM306 444h6v6h-6zM192 510h6v6h-6zM396 522h6v6h-6zM390 534h6v6h-6zM198 540h6v6h-6zM318 540h6v6h-6zM324 546h6v6h-6zM282 552h6v6h-6zM330 552h6v6h-6zM354 558h6v6h-6z"/>
<path fill="#04d176" d="M228 138h6v6h-6zM306 150h18v6h-18zM234 156h6v6h-6zM306 156h24v6h-24zM306 162h24v6h-24zM306 168h24v6h-24zM246 174h6v6h-6zM306 174h24v6h-24zM312 180h18v6h-18zM312 186h18v6h-18zM312 192h18v6h-18zM270 198h6v6h-6zM312 198h12v6h-12zM288 204h6v6h-6zM306 204h6v6h-6zM282 456h6v6h-6zM186 474h6v6h-6zM390 504h6v6h-6zM348 534h6v6h-6zM294 540h6v6h-6zM354 540h6v6h-6z"/>
<path fill="#07ce68" d="M228 144h6v6h-6zM240 168h6v6h-6zM282 204h6v6h-6zM318 408h6v6h-6zM348 486h6v6h-6zM330 492h6v6h-6zM360 492h6v6h-6zM288 546h6v6h-6zM336 558h6v6h-6zM390 558h6v6h-6zM396 582h6v6h-6zM402 600h6v6h-6z"/>
<path fill="#08ca5c" d="M228 150h6v6h-6zM234 162h6v6h-6zM252 192h6v6h-6zM312 426h6v6h-6zM240 444h6v6h-6zM252 450h6v6h-6zM186 480h6v6h-6zM336 486h6v6h-6zM372 498h6v6h-6zM396 510h6v6h-6zM192 516h6v6h-6zM342 528h6v6h-6zM198 546h6v6h-6z"/>
<path fill="#08c752" d="M240 174h6v6h-6zM246 180h6v6h-6zM264 198h6v6h-6zM300 210h6v6h-6zM324 378h6v6h-6zM318 402h6v6h-6zM234 438h6v6h-6zM306 438h6v6h-6zM294 450h6v6h-6zM330 516h6v6h-6zM348 564h6v6h-6z"/>
<path fill="#08c248" d="M228 156h6v6h-6zM234 168h6v6h-6zM276 204h6v6h-6zM186 486h6v6h-6zM342 486h6v6h-6zM330 498h6v6h-6zM384 504h6v6h-6zM396 516h6v6h-6zM192 522h6v6h-6zM336 522h6v6h-6zM360 546h6v6h-6zM198 552h6v6h-6z"/>
<path fill="#08be3e" d="M258 198h6v6h-6zM294 210h6v6h-6zM312 420h6v6h-6zM300 444h6v6h-6zM258 450h6v6h-6zM390 564h6v6h-6z"/>
<path fill="#09bb36" d="M228 162h6v6h-6zM234 174h6v6h-6zM240 180h6v6h-6zM246 186h6v6h-6zM324 372h6v6h-6zM264 450h6v6h-6zM390 528h6v6h-6zM312 540h6v6h-6zM360 552h6v6h-6z"/>
<path fill="#0cb831" d="M222 156h6v6h-6zM288 210h6v6h-6zM186 492h6v6h-6zM330 504h6v6h-6zM330 510h6v6h-6zM192 528h6v6h-6zM300 540h6v6h-6zM342 564h6v6h-6zM396 588h6v6h-6z"/>
<path fill="#0eb62c" d="M228 168h6v6h-6zM306 432h6v6h-6zM246 444h6v6h-6zM270 450h6v6h-6zM354 492h6v6h-6zM366 498h6v6h-6zM276 564h6v6h-6zM354 564h6v6h-6z"/>
<path fill="#10b427" d="M222 162h6v6h-6zM234 180h6v6h-6zM240 186h6v6h-6zM252 198h6v6h-6zM270 204h6v6h-6zM312 414h6v6h-6zM288 450h6v6h-6zM336 492h6v6h-6zM378 504h6v6h-6zM390 510h6v6h-6zM354 534h6v6h-6zM360 540h6v6h-6zM318 546h6v6h-6z"/>
<path fill="#10b325" d="M228 174h6v6h-6zM282 210h6v6h-6zM300 216h6v6h-6zM324 366h6v6h-6zM186 498h6v6h-6zM306 540h6v6h-6zM384 540h6v6h-6z"/>
<path fill="#10b123" d="M222 168h6v6h-6zM246 192h6v6h-6zM318 384h6v6h-6zM276 450h6v6h-6zM348 528h6v6h-6zM192 534h6v6h-6zM384 546h6v6h-6zM324 552h6v6h-6zM390 570h6v6h-6z"/>
<path fill="#10b021" d="M228 180h6v6h-6zM234 186h6v6h-6zM294 216h6v6h-6zM234 432h6v6h-6zM240 438h6v6h-6zM282 450h6v6h-6zM348 492h6v6h-6zM336 516h6v6h-6zM390 522h6v6h-6zM396 594h6v6h-6z"/>
<path fill="#14af1f" d="M222 174h6v6h-6zM240 192h6v6h-6zM312 408h6v6h-6zM300 438h6v6h-6zM252 444h6v6h-6zM294 444h6v6h-6zM342 492h6v6h-6zM186 504h6v6h-6zM342 522h6v6h-6zM384 534h6v6h-6zM330 558h6v6h-6zM360 558h6v6h-6z"/>
<path fill="#19ae1d" d="M264 204h6v6h-6zM306 426h6v6h-6zM336 498h6v6h-6zM360 498h6v6h-6zM384 510h6v6h-6zM390 516h6v6h-6zM192 540h6v6h-6zM384 552h6v6h-6zM282 558h6v6h-6z"/>
<path fill="#1fae1b" d="M216 174h6v6h-6zM222 180h6v6h-6zM228 186h6v6h-6zM234 192h6v6h-6zM246 198h6v6h-6zM276 210h6v6h-6zM288 216h6v6h-6zM318 378h6v6h-6zM372 504h6v6h-6zM294 546h6v6h-6z"/>
<path fill="#24ad19" d="M258 204h6v6h-6zM186 510h6v6h-6zM336 510h6v6h-6zM366 546h6v6h-6zM348 570h6v6h-6zM396 600h6v6h-6z"/>
<path fill="#2aad17" d="M216 180h6v6h-6zM240 198h6v6h-6zM312 402h6v6h-6zM258 444h6v6h-6zM336 504h6v6h-6zM360 534h6v6h-6zM366 540h6v6h-6zM192 546h6v6h-6zM288 552h6v6h-6zM390 576h6v6h-6z"/>
<path fill="#33af15" d="M222 186h6v6h-6zM228 192h6v6h-6zM252 204h6v6h-6zM180 480h6v6h-6zM336 564h6v6h-6z"/>
<path fill="#3db113" d="M216 186h6v6h-6zM234 198h6v6h-6zM318 372h6v6h-6zM246 438h6v6h-6zM264 444h6v6h-6zM354 498h6v6h-6zM378 510h6v6h-6zM186 516h6v6h-6zM354 528h6v6h-6zM384 528h6v6h-6zM312 546h6v6h-6z"/>
<path fill="#46b311" d="M222 192h6v6h-6zM228 198h6v6h-6zM246 204h6v6h-6zM282 216h6v6h-6zM294 222h6v6h-6zM306 420h6v6h-6zM342 498h6v6h-6zM366 504h6v6h-6zM342 516h6v6h-6zM384 516h6v6h-6zM378 540h6v6h-6zM192 552h6v6h-6zM384 558h6v6h-6zM354 570h6v6h-6z"/>
<path fill="#53b60e" d="M216 192h6v6h-6zM240 204h6v6h-6zM270 210h6v6h-6zM312 396h6v6h-6zM270 444h6v6h-6zM180 486h6v6h-6zM348 498h6v6h-6zM348 522h6v6h-6zM366 552h6v6h-6z"/>
<path fill="#62b80c" d="M222 198h6v6h-6zM234 204h6v6h-6zM300 432h6v6h-6zM288 444h6v6h-6zM186 522h6v6h-6zM384 522h6v6h-6zM366 534h6v6h-6zM378 534h6v6h-6zM372 540h6v6h-6zM378 546h6v6h-6zM390 582h6v6h-6z"/>
<path fill="#71bb09" d="M216 198h6v6h-6zM228 204h6v6h-6zM288 222h6v6h-6zM240 432h6v6h-6zM342 504h6v6h-6zM342 510h6v6h-6zM372 510h6v6h-6zM318 552h6v6h-6zM360 564h6v6h-6zM342 570h6v6h-6z"/>
<path fill="#7dbd08" d="M222 204h6v6h-6zM318 366h6v6h-6zM252 438h6v6h-6zM180 492h6v6h-6zM360 504h6v6h-6zM378 516h6v6h-6zM360 528h6v6h-6zM372 534h6v6h-6zM372 546h6v6h-6z"/>
<path fill="#88c008" d="M216 204h6v6h-6zM228 210h24v6h-24zM264 210h6v6h-6zM276 216h6v6h-6zM294 438h6v6h-6zM276 444h12v6h-12zM186 528h6v6h-6zM378 528h6v6h-6zM300 546h12v6h-12zM384 564h6v6h-6z"/>
<path fill="#93c308" d="M210 204h6v6h-6zM222 210h6v6h-6zM252 210h12v6h-12zM306 414h6v6h-6zM348 504h12v6h-12zM366 510h6v6h-6zM348 516h6v6h-6zM354 522h6v6h-6zM378 522h6v6h-6zM366 528h6v6h-6zM276 570h6v6h-6zM390 588h6v6h-6z"/>
<path fill="#a0c608" d="M210 210h12v6h-12zM228 216h12v6h-12zM282 222h6v6h-6zM180 498h6v6h-6zM348 510h6v6h-6zM372 516h6v6h-6zM372 528h6v6h-6zM378 552h6v6h-6zM324 558h6v6h-6z"/>
<path fill="#afc908" d="M216 216h12v6h-12zM240 216h12v6h-12zM288 228h6v6h-6zM318 360h6v6h-6zM312 384h6v6h-6zM258 438h6v6h-6zM360 510h6v6h-6zM360 522h6v6h-6zM372 522h6v6h-6zM186 534h6v6h-6zM390 594h6v6h-6z"/>
<path fill="#becc08" d="M210 216h6v6h-6zM216 222h24v6h-24zM246 432h6v6h-6zM180 504h6v6h-6zM354 510h6v6h-6zM354 516h6v6h-6zM366 516h6v6h-6zM366 522h6v6h-6zM372 552h6v6h-6zM366 558h6v6h-6z"/>
<path fill="#cdcf05" d="M270 216h6v6h-6zM210 222h6v6h-6zM240 222h6v6h-6zM222 228h6v6h-6zM282 228h6v6h-6zM300 426h6v6h-6zM264 438h6v6h-6zM360 516h6v6h-6zM186 540h6v6h-6zM348 576h6v6h-6z"/>
<path fill="#dbd103" d="M252 216h6v6h-6zM246 222h6v6h-6zM276 222h6v6h-6zM216 228h6v6h-6zM228 228h12v6h-12zM222 234h6v6h-6zM282 234h12v6h-12zM312 378h6v6h-6zM306 408h6v6h-6zM384 570h6v6h-6zM354 576h6v6h-6z"/>
<path fill="#e9d400" d="M258 216h12v6h-12zM240 228h6v6h-6zM228 234h6v6h-6zM222 240h6v6h-6zM240 426h6v6h-6zM270 438h6v6h-6zM288 438h6v6h-6zM180 510h6v6h-6zM186 546h6v6h-6zM378 558h6v6h-6zM330 564h6v6h-6z"/>
<path fill="#f2d400" d="M246 228h6v6h-6zM276 228h6v6h-6zM234 234h12v6h-12zM276 234h6v6h-6zM228 240h6v6h-6zM282 240h6v6h-6zM252 432h6v6h-6zM186 552h6v6h-6zM312 552h6v6h-6zM282 564h6v6h-6zM360 570h6v6h-6z"/>
<path fill="#fbd400" d="M252 222h6v6h-6zM270 222h6v6h-6zM246 234h6v6h-6zM234 240h12v6h-12zM276 240h6v6h-6zM228 246h12v6h-12zM276 246h6v6h-6zM312 372h6v6h-6zM306 402h6v6h-6zM294 432h6v6h-6zM180 516h6v6h-6zM294 552h6v6h-6zM186 558h6v6h-6z"/>
<path fill="#ffd400" d="M258 222h12v6h-12zM270 228h6v6h-6zM270 234h6v6h-6zM246 240h6v6h-6zM270 240h6v6h-6zM288 240h6v6h-6zM240 246h6v6h-6zM270 246h6v6h-6zM282 246h6v6h-6zM234 252h12v6h-12zM270 252h12v6h-12zM276 438h6v6h-6zM174 492h6v6h-6zM180 522h6v6h-6zM336 570h6v6h-6z"/>
<path fill="#ffd400" d="M252 228h18v6h-18zM252 234h18v6h-18zM252 240h18v6h-18zM246 246h24v6h-24zM246 252h24v6h-24zM240 258h42v6h-42zM264 264h12v6h-12zM300 420h6v6h-6zM246 426h6v6h-6zM258 432h6v6h-6zM282 438h6v6h-6zM372 558h6v6h-6zM384 576h6v6h-6z"/>
<path fill="#ffd400" d="M282 252h6v6h-6zM246 264h18v6h-18zM252 270h24v6h-24zM312 366h6v6h-6zM306 396h6v6h-6zM240 420h6v6h-6zM174 498h6v6h-6zM180 528h6v6h-6zM288 558h6v6h-6zM366 564h6v6h-6zM378 564h6v6h-6z"/>
<path fill="#ffd400" d="M288 246h6v6h-6zM276 264h6v6h-6zM252 276h24v6h-24zM258 282h12v6h-12zM264 432h6v6h-6zM174 504h6v6h-6zM180 534h6v6h-6zM318 558h6v6h-6zM342 576h6v6h-6zM384 582h6v6h-6z"/>
<path fill="#ffcf00" d="M282 258h6v6h-6zM276 270h6v6h-6zM330 276h6v6h-6zM270 282h6v6h-6zM264 288h6v6h-6zM312 360h6v6h-6zM300 414h6v6h-6zM252 426h6v6h-6zM294 426h6v6h-6zM288 432h6v6h-6zM174 510h6v6h-6zM180 540h6v6h-6zM180 546h6v6h-6zM306 552h6v6h-6zM384 588h6v6h-6zM384 594h6v6h-6zM384 600h6v6h-6z"/>
<path fill="#ffcb00" d="M294 246h6v6h-6zM288 252h6v6h-6zM324 270h6v6h-6zM276 276h6v6h-6zM330 282h6v6h-6zM270 288h6v6h-6zM246 420h6v6h-6zM270 432h6v6h-6zM174 516h6v6h-6zM180 552h6v6h-6zM180 558h6v6h-6zM360 576h6v6h-6zM354 582h6v6h-6z"/>
<path fill="#ffc600" d="M282 264h6v6h-6zM318 264h6v6h-6zM324 276h6v6h-6zM276 282h6v6h-6zM330 288h6v6h-6zM270 294h6v6h-6zM270 300h6v6h-6zM306 384h6v6h-6zM240 414h6v6h-6zM258 426h6v6h-6zM276 432h6v6h-6zM174 522h6v6h-6zM174 528h6v6h-6zM300 552h6v6h-6zM372 564h6v6h-6zM378 570h6v6h-6zM348 582h6v6h-6z"/>
<path fill="#ffbf00" d="M294 252h6v6h-6zM288 258h6v6h-6zM288 264h6v6h-6zM282 270h6v6h-6zM318 270h6v6h-6zM282 276h6v6h-6zM324 282h6v6h-6zM276 288h6v6h-6zM276 294h6v6h-6zM330 294h6v6h-6zM270 306h6v6h-6zM264 312h6v6h-6zM306 378h6v6h-6zM300 408h6v6h-6zM252 420h6v6h-6zM264 426h6v6h-6zM282 432h6v6h-6zM168 510h6v6h-6zM168 516h6v6h-6zM168 522h6v6h-6zM174 534h6v6h-6zM174 540h6v6h-6zM174 546h6v6h-6zM174 552h6v6h-6zM174 558h6v6h-6zM366 570h6v6h-6z"/>
<path fill="#ffb700" d="M294 258h18v6h-18zM294 264h24v6h-24zM288 270h30v6h-30zM288 276h6v6h-6zM312 276h12v6h-12zM282 282h12v6h-12zM312 282h12v6h-12zM282 288h6v6h-6zM318 288h12v6h-12zM282 294h6v6h-6zM318 294h12v6h-12zM276 300h12v6h-12zM324 300h6v6h-6zM276 306h6v6h-6zM270 312h12v6h-12zM264 318h6v6h-6zM306 372h6v6h-6zM300 402h6v6h-6zM246 414h6v6h-6zM294 420h6v6h-6zM270 426h6v6h-6zM288 426h6v6h-6zM132 510h36v6h-36zM108 516h60v6h-60zM102 522h66v6h-66zM102 528h72v6h-72zM102 534h72v6h-72zM102 540h72v6h-72zM102 546h72v6h-72zM102 552h72v6h-72zM102 558h72v6h-72zM108 564h66v6h-66zM324 564h6v6h-6zM114 570h24v6h-24zM276 576h6v6h-6z"/>
<path fill="#ffb000" d="M294 276h18v6h-18zM294 282h18v6h-18zM288 288h30v6h-30zM288 294h30v6h-30zM288 300h36v6h-36zM282 306h42v6h-42zM282 312h42v6h-42zM270 318h48v6h-48zM258 324h12v6h-12zM288 324h30v6h-30zM294 330h18v6h-18zM306 336h6v6h-6zM306 360h6v6h-6zM306 366h6v6h-6zM300 396h6v6h-6zM252 414h6v6h-6zM258 420h6v6h-6zM276 426h6v6h-6zM312 558h6v6h-6zM372 570h6v6h-6zM378 576h6v6h-6zM360 582h6v6h-6z"/>
<path fill="#ffa800" d="M270 324h18v6h-18zM252 330h18v6h-18zM276 330h18v6h-18zM288 336h18v6h-18zM294 342h12v6h-12zM300 390h6v6h-6zM246 402h6v6h-6zM246 408h12v6h-12zM258 414h6v6h-6zM294 414h6v6h-6zM264 420h12v6h-12zM288 420h6v6h-6zM282 426h6v6h-6zM378 582h6v6h-6zM354 588h6v6h-6zM378 588h6v6h-6zM378 594h6v6h-6zM378 600h6v6h-6z"/>
<path fill="#ffa000" d="M270 330h6v6h-6zM252 336h36v6h-36zM252 342h6v6h-6zM282 342h12v6h-12zM294 348h6v6h-6zM300 360h6v6h-6zM300 366h6v6h-6zM300 372h6v6h-6zM300 378h6v6h-6zM300 384h6v6h-6zM246 396h6v6h-6zM252 402h6v6h-6zM294 402h6v6h-6zM258 408h12v6h-12zM294 408h6v6h-6zM264 414h12v6h-12zM288 414h6v6h-6zM276 420h12v6h-12zM330 570h6v6h-6zM366 576h12v6h-12z"/>
<path fill="#ff9302" d="M258 342h24v6h-24zM258 348h36v6h-36zM258 354h42v6h-42zM258 360h42v6h-42zM258 366h42v6h-42zM252 372h24v6h-24zM282 372h18v6h-18zM252 378h24v6h-24zM288 378h12v6h-12zM246 384h54v6h-54zM246 390h54v6h-54zM252 396h48v6h-48zM258 402h36v6h-36zM270 408h24v6h-24zM276 414h12v6h-12zM336 576h6v6h-6zM342 582h6v6h-6zM366 582h12v6h-12zM360 588h6v6h-6zM372 606h6v6h-6z"/>
<path fill="#ff8604" d="M276 372h6v6h-6zM276 378h12v6h-12zM282 570h6v6h-6zM348 588h6v6h-6zM366 588h12v6h-12zM372 594h6v6h-6zM372 600h6v6h-6z"/>
<path fill="#ff7807" d="M294 558h6v6h-6zM306 558h6v6h-6zM318 564h6v6h-6zM354 594h18v6h-18zM366 600h6v6h-6zM366 606h6v6h-6z"/>
<path fill="#fd6c08" d="M360 600h6v6h-6zM360 606h6v6h-6z"/>
<path fill="#f96008" d="M300 558h6v6h-6zM288 564h6v6h-6zM354 600h6v6h-6z"/>
<path fill="#f55508" d="M348 594h6v6h-6zM354 606h6v6h-6z"/>
<path fill="#f14908" d="M312 564h6v6h-6zM324 570h6v6h-6zM342 588h6v6h-6zM354 612h6v6h-6z"/>
<path fill="#eb3b05" d="M330 576h6v6h-6zM336 582h6v6h-6z"/>
<path fill="#e52d03" d="M306 564h6v6h-6zM348 600h6v6h-6z"/>
<path fill="#e02001" d="M294 564h12v6h-12zM318 570h6v6h-6zM282 576h6v6h-6zM342 594h6v6h-6zM348 606h6v6h-6z"/>
<path fill="#df1c08" d="M288 570h6v6h-6zM312 570h6v6h-6zM336 588h6v6h-6zM348 612h6v6h-6z"/>
<path fill="#dd180f" d="M306 570h6v6h-6zM324 576h6v6h-6zM330 582h6v6h-6zM342 600h6v6h-6z"/>
<path fill="#dc1516" d="M294 570h12v6h-12zM318 576h6v6h-6zM336 594h6v6h-6zM342 606h6v6h-6z"/>
<path fill="#dc1621" d="M288 576h6v6h-6zM306 576h12v6h-12zM282 582h6v6h-6zM324 582h6v6h-6zM330 588h6v6h-6zM336 600h6v6h-6zM342 612h6v6h-6z"/>
<path fill="#dc182c" d="M294 576h12v6h-12zM306 582h18v6h-18zM324 588h6v6h-6zM330 594h6v6h-6zM330 600h6v6h-6zM336 606h6v6h-6zM336 612h6v6h-6z"/>
<path fill="#dc1a38" d="M288 582h18v6h-18zM282 588h42v6h-42zM300 594h30v6h-30zM312 600h18v6h-18zM318 606h18v6h-18z"/>
<path fill="#df243f" d="M288 594h12v6h-12zM294 600h18v6h-18zM300 606h18v6h-18z"/>
</g></g></g>
<use href="#over"/>
<circle cx="277.4" cy="191" r="3.1" fill="#2b2424"/>
<text x="14.1" y="82.6" font-size="73">D</text>
<text x="75.3" y="141.7" font-size="44" text-anchor="middle">Ni</text>
<text x="82.4" y="192.1" font-size="44" text-anchor="middle">μg/g</text>
<text x="81.4" y="742.6" font-size="33.3" text-anchor="middle">110.3°E</text>
<text x="244.9" y="742.6" font-size="33.3" text-anchor="middle">110.4°E</text>
<text x="408.4" y="742.6" font-size="33.3" text-anchor="middle">110.5°E</text>
<text x="571.9" y="742.6" font-size="33.3" text-anchor="middle">110.6°E</text>
<text x="-16.4" y="186.6" font-size="33.3" text-anchor="end">21.3°N</text>
<text x="-16.4" y="361.9" font-size="33.3" text-anchor="end">21.2°N</text>
<text x="-16.4" y="537.2" font-size="33.3" text-anchor="end">21.1°N</text>
<text x="-16.4" y="712.5" font-size="33.3" text-anchor="end">21°N</text>
<text transform="translate(686.7 698) rotate(-90)" font-size="19.8">Ocean Data View</text>
<g transform="translate(698.0 0)">
<use href="#cbar"/>
<text x="30.2" y="654.1" font-size="32">5</text>
<text x="30.2" y="537" font-size="32">10</text>
<text x="30.2" y="419.9" font-size="32">15</text>
<text x="30.2" y="302.9" font-size="32">20</text>
<text x="30.2" y="185.8" font-size="32">25</text>
<text x="30.2" y="68.7" font-size="32">30</text>
<path d="M0.5 643.9h3.6M16.7 643.9h3.6M0.5 526.8h3.6M16.7 526.8h3.6M0.5 409.7h3.6M16.7 409.7h3.6M0.5 292.7h3.6M16.7 292.7h3.6M0.5 175.6h3.6M16.7 175.6h3.6M0.5 58.5h3.6M16.7 58.5h3.6" stroke="#3a2a20" stroke-width="1.4" fill="none" opacity="0.8"/>
</g>
</g>
<g transform="translate(917 799.6) scale(1.0051 1.0046)">
<use href="#frame"/>
<use href="#base"/>
<g clip-path="url(#crclip)"><g><g filter="url(#bl)">
<path fill="#7430ff" d="M456 540h6v6h-6z"/>
<path fill="#7030ff" d="M438 522h12v6h-12zM432 528h24v6h-24zM426 534h30v6h-30zM426 540h30v6h-30zM426 546h36v6h-36zM426 552h36v6h-36zM426 558h36v6h-36zM426 564h36v6h-36zM432 570h24v6h-24zM444 576h6v6h-6z"/>
<path fill="#6c36ff" d="M438 516h6v6h-6zM432 522h6v6h-6zM426 528h6v6h-6zM420 534h6v6h-6zM420 540h6v6h-6zM414 546h12v6h-12zM414 552h12v6h-12zM414 558h12v6h-12zM414 564h12v6h-12zM420 570h12v6h-12z"/>
<path fill="#683cff" d="M432 516h6v6h-6zM426 522h6v6h-6zM420 528h6v6h-6zM414 534h6v6h-6zM414 540h6v6h-6zM408 558h6v6h-6zM414 570h6v6h-6z"/>
<path fill="#6443ff" d="M426 516h6v6h-6zM420 522h6v6h-6zM414 528h6v6h-6zM408 540h6v6h-6zM408 546h6v6h-6zM408 552h6v6h-6zM408 564h6v6h-6zM408 570h6v6h-6z"/>
<path fill="#6049ff" d="M432 510h6v6h-6zM408 534h6v6h-6zM414 582h6v6h-6z"/>
<path fill="#5d50ff" d="M420 516h6v6h-6zM414 522h6v6h-6zM408 528h6v6h-6zM402 552h6v6h-6zM402 558h6v6h-6zM408 576h6v6h-6z"/>
<path fill="#5b58ff" d="M426 510h6v6h-6zM402 540h6v6h-6zM402 546h6v6h-6zM402 564h6v6h-6zM414 588h6v6h-6z"/>
<path fill="#585fff" d="M402 534h6v6h-6zM402 570h6v6h-6zM408 582h6v6h-6z"/>
<path fill="#5264ff" d="M414 516h6v6h-6zM408 522h6v6h-6z"/>
<path fill="#4b69ff" d="M420 510h6v6h-6zM336 540h6v6h-6zM336 546h12v6h-12zM402 576h6v6h-6z"/>
<path fill="#446dff" d="M426 504h6v6h-6zM402 528h6v6h-6zM330 540h6v6h-6zM342 540h6v6h-6zM342 552h6v6h-6zM408 588h6v6h-6z"/>
<path fill="#3d73ff" d="M330 534h6v6h-6zM348 546h6v6h-6zM396 546h6v6h-6zM348 552h6v6h-6zM396 552h6v6h-6z"/>
<path fill="#367aff" d="M324 534h6v6h-6zM336 534h6v6h-6zM396 540h6v6h-6zM330 546h6v6h-6zM336 552h6v6h-6zM396 558h6v6h-6z"/>
<path fill="#2f81ff" d="M420 504h6v6h-6zM414 510h6v6h-6zM408 516h6v6h-6zM324 528h6v6h-6zM324 540h6v6h-6zM402 582h6v6h-6zM408 594h6v6h-6z"/>
<path fill="#2888ff" d="M318 528h6v6h-6zM330 528h6v6h-6zM318 534h6v6h-6zM396 534h6v6h-6zM342 558h12v6h-12zM396 564h6v6h-6z"/>
<path fill="#218fff" d="M402 522h6v6h-6zM342 534h6v6h-6zM348 540h6v6h-6z"/>
<path fill="#1c98fd" d="M318 522h12v6h-12zM312 528h6v6h-6zM324 546h6v6h-6zM354 546h6v6h-6zM330 552h6v6h-6zM354 552h6v6h-6zM396 570h6v6h-6z"/>
<path fill="#17a1fb" d="M300 486h6v6h-6zM300 492h12v6h-12zM300 498h18v6h-18zM420 498h6v6h-6zM300 504h18v6h-18zM414 504h6v6h-6zM306 510h12v6h-12zM306 516h18v6h-18zM306 522h12v6h-12zM336 528h6v6h-6zM318 540h6v6h-6zM402 588h6v6h-6z"/>
<path fill="#13aaf9" d="M294 474h12v6h-12zM294 480h18v6h-18zM294 486h6v6h-6zM306 486h12v6h-12zM294 492h6v6h-6zM312 492h6v6h-6zM294 498h6v6h-6zM294 504h6v6h-6zM318 504h6v6h-6zM300 510h6v6h-6zM318 510h6v6h-6zM408 510h6v6h-6zM300 516h6v6h-6zM300 522h6v6h-6zM300 528h12v6h-12zM396 528h6v6h-6zM312 534h6v6h-6zM336 558h6v6h-6z"/>
<path fill="#0eb3f6" d="M390 414h6v6h-6zM384 420h18v6h-18zM378 426h30v6h-30zM384 432h30v6h-30zM384 438h30v6h-30zM372 444h48v6h-48zM372 450h48v6h-48zM372 456h48v6h-48zM372 462h48v6h-48zM294 468h12v6h-12zM372 468h48v6h-48zM306 474h6v6h-6zM372 474h54v6h-54zM414 480h12v6h-12zM420 486h6v6h-6zM318 492h6v6h-6zM318 498h6v6h-6zM294 510h6v6h-6zM294 516h6v6h-6zM294 522h6v6h-6zM330 522h6v6h-6zM294 528h6v6h-6zM354 558h6v6h-6z"/>
<path fill="#09bbf1" d="M366 444h6v6h-6zM366 450h6v6h-6zM366 456h6v6h-6zM294 462h12v6h-12zM366 462h6v6h-6zM366 468h6v6h-6zM288 474h6v6h-6zM366 474h6v6h-6zM288 480h6v6h-6zM312 480h6v6h-6zM372 480h42v6h-42zM288 486h6v6h-6zM408 486h12v6h-12zM288 492h6v6h-6zM414 492h6v6h-6zM288 498h6v6h-6zM414 498h6v6h-6zM324 516h6v6h-6zM300 534h12v6h-12zM390 546h6v6h-6zM348 564h6v6h-6zM396 576h6v6h-6z"/>
<path fill="#04c2ec" d="M366 438h6v6h-6zM360 462h6v6h-6zM288 468h6v6h-6zM306 468h6v6h-6zM360 468h6v6h-6zM360 474h6v6h-6zM366 480h6v6h-6zM318 486h6v6h-6zM384 486h24v6h-24zM408 492h6v6h-6zM288 504h6v6h-6zM408 504h6v6h-6zM288 510h6v6h-6zM324 510h6v6h-6zM288 516h6v6h-6zM402 516h6v6h-6zM288 522h6v6h-6zM288 528h6v6h-6zM294 534h6v6h-6zM354 540h6v6h-6zM390 540h6v6h-6zM402 594h6v6h-6z"/>
<path fill="#00c9e6" d="M360 450h6v6h-6zM294 456h12v6h-12zM360 456h6v6h-6zM288 462h6v6h-6zM312 474h6v6h-6zM372 486h12v6h-12zM402 492h6v6h-6zM324 498h6v6h-6zM408 498h6v6h-6zM324 504h6v6h-6zM288 534h6v6h-6zM348 534h6v6h-6zM312 540h6v6h-6zM390 552h6v6h-6zM342 564h6v6h-6z"/>
<path fill="#00cbde" d="M360 438h6v6h-6zM360 444h6v6h-6zM306 462h6v6h-6zM282 468h6v6h-6zM282 474h6v6h-6zM282 480h6v6h-6zM360 480h6v6h-6zM282 486h6v6h-6zM282 492h6v6h-6zM324 492h6v6h-6zM390 492h12v6h-12zM282 498h6v6h-6zM282 504h6v6h-6zM282 510h6v6h-6zM282 516h6v6h-6zM282 522h6v6h-6zM282 528h6v6h-6zM282 534h6v6h-6zM390 534h6v6h-6zM282 540h12v6h-12zM318 546h6v6h-6z"/>
<path fill="#00ced7" d="M282 462h6v6h-6zM276 468h6v6h-6zM354 468h6v6h-6zM276 474h6v6h-6zM354 474h6v6h-6zM270 480h12v6h-12zM318 480h6v6h-6zM276 486h6v6h-6zM366 486h6v6h-6zM276 492h6v6h-6zM384 492h6v6h-6zM276 498h6v6h-6zM402 498h6v6h-6zM276 504h6v6h-6zM276 510h6v6h-6zM276 516h6v6h-6zM270 522h12v6h-12zM270 528h12v6h-12zM342 528h6v6h-6zM270 534h12v6h-12zM270 540h12v6h-12zM294 540h6v6h-6zM270 546h18v6h-18zM324 552h6v6h-6zM390 558h6v6h-6zM402 600h6v6h-6z"/>
<path fill="#00d0cf" d="M300 450h6v6h-6zM288 456h6v6h-6zM306 456h6v6h-6zM354 456h6v6h-6zM276 462h6v6h-6zM354 462h6v6h-6zM258 468h18v6h-18zM312 468h6v6h-6zM258 474h18v6h-18zM258 480h12v6h-12zM258 486h18v6h-18zM324 486h6v6h-6zM258 492h18v6h-18zM378 492h6v6h-6zM258 498h18v6h-18zM396 498h6v6h-6zM258 504h18v6h-18zM402 504h6v6h-6zM258 510h18v6h-18zM402 510h6v6h-6zM258 516h18v6h-18zM330 516h6v6h-6zM264 522h6v6h-6zM336 522h6v6h-6zM396 522h6v6h-6zM264 528h6v6h-6zM264 534h6v6h-6zM264 540h6v6h-6zM306 540h6v6h-6zM264 546h6v6h-6zM360 546h6v6h-6zM264 552h18v6h-18zM360 552h6v6h-6zM330 558h6v6h-6zM354 564h6v6h-6zM396 582h6v6h-6z"/>
<path fill="#00d1c9" d="M354 450h6v6h-6zM258 462h18v6h-18zM252 474h6v6h-6zM252 480h6v6h-6zM354 480h6v6h-6zM252 486h6v6h-6zM360 486h6v6h-6zM372 492h6v6h-6zM258 522h6v6h-6zM258 528h6v6h-6zM258 534h6v6h-6zM258 540h6v6h-6zM300 540h6v6h-6zM288 546h6v6h-6zM270 558h6v6h-6z"/>
<path fill="#00d2c2" d="M354 444h6v6h-6zM294 450h6v6h-6zM306 450h6v6h-6zM252 462h6v6h-6zM252 468h6v6h-6zM318 474h6v6h-6zM252 492h6v6h-6zM252 498h6v6h-6zM390 498h6v6h-6zM252 504h6v6h-6zM252 510h6v6h-6zM252 516h6v6h-6zM258 546h6v6h-6zM282 552h6v6h-6zM276 558h6v6h-6z"/>
<path fill="#00d3bb" d="M354 438h6v6h-6zM258 456h18v6h-18zM282 456h6v6h-6zM312 462h6v6h-6zM246 474h6v6h-6zM246 480h6v6h-6zM384 498h6v6h-6zM252 522h6v6h-6zM252 528h6v6h-6zM252 534h6v6h-6zM252 540h6v6h-6zM252 546h6v6h-6zM270 564h6v6h-6zM336 564h6v6h-6zM390 564h6v6h-6zM348 570h6v6h-6z"/>
<path fill="#00d5b2" d="M354 432h6v6h-6zM300 444h6v6h-6zM252 456h6v6h-6zM276 456h6v6h-6zM246 462h6v6h-6zM246 468h6v6h-6zM348 468h6v6h-6zM348 474h6v6h-6zM324 480h6v6h-6zM246 486h6v6h-6zM246 492h6v6h-6zM366 492h6v6h-6zM246 498h6v6h-6zM246 504h6v6h-6zM396 504h6v6h-6zM246 510h6v6h-6zM330 510h6v6h-6zM246 516h6v6h-6zM246 522h6v6h-6zM246 528h6v6h-6zM390 528h6v6h-6zM246 534h6v6h-6zM246 540h6v6h-6zM360 540h6v6h-6zM312 546h6v6h-6zM396 588h6v6h-6z"/>
<path fill="#00d6a7" d="M306 444h6v6h-6zM246 456h6v6h-6zM312 456h6v6h-6zM240 462h6v6h-6zM348 462h6v6h-6zM240 468h6v6h-6zM240 474h6v6h-6zM240 480h6v6h-6zM348 480h6v6h-6zM240 486h6v6h-6zM354 486h6v6h-6zM240 492h6v6h-6zM330 492h6v6h-6zM240 498h6v6h-6zM330 498h6v6h-6zM378 498h6v6h-6zM240 504h6v6h-6zM330 504h6v6h-6zM396 516h6v6h-6zM354 534h6v6h-6zM360 558h6v6h-6z"/>
<path fill="#00d79b" d="M288 450h6v6h-6zM240 456h6v6h-6zM348 456h6v6h-6zM234 462h6v6h-6zM234 468h6v6h-6zM318 468h6v6h-6zM234 474h6v6h-6zM234 480h6v6h-6zM234 486h6v6h-6zM330 486h6v6h-6zM234 492h6v6h-6zM234 498h6v6h-6zM234 504h6v6h-6zM390 504h6v6h-6zM234 510h12v6h-12zM396 510h6v6h-6zM234 516h12v6h-12zM240 522h6v6h-6zM240 528h6v6h-6zM240 534h6v6h-6zM240 540h6v6h-6zM384 540h6v6h-6zM294 546h6v6h-6zM318 552h6v6h-6z"/>
<path fill="#00d890" d="M348 444h6v6h-6zM216 450h48v6h-48zM312 450h6v6h-6zM348 450h6v6h-6zM216 456h24v6h-24zM216 462h18v6h-18zM216 468h18v6h-18zM216 474h18v6h-18zM324 474h6v6h-6zM216 480h18v6h-18zM216 486h18v6h-18zM216 492h18v6h-18zM360 492h6v6h-6zM216 498h18v6h-18zM216 504h18v6h-18zM222 510h12v6h-12zM222 516h12v6h-12zM336 516h6v6h-6zM222 522h18v6h-18zM228 528h12v6h-12zM348 528h6v6h-6zM228 534h12v6h-12zM228 540h12v6h-12zM384 546h6v6h-6zM276 564h6v6h-6zM342 570h6v6h-6zM390 570h6v6h-6zM396 594h6v6h-6z"/>
<path fill="#02d583" d="M348 432h6v6h-6zM306 438h6v6h-6zM348 438h6v6h-6zM222 444h12v6h-12zM294 444h6v6h-6zM312 444h6v6h-6zM210 450h6v6h-6zM264 450h12v6h-12zM204 456h12v6h-12zM204 462h12v6h-12zM318 462h6v6h-6zM204 468h12v6h-12zM204 474h12v6h-12zM342 474h6v6h-6zM204 480h12v6h-12zM330 480h6v6h-6zM342 480h6v6h-6zM204 486h12v6h-12zM348 486h6v6h-6zM210 492h6v6h-6zM210 498h6v6h-6zM372 498h6v6h-6zM210 504h6v6h-6zM210 510h12v6h-12zM210 516h12v6h-12zM216 522h6v6h-6zM342 522h6v6h-6zM216 528h12v6h-12zM216 534h12v6h-12zM222 540h6v6h-6zM306 546h6v6h-6zM282 558h6v6h-6zM324 558h6v6h-6z"/>
<path fill="#04d176" d="M228 438h6v6h-6zM300 438h6v6h-6zM312 438h6v6h-6zM234 444h6v6h-6zM276 450h12v6h-12zM318 456h6v6h-6zM342 462h6v6h-6zM324 468h6v6h-6zM342 468h6v6h-6zM336 480h6v6h-6zM204 492h6v6h-6zM204 498h6v6h-6zM204 504h6v6h-6zM384 504h6v6h-6zM210 522h6v6h-6zM210 528h6v6h-6zM384 534h6v6h-6zM216 540h6v6h-6zM216 546h6v6h-6zM300 546h6v6h-6zM366 546h6v6h-6zM288 552h6v6h-6zM384 552h6v6h-6zM354 570h6v6h-6z"/>
<path fill="#07ce68" d="M312 432h6v6h-6zM240 444h6v6h-6zM318 444h6v6h-6zM318 450h6v6h-6zM342 450h6v6h-6zM342 456h6v6h-6zM198 462h6v6h-6zM324 462h6v6h-6zM198 468h6v6h-6zM198 474h6v6h-6zM330 474h12v6h-12zM198 480h6v6h-6zM336 486h12v6h-12zM204 510h6v6h-6zM390 510h6v6h-6zM204 516h6v6h-6zM390 522h6v6h-6zM210 534h6v6h-6zM396 600h6v6h-6z"/>
<path fill="#08ca5c" d="M264 102h24v6h-24zM258 108h36v6h-36zM252 114h48v6h-48zM252 120h48v6h-48zM252 126h42v6h-42zM252 132h42v6h-42zM252 138h42v6h-42zM252 144h42v6h-42zM252 150h42v6h-42zM306 150h18v6h-18zM258 156h36v6h-36zM300 156h30v6h-30zM258 162h72v6h-72zM258 168h72v6h-72zM270 174h60v6h-60zM276 180h36v6h-36zM318 426h6v6h-6zM342 426h6v6h-6zM306 432h6v6h-6zM318 432h6v6h-6zM342 432h6v6h-6zM234 438h6v6h-6zM318 438h6v6h-6zM342 438h6v6h-6zM246 444h6v6h-6zM324 444h6v6h-6zM342 444h6v6h-6zM324 450h6v6h-6zM336 450h6v6h-6zM324 456h18v6h-18zM330 462h12v6h-12zM330 468h12v6h-12zM198 486h6v6h-6zM198 492h6v6h-6zM336 492h6v6h-6zM354 492h6v6h-6zM366 498h6v6h-6zM378 504h6v6h-6zM204 522h6v6h-6zM360 534h6v6h-6zM210 540h6v6h-6zM366 540h6v6h-6zM330 564h6v6h-6zM390 576h6v6h-6z"/>
<path fill="#08c752" d="M246 120h6v6h-6zM246 126h6v6h-6zM246 132h6v6h-6zM252 156h6v6h-6zM252 162h6v6h-6zM252 168h6v6h-6zM258 174h12v6h-12zM258 180h18v6h-18zM312 180h18v6h-18zM264 186h66v6h-66zM276 192h54v6h-54zM324 408h6v6h-6zM318 414h18v6h-18zM318 420h24v6h-24zM312 426h6v6h-6zM324 426h18v6h-18zM324 432h18v6h-18zM324 438h18v6h-18zM252 444h6v6h-6zM330 444h12v6h-12zM330 450h6v6h-6zM198 498h6v6h-6zM336 510h6v6h-6zM390 516h6v6h-6zM204 528h6v6h-6zM210 546h6v6h-6zM312 552h6v6h-6zM366 552h6v6h-6zM348 576h6v6h-6z"/>
<path fill="#08c248" d="M240 126h6v6h-6zM240 132h6v6h-6zM240 138h12v6h-12zM246 144h6v6h-6zM246 150h6v6h-6zM252 174h6v6h-6zM258 186h6v6h-6zM270 192h6v6h-6zM294 198h30v6h-30zM330 372h6v6h-6zM318 402h6v6h-6zM318 408h6v6h-6zM312 420h6v6h-6zM240 438h6v6h-6zM258 444h12v6h-12zM288 444h6v6h-6zM348 492h6v6h-6zM336 498h6v6h-6zM198 504h6v6h-6zM336 504h6v6h-6zM354 528h6v6h-6zM204 534h6v6h-6zM384 558h6v6h-6zM360 564h6v6h-6zM336 570h6v6h-6z"/>
<path fill="#08be3e" d="M234 132h6v6h-6zM234 138h6v6h-6zM240 144h6v6h-6zM240 150h6v6h-6zM246 156h6v6h-6zM246 162h6v6h-6zM252 180h6v6h-6zM264 192h6v6h-6zM276 198h18v6h-18zM324 378h6v6h-6zM312 414h6v6h-6zM306 426h6v6h-6zM234 432h6v6h-6zM300 432h6v6h-6zM294 438h6v6h-6zM192 468h6v6h-6zM342 492h6v6h-6zM360 498h6v6h-6zM198 510h6v6h-6zM384 510h6v6h-6zM342 516h6v6h-6zM384 528h6v6h-6zM378 540h6v6h-6z"/>
<path fill="#09bb36" d="M234 144h6v6h-6zM240 156h6v6h-6zM246 168h6v6h-6zM252 186h6v6h-6zM258 192h6v6h-6zM300 204h12v6h-12zM324 372h6v6h-6zM246 438h6v6h-6zM270 444h6v6h-6zM282 444h6v6h-6zM192 474h6v6h-6zM372 504h6v6h-6zM198 516h6v6h-6zM348 522h6v6h-6zM366 534h6v6h-6zM204 540h6v6h-6zM372 540h6v6h-6zM372 546h12v6h-12zM294 552h6v6h-6zM318 558h6v6h-6zM276 570h6v6h-6zM342 576h6v6h-6zM390 582h6v6h-6z"/>
<path fill="#0cb831" d="M228 138h6v6h-6zM234 150h6v6h-6zM234 156h6v6h-6zM240 162h6v6h-6zM246 174h6v6h-6zM270 198h6v6h-6zM288 204h12v6h-12zM318 384h6v6h-6zM312 408h6v6h-6zM306 420h6v6h-6zM276 444h6v6h-6zM192 480h6v6h-6zM378 534h6v6h-6zM306 552h6v6h-6zM354 576h6v6h-6z"/>
<path fill="#0eb62c" d="M228 144h6v6h-6zM228 150h6v6h-6zM234 162h6v6h-6zM240 168h6v6h-6zM252 192h6v6h-6zM282 204h6v6h-6zM324 366h6v6h-6zM318 378h6v6h-6zM312 402h6v6h-6zM252 438h6v6h-6zM192 486h6v6h-6zM342 498h6v6h-6zM354 498h6v6h-6zM366 504h6v6h-6zM342 510h6v6h-6zM378 510h6v6h-6zM384 516h6v6h-6zM198 522h6v6h-6zM384 522h6v6h-6zM360 528h6v6h-6zM372 534h6v6h-6zM204 546h6v6h-6zM282 564h6v6h-6zM384 564h6v6h-6zM390 588h6v6h-6z"/>
<path fill="#10b427" d="M228 156h6v6h-6zM234 168h6v6h-6zM240 174h6v6h-6zM246 180h6v6h-6zM264 198h6v6h-6zM300 210h6v6h-6zM312 396h6v6h-6zM300 426h6v6h-6zM240 432h6v6h-6zM258 438h6v6h-6zM288 438h6v6h-6zM348 498h6v6h-6zM342 504h6v6h-6zM300 552h6v6h-6zM378 552h6v6h-6zM288 558h6v6h-6zM366 558h6v6h-6zM324 564h6v6h-6z"/>
<path fill="#10b325" d="M228 162h6v6h-6zM240 180h6v6h-6zM258 198h6v6h-6zM276 204h6v6h-6zM294 210h6v6h-6zM318 372h6v6h-6zM306 414h6v6h-6zM246 432h6v6h-6zM294 432h6v6h-6zM264 438h6v6h-6zM192 492h6v6h-6zM372 510h6v6h-6zM348 516h6v6h-6zM354 522h6v6h-6zM366 528h6v6h-6zM378 528h6v6h-6zM372 552h6v6h-6zM312 558h6v6h-6zM348 582h6v6h-6zM390 594h6v6h-6z"/>
<path fill="#10b123" d="M222 156h6v6h-6zM228 168h6v6h-6zM234 174h6v6h-6zM246 186h6v6h-6zM288 210h6v6h-6zM252 432h6v6h-6zM270 438h6v6h-6zM192 498h6v6h-6zM348 504h6v6h-6zM360 504h6v6h-6zM378 516h6v6h-6zM378 522h6v6h-6zM198 528h6v6h-6zM372 528h6v6h-6zM330 570h6v6h-6z"/>
<path fill="#10b021" d="M222 162h6v6h-6zM234 180h6v6h-6zM240 186h6v6h-6zM252 198h6v6h-6zM270 204h6v6h-6zM318 366h6v6h-6zM312 384h6v6h-6zM306 408h6v6h-6zM300 420h6v6h-6zM240 426h6v6h-6zM258 432h6v6h-6zM276 438h12v6h-12zM354 504h6v6h-6zM348 510h6v6h-6zM366 510h6v6h-6zM372 516h6v6h-6zM360 522h6v6h-6zM372 522h6v6h-6zM360 570h6v6h-6zM384 570h6v6h-6zM336 576h6v6h-6zM342 582h6v6h-6z"/>
<path fill="#14af1f" d="M222 168h6v6h-6zM228 174h6v6h-6zM246 192h6v6h-6zM282 210h6v6h-6zM300 216h6v6h-6zM312 378h6v6h-6zM306 402h6v6h-6zM246 426h6v6h-6zM294 426h6v6h-6zM264 432h6v6h-6zM288 432h6v6h-6zM354 510h12v6h-12zM354 516h18v6h-18zM366 522h6v6h-6zM198 534h6v6h-6zM294 558h6v6h-6zM306 558h6v6h-6zM378 558h6v6h-6zM318 564h6v6h-6zM276 576h6v6h-6zM354 582h6v6h-6z"/>
<path fill="#19ae1d" d="M222 174h6v6h-6zM228 180h6v6h-6zM234 186h6v6h-6zM240 192h6v6h-6zM294 216h6v6h-6zM318 360h6v6h-6zM312 372h6v6h-6zM306 396h6v6h-6zM300 414h6v6h-6zM240 420h6v6h-6zM252 426h6v6h-6zM270 432h6v6h-6zM192 504h6v6h-6zM300 558h6v6h-6zM348 588h6v6h-6z"/>
<path fill="#1fae1b" d="M216 174h6v6h-6zM228 186h6v6h-6zM264 204h6v6h-6zM300 408h6v6h-6zM240 414h6v6h-6zM246 420h12v6h-12zM294 420h6v6h-6zM258 426h12v6h-12zM288 426h6v6h-6zM276 432h12v6h-12zM372 558h6v6h-6zM288 564h6v6h-6zM312 564h6v6h-6zM366 564h6v6h-6zM282 570h6v6h-6zM324 570h6v6h-6zM384 576h6v6h-6z"/>
<path fill="#24ad19" d="M222 180h6v6h-6zM234 192h6v6h-6zM240 198h12v6h-12zM258 204h6v6h-6zM276 210h6v6h-6zM288 216h6v6h-6zM312 366h6v6h-6zM306 378h6v6h-6zM306 384h6v6h-6zM300 396h6v6h-6zM300 402h6v6h-6zM246 408h6v6h-6zM246 414h12v6h-12zM294 414h6v6h-6zM258 420h12v6h-12zM288 420h6v6h-6zM270 426h18v6h-18zM192 510h6v6h-6zM198 540h6v6h-6zM306 564h6v6h-6zM378 564h6v6h-6zM330 576h6v6h-6zM336 582h6v6h-6zM342 588h6v6h-6z"/>
<path fill="#2aad17" d="M216 180h6v6h-6zM222 186h6v6h-6zM228 192h6v6h-6zM234 198h6v6h-6zM252 204h6v6h-6zM306 372h6v6h-6zM300 378h6v6h-6zM246 384h18v6h-18zM294 384h12v6h-12zM246 390h24v6h-24zM294 390h12v6h-12zM246 396h30v6h-30zM288 396h12v6h-12zM246 402h54v6h-54zM252 408h48v6h-48zM258 414h36v6h-36zM270 420h18v6h-18zM294 564h12v6h-12zM318 570h6v6h-6zM360 576h6v6h-6zM384 582h6v6h-6zM354 588h6v6h-6zM348 594h6v6h-6z"/>
<path fill="#33af15" d="M216 186h6v6h-6zM222 192h6v6h-6zM228 198h6v6h-6zM246 204h6v6h-6zM282 216h6v6h-6zM294 222h6v6h-6zM264 348h12v6h-12zM258 354h30v6h-30zM258 360h42v6h-42zM312 360h6v6h-6zM258 366h54v6h-54zM252 372h54v6h-54zM252 378h48v6h-48zM264 384h30v6h-30zM270 390h24v6h-24zM276 396h12v6h-12zM186 474h6v6h-6zM288 570h6v6h-6zM306 570h12v6h-12zM282 576h6v6h-6zM324 576h6v6h-6zM330 582h6v6h-6zM336 588h6v6h-6zM384 588h6v6h-6zM342 594h6v6h-6zM384 594h6v6h-6zM384 600h6v6h-6z"/>
<path fill="#3db113" d="M216 192h6v6h-6zM222 198h6v6h-6zM234 204h12v6h-12zM270 210h6v6h-6zM252 342h30v6h-30zM258 348h6v6h-6zM276 348h12v6h-12zM288 354h12v6h-12zM300 360h12v6h-12zM192 516h6v6h-6zM198 546h6v6h-6zM372 564h6v6h-6zM294 570h12v6h-12zM378 570h6v6h-6zM312 576h12v6h-12zM330 588h6v6h-6zM336 594h6v6h-6zM342 600h12v6h-12z"/>
<path fill="#46b311" d="M216 198h6v6h-6zM222 204h12v6h-12zM288 222h6v6h-6zM252 336h30v6h-30zM282 342h6v6h-6zM288 348h12v6h-12zM186 480h6v6h-6zM366 570h6v6h-6zM288 576h24v6h-24zM282 582h48v6h-48zM360 582h6v6h-6zM318 588h12v6h-12zM324 594h12v6h-12zM354 594h6v6h-6zM330 600h12v6h-12zM336 606h18v6h-18zM336 612h12v6h-12z"/>
<path fill="#53b60e" d="M210 204h12v6h-12zM222 210h48v6h-48zM276 216h6v6h-6zM252 330h30v6h-30zM282 336h6v6h-6zM288 342h6v6h-6zM372 570h6v6h-6zM378 576h6v6h-6zM282 588h36v6h-36zM288 594h36v6h-36zM294 600h36v6h-36zM354 600h6v6h-6zM300 606h36v6h-36zM348 612h6v6h-6z"/>
<path fill="#62b80c" d="M210 210h12v6h-12zM222 216h24v6h-24zM282 222h6v6h-6zM288 228h6v6h-6zM264 324h12v6h-12zM282 330h6v6h-6zM288 336h6v6h-6zM294 342h12v6h-12zM366 576h6v6h-6zM378 582h6v6h-6zM360 588h6v6h-6zM378 588h6v6h-6zM378 594h6v6h-6zM378 600h6v6h-6zM354 606h6v6h-6zM354 612h6v6h-6z"/>
<path fill="#71bb09" d="M210 216h12v6h-12zM246 216h6v6h-6zM210 222h30v6h-30zM282 228h6v6h-6zM288 234h6v6h-6zM288 240h6v6h-6zM264 318h12v6h-12zM258 324h6v6h-6zM276 324h12v6h-12zM288 330h6v6h-6zM294 336h12v6h-12zM186 486h6v6h-6zM192 522h6v6h-6zM198 552h6v6h-6zM372 576h6v6h-6zM366 582h6v6h-6zM360 594h6v6h-6zM360 600h6v6h-6z"/>
<path fill="#7dbd08" d="M252 216h6v6h-6zM270 216h6v6h-6zM240 222h12v6h-12zM276 222h6v6h-6zM216 228h24v6h-24zM222 234h6v6h-6zM282 234h6v6h-6zM282 240h6v6h-6zM282 246h18v6h-18zM282 252h12v6h-12zM264 312h18v6h-18zM276 318h12v6h-12zM288 324h12v6h-12zM294 330h18v6h-18zM306 336h6v6h-6zM372 582h6v6h-6zM366 588h12v6h-12zM366 594h12v6h-12zM366 600h12v6h-12zM360 606h18v6h-18z"/>
<path fill="#88c008" d="M258 216h12v6h-12zM240 228h12v6h-12zM276 228h6v6h-6zM228 234h18v6h-18zM276 234h6v6h-6zM222 240h12v6h-12zM276 240h6v6h-6zM276 246h6v6h-6zM276 252h6v6h-6zM294 252h6v6h-6zM276 258h36v6h-36zM276 264h48v6h-48zM276 270h54v6h-54zM276 276h60v6h-60zM276 282h60v6h-60zM276 288h60v6h-60zM276 294h60v6h-60zM270 300h60v6h-60zM270 306h54v6h-54zM282 312h42v6h-42zM288 318h30v6h-30zM300 324h18v6h-18z"/>
<path fill="#93c308" d="M252 222h6v6h-6zM270 222h6v6h-6zM246 234h6v6h-6zM234 240h18v6h-18zM270 240h6v6h-6zM228 246h18v6h-18zM270 246h6v6h-6zM234 252h42v6h-42zM240 258h36v6h-36zM246 264h30v6h-30zM252 270h24v6h-24zM252 276h24v6h-24zM258 282h18v6h-18zM264 288h12v6h-12zM270 294h6v6h-6zM186 492h6v6h-6z"/>
<path fill="#a0c608" d="M258 222h12v6h-12zM252 228h24v6h-24zM252 234h24v6h-24zM252 240h18v6h-18zM246 246h24v6h-24zM192 528h6v6h-6z"/>
<path fill="#cdcf05" d="M186 498h6v6h-6zM192 534h6v6h-6z"/>
<path fill="#f2d400" d="M186 504h6v6h-6z"/>
<path fill="#fbd400" d="M192 540h6v6h-6z"/>
<path fill="#ffd400" d="M186 510h6v6h-6z"/>
<path fill="#ffd400" d="M192 546h6v6h-6z"/>
<path fill="#ffcb00" d="M180 480h6v6h-6z"/>
<path fill="#ffc600" d="M186 516h6v6h-6z"/>
<path fill="#ffbf00" d="M192 552h6v6h-6z"/>
<path fill="#ffb700" d="M180 486h6v6h-6z"/>
<path fill="#ffa800" d="M186 522h6v6h-6z"/>
<path fill="#ff9302" d="M180 492h6v6h-6z"/>
<path fill="#ff8604" d="M186 528h6v6h-6z"/>
<path fill="#fd6c08" d="M180 498h6v6h-6z"/>
<path fill="#f96008" d="M186 534h6v6h-6z"/>
<path fill="#eb3b05" d="M180 504h6v6h-6zM186 540h6v6h-6z"/>
<path fill="#e02001" d="M180 510h6v6h-6zM186 546h6v6h-6z"/>
<path fill="#dd180f" d="M186 552h6v6h-6z"/>
<path fill="#dc1516" d="M180 516h6v6h-6z"/>
<path fill="#dc1621" d="M186 558h6v6h-6z"/>
<path fill="#dc182c" d="M174 492h6v6h-6zM180 522h6v6h-6z"/>
<path fill="#df243f" d="M174 498h6v6h-6zM180 528h6v6h-6z"/>
<path fill="#e32f45" d="M174 504h6v6h-6zM180 534h6v6h-6z"/>
<path fill="#e6394c" d="M180 540h6v6h-6z"/>
<path fill="#e84453" d="M174 510h6v6h-6zM180 546h6v6h-6z"/>
<path fill="#ea4e59" d="M174 516h6v6h-6zM180 552h6v6h-6zM180 558h6v6h-6z"/>
<path fill="#eb5860" d="M174 522h6v6h-6zM174 528h6v6h-6z"/>
<path fill="#ec6367" d="M168 510h6v6h-6zM168 516h6v6h-6zM174 534h6v6h-6zM174 540h6v6h-6zM174 546h6v6h-6zM174 552h6v6h-6z"/>
<path fill="#f1716c" d="M162 510h6v6h-6zM162 516h6v6h-6zM162 522h12v6h-12zM162 528h12v6h-12zM168 534h6v6h-6zM168 540h6v6h-6zM168 546h6v6h-6zM168 552h6v6h-6zM168 558h12v6h-12zM168 564h6v6h-6z"/>
<path fill="#f67f70" d="M132 510h30v6h-30zM108 516h54v6h-54zM102 522h60v6h-60zM102 528h60v6h-60zM102 534h66v6h-66zM102 540h66v6h-66zM102 546h66v6h-66zM102 552h66v6h-66zM102 558h66v6h-66zM108 564h60v6h-60zM114 570h24v6h-24z"/>
</g></g></g>
<use href="#over"/>
<circle cx="277.4" cy="191" r="3.1" fill="#2b2424"/>
<text x="15.3" y="75.3" font-size="73">E</text>
<text x="79.4" y="133.8" font-size="44" text-anchor="middle">Pb</text>
<text x="83.9" y="184.5" font-size="44" text-anchor="middle">μg/g</text>
<text x="81.4" y="742.6" font-size="33.3" text-anchor="middle">110.3°E</text>
<text x="244.9" y="742.6" font-size="33.3" text-anchor="middle">110.4°E</text>
<text x="408.4" y="742.6" font-size="33.3" text-anchor="middle">110.5°E</text>
<text x="571.9" y="742.6" font-size="33.3" text-anchor="middle">110.6°E</text>
<text transform="translate(686.7 698) rotate(-90)" font-size="19.8">Ocean Data View</text>
<g transform="translate(698.0 0)">
<use href="#cbar"/>
<text x="30.2" y="654.1" font-size="32">10</text>
<text x="30.2" y="537" font-size="32">20</text>
<text x="30.2" y="419.9" font-size="32">30</text>
<text x="30.2" y="302.9" font-size="32">40</text>
<text x="30.2" y="185.8" font-size="32">50</text>
<text x="30.2" y="68.7" font-size="32">60</text>
<path d="M0.5 643.9h3.6M16.7 643.9h3.6M0.5 526.8h3.6M16.7 526.8h3.6M0.5 409.7h3.6M16.7 409.7h3.6M0.5 292.7h3.6M16.7 292.7h3.6M0.5 175.6h3.6M16.7 175.6h3.6M0.5 58.5h3.6M16.7 58.5h3.6" stroke="#3a2a20" stroke-width="1.4" fill="none" opacity="0.8"/>
</g>
</g>
<g transform="translate(1726.7 802) scale(0.9971 0.9962)">
<use href="#frame"/>
<use href="#base"/>
<g clip-path="url(#crclip)"><g clip-path="url(#fclip)"><g filter="url(#bl)">
<path fill="#7730ff" d="M438 528h18v6h-18zM432 534h24v6h-24zM426 540h36v6h-36zM426 546h36v6h-36zM426 552h36v6h-36zM426 558h36v6h-36zM426 564h36v6h-36zM432 570h24v6h-24zM444 576h6v6h-6z"/>
<path fill="#7430ff" d="M432 522h18v6h-18zM426 528h12v6h-12zM420 534h12v6h-12zM414 540h12v6h-12zM414 546h12v6h-12zM414 552h12v6h-12zM414 558h12v6h-12zM414 564h12v6h-12zM414 570h18v6h-18z"/>
<path fill="#7030ff" d="M438 516h6v6h-6zM426 522h6v6h-6zM420 528h6v6h-6zM414 534h6v6h-6zM408 540h6v6h-6zM408 546h6v6h-6zM408 552h6v6h-6zM408 558h6v6h-6zM408 564h6v6h-6zM408 570h6v6h-6z"/>
<path fill="#6c36ff" d="M432 516h6v6h-6zM420 522h6v6h-6zM414 528h6v6h-6zM408 534h6v6h-6zM408 576h6v6h-6zM414 582h6v6h-6z"/>
<path fill="#683cff" d="M324 450h6v6h-6zM318 462h6v6h-6zM312 468h6v6h-6zM306 474h12v6h-12zM300 480h18v6h-18zM300 486h18v6h-18zM300 492h18v6h-18zM300 498h18v6h-18zM306 504h6v6h-6zM402 540h6v6h-6zM402 546h6v6h-6zM402 552h6v6h-6zM402 558h6v6h-6zM402 564h6v6h-6zM402 570h6v6h-6zM408 582h6v6h-6zM414 588h6v6h-6z"/>
<path fill="#6443ff" d="M330 414h6v6h-6zM330 420h6v6h-6zM324 426h12v6h-12zM324 432h12v6h-12zM318 438h18v6h-18zM318 444h18v6h-18zM318 450h6v6h-6zM330 450h6v6h-6zM312 456h24v6h-24zM306 462h12v6h-12zM324 462h12v6h-12zM300 468h12v6h-12zM318 468h12v6h-12zM300 474h6v6h-6zM318 474h6v6h-6zM294 480h6v6h-6zM318 480h6v6h-6zM294 486h6v6h-6zM318 486h6v6h-6zM294 492h6v6h-6zM318 492h6v6h-6zM294 498h6v6h-6zM300 504h6v6h-6zM312 504h6v6h-6zM300 510h18v6h-18zM300 516h12v6h-12zM426 516h6v6h-6zM414 522h6v6h-6zM408 528h6v6h-6z"/>
<path fill="#6049ff" d="M324 414h6v6h-6zM324 420h6v6h-6zM336 420h6v6h-6zM336 426h6v6h-6zM318 432h6v6h-6zM336 432h6v6h-6zM336 438h6v6h-6zM336 444h6v6h-6zM312 450h6v6h-6zM336 450h6v6h-6zM306 456h6v6h-6zM336 456h6v6h-6zM300 462h6v6h-6zM294 468h6v6h-6zM330 468h6v6h-6zM294 474h6v6h-6zM324 474h6v6h-6zM324 480h6v6h-6zM318 498h6v6h-6zM294 504h6v6h-6zM294 510h6v6h-6zM294 516h6v6h-6zM300 522h6v6h-6zM402 534h6v6h-6zM402 576h6v6h-6zM408 588h6v6h-6z"/>
<path fill="#5d50ff" d="M324 408h6v6h-6zM318 426h6v6h-6zM312 444h6v6h-6zM336 462h6v6h-6zM318 504h6v6h-6zM432 510h6v6h-6zM312 516h6v6h-6zM420 516h6v6h-6zM294 522h6v6h-6zM306 522h6v6h-6zM396 546h6v6h-6zM396 552h6v6h-6z"/>
<path fill="#5b58ff" d="M342 426h6v6h-6zM294 462h6v6h-6zM288 474h6v6h-6zM330 474h6v6h-6zM288 480h6v6h-6zM288 486h6v6h-6zM324 486h6v6h-6zM288 492h6v6h-6zM288 498h6v6h-6zM288 504h6v6h-6zM288 510h6v6h-6zM318 510h6v6h-6zM294 528h6v6h-6zM396 540h6v6h-6zM396 558h6v6h-6zM402 582h6v6h-6zM408 594h6v6h-6z"/>
<path fill="#585fff" d="M318 420h6v6h-6zM342 432h6v6h-6zM312 438h6v6h-6zM342 438h6v6h-6zM342 444h6v6h-6zM306 450h6v6h-6zM300 456h6v6h-6zM288 468h6v6h-6zM336 468h6v6h-6zM324 492h6v6h-6zM288 516h6v6h-6zM288 522h6v6h-6zM408 522h6v6h-6zM288 528h6v6h-6zM300 528h6v6h-6zM402 528h6v6h-6zM396 564h6v6h-6z"/>
<path fill="#5264ff" d="M342 450h6v6h-6zM330 480h6v6h-6zM426 510h6v6h-6zM312 522h6v6h-6zM288 534h6v6h-6zM396 570h6v6h-6z"/>
<path fill="#4b69ff" d="M330 372h6v6h-6zM318 414h6v6h-6zM282 474h6v6h-6zM282 480h6v6h-6zM282 486h6v6h-6zM282 492h6v6h-6zM282 498h6v6h-6zM324 498h6v6h-6zM282 504h6v6h-6zM282 510h6v6h-6zM282 516h6v6h-6zM414 516h6v6h-6zM282 522h6v6h-6zM282 528h6v6h-6zM282 534h6v6h-6zM294 534h6v6h-6zM396 534h6v6h-6zM402 588h6v6h-6z"/>
<path fill="#446dff" d="M312 432h6v6h-6zM342 456h6v6h-6zM288 462h6v6h-6zM282 468h6v6h-6zM276 474h6v6h-6zM276 480h6v6h-6zM276 486h6v6h-6zM276 492h6v6h-6zM276 510h6v6h-6zM276 516h6v6h-6zM318 516h6v6h-6zM276 522h6v6h-6zM276 528h6v6h-6zM306 528h6v6h-6zM276 534h6v6h-6zM276 540h12v6h-12z"/>
<path fill="#3d73ff" d="M276 468h6v6h-6zM264 474h12v6h-12zM336 474h6v6h-6zM258 480h18v6h-18zM258 486h18v6h-18zM258 492h18v6h-18zM258 498h24v6h-24zM264 504h18v6h-18zM264 510h12v6h-12zM264 516h12v6h-12zM264 522h12v6h-12zM264 528h12v6h-12zM264 534h12v6h-12zM264 540h12v6h-12zM270 546h12v6h-12zM396 576h6v6h-6zM402 594h6v6h-6z"/>
<path fill="#367aff" d="M318 408h6v6h-6zM306 444h6v6h-6zM294 456h6v6h-6zM342 462h6v6h-6zM258 468h18v6h-18zM258 474h6v6h-6zM330 486h6v6h-6zM258 504h6v6h-6zM324 504h6v6h-6zM258 510h6v6h-6zM258 516h6v6h-6zM258 522h6v6h-6zM258 528h6v6h-6zM288 540h6v6h-6zM264 546h6v6h-6zM390 546h6v6h-6zM270 552h6v6h-6zM390 552h6v6h-6z"/>
<path fill="#2f81ff" d="M300 450h6v6h-6zM252 474h6v6h-6zM252 480h6v6h-6zM252 486h6v6h-6zM252 492h6v6h-6zM252 498h6v6h-6zM420 510h6v6h-6zM258 534h6v6h-6zM258 540h6v6h-6zM390 540h6v6h-6zM282 546h6v6h-6zM264 552h6v6h-6zM276 552h6v6h-6zM390 558h6v6h-6zM396 582h6v6h-6zM402 600h6v6h-6z"/>
<path fill="#2888ff" d="M348 432h6v6h-6zM282 462h6v6h-6zM252 468h6v6h-6zM252 504h6v6h-6zM252 510h6v6h-6zM252 516h6v6h-6zM252 522h6v6h-6zM402 522h6v6h-6zM300 534h6v6h-6zM258 546h6v6h-6zM270 558h6v6h-6z"/>
<path fill="#218fff" d="M324 378h6v6h-6zM312 426h6v6h-6zM258 462h24v6h-24zM324 510h6v6h-6zM408 516h6v6h-6zM318 522h6v6h-6zM252 528h6v6h-6zM396 528h6v6h-6zM252 534h6v6h-6zM252 540h6v6h-6zM390 564h6v6h-6z"/>
<path fill="#1c98fd" d="M318 402h6v6h-6zM348 438h6v6h-6zM252 462h6v6h-6zM342 468h6v6h-6zM246 474h6v6h-6zM246 480h6v6h-6zM336 480h6v6h-6zM246 486h6v6h-6zM246 492h6v6h-6zM246 498h6v6h-6zM246 504h6v6h-6zM246 510h6v6h-6zM246 516h6v6h-6zM246 522h6v6h-6zM246 528h6v6h-6zM312 528h6v6h-6zM252 546h6v6h-6zM396 588h6v6h-6z"/>
<path fill="#17a1fb" d="M348 444h6v6h-6zM246 468h6v6h-6zM330 492h6v6h-6zM246 534h6v6h-6zM246 540h6v6h-6z"/>
<path fill="#13aaf9" d="M246 462h6v6h-6zM240 468h6v6h-6zM240 474h6v6h-6zM240 480h6v6h-6zM240 486h6v6h-6zM240 492h6v6h-6zM240 498h6v6h-6zM240 504h6v6h-6zM240 510h6v6h-6zM240 516h6v6h-6zM240 522h6v6h-6zM240 528h6v6h-6zM240 534h6v6h-6zM390 534h6v6h-6zM240 540h6v6h-6zM390 570h6v6h-6zM396 594h6v6h-6z"/>
<path fill="#0eb3f6" d="M324 372h6v6h-6zM306 438h6v6h-6zM348 450h6v6h-6zM288 456h6v6h-6zM240 462h6v6h-6zM234 468h6v6h-6zM228 474h12v6h-12zM228 480h12v6h-12zM228 486h12v6h-12zM228 492h12v6h-12zM228 498h12v6h-12zM228 504h12v6h-12zM426 504h6v6h-6zM228 510h12v6h-12zM414 510h6v6h-6zM228 516h12v6h-12zM324 516h6v6h-6zM228 522h12v6h-12zM228 528h12v6h-12zM228 534h12v6h-12zM228 540h12v6h-12zM294 540h6v6h-6zM276 558h6v6h-6z"/>
<path fill="#09bbf1" d="M312 420h6v6h-6zM210 450h12v6h-12zM204 456h24v6h-24zM198 462h42v6h-42zM204 468h30v6h-30zM204 474h24v6h-24zM204 480h24v6h-24zM204 486h24v6h-24zM204 492h24v6h-24zM204 498h24v6h-24zM204 504h24v6h-24zM204 510h24v6h-24zM210 516h18v6h-18zM210 522h18v6h-18zM210 528h18v6h-18zM216 534h12v6h-12zM216 540h12v6h-12zM216 546h6v6h-6zM384 546h6v6h-6zM384 552h6v6h-6zM390 576h6v6h-6zM396 600h6v6h-6z"/>
<path fill="#04c2ec" d="M222 450h6v6h-6zM228 456h6v6h-6zM198 468h6v6h-6zM198 474h6v6h-6zM198 480h6v6h-6zM198 486h6v6h-6zM198 492h6v6h-6zM198 498h6v6h-6zM198 504h6v6h-6zM204 516h6v6h-6zM204 522h6v6h-6zM204 528h6v6h-6zM318 528h6v6h-6zM210 534h6v6h-6zM306 534h6v6h-6zM210 540h6v6h-6zM210 546h6v6h-6zM282 552h6v6h-6zM270 564h6v6h-6z"/>
<path fill="#00c9e6" d="M222 444h6v6h-6zM228 450h6v6h-6zM234 456h36v6h-36zM348 456h6v6h-6zM192 468h6v6h-6zM192 474h6v6h-6zM342 474h6v6h-6zM192 480h6v6h-6zM330 498h6v6h-6zM198 510h6v6h-6zM198 516h6v6h-6zM324 522h6v6h-6zM204 534h6v6h-6zM204 540h6v6h-6zM384 540h6v6h-6zM288 546h6v6h-6zM384 558h6v6h-6zM390 582h6v6h-6z"/>
<path fill="#00cbde" d="M324 366h6v6h-6zM294 450h6v6h-6zM270 456h6v6h-6zM192 486h6v6h-6zM192 492h6v6h-6zM192 498h6v6h-6zM198 522h6v6h-6zM198 528h6v6h-6zM336 540h6v6h-6zM204 546h6v6h-6zM342 546h6v6h-6z"/>
<path fill="#00ced7" d="M300 444h6v6h-6zM282 456h6v6h-6zM336 486h6v6h-6zM192 504h6v6h-6zM324 528h6v6h-6zM198 534h6v6h-6zM342 540h6v6h-6zM336 546h6v6h-6zM348 546h6v6h-6zM384 564h6v6h-6zM390 588h6v6h-6z"/>
<path fill="#00d0cf" d="M228 444h6v6h-6zM234 450h6v6h-6zM276 456h6v6h-6zM186 474h6v6h-6zM420 504h6v6h-6zM192 510h6v6h-6zM402 516h6v6h-6zM396 522h6v6h-6zM330 528h6v6h-6zM330 534h12v6h-12zM198 540h6v6h-6zM330 540h6v6h-6zM348 552h6v6h-6zM390 594h6v6h-6z"/>
<path fill="#00d1c9" d="M348 462h6v6h-6zM186 480h6v6h-6zM330 504h6v6h-6zM192 516h6v6h-6zM390 528h6v6h-6zM312 534h6v6h-6zM324 534h6v6h-6zM348 540h6v6h-6zM198 546h6v6h-6zM342 552h6v6h-6zM354 552h6v6h-6zM384 570h6v6h-6z"/>
<path fill="#00d2c2" d="M312 414h6v6h-6zM306 432h6v6h-6zM240 450h6v6h-6zM186 486h6v6h-6zM186 492h6v6h-6zM192 522h6v6h-6zM330 522h6v6h-6zM318 534h6v6h-6zM342 534h6v6h-6zM354 546h6v6h-6zM378 546h6v6h-6zM198 552h6v6h-6zM378 552h6v6h-6z"/>
<path fill="#00d3bb" d="M354 432h6v6h-6zM186 498h6v6h-6zM408 510h6v6h-6zM192 528h6v6h-6zM336 528h6v6h-6zM378 558h6v6h-6zM384 576h6v6h-6z"/>
<path fill="#00d5b2" d="M342 480h6v6h-6zM186 504h6v6h-6zM330 510h6v6h-6zM330 516h6v6h-6zM192 534h6v6h-6zM384 534h6v6h-6zM324 540h6v6h-6zM330 546h6v6h-6zM336 552h6v6h-6zM360 552h6v6h-6zM348 558h12v6h-12zM378 564h6v6h-6zM384 582h6v6h-6z"/>
<path fill="#00d6a7" d="M318 384h6v6h-6zM228 438h6v6h-6zM234 444h6v6h-6zM246 450h6v6h-6zM192 540h6v6h-6zM300 540h6v6h-6zM354 540h6v6h-6zM360 546h6v6h-6zM372 552h6v6h-6zM360 558h6v6h-6zM384 588h6v6h-6zM384 594h6v6h-6zM384 600h6v6h-6z"/>
<path fill="#00d79b" d="M294 258h18v6h-18zM294 264h30v6h-30zM288 270h42v6h-42zM288 276h48v6h-48zM288 282h48v6h-48zM288 288h48v6h-48zM288 294h48v6h-48zM294 300h36v6h-36zM354 438h6v6h-6zM348 468h6v6h-6zM180 480h6v6h-6zM336 492h6v6h-6zM186 510h6v6h-6zM348 534h6v6h-6zM378 540h6v6h-6zM192 546h6v6h-6zM366 552h6v6h-6zM366 558h12v6h-12zM378 570h6v6h-6z"/>
<path fill="#00d890" d="M294 246h6v6h-6zM288 252h12v6h-12zM288 258h6v6h-6zM288 264h6v6h-6zM282 270h6v6h-6zM282 276h6v6h-6zM282 282h6v6h-6zM282 288h6v6h-6zM282 294h6v6h-6zM288 300h6v6h-6zM288 306h36v6h-36zM300 312h24v6h-24zM180 486h6v6h-6zM186 516h6v6h-6zM336 522h6v6h-6zM342 528h6v6h-6zM372 546h6v6h-6zM192 552h6v6h-6zM342 558h6v6h-6zM276 564h6v6h-6zM372 564h6v6h-6zM378 576h6v6h-6zM378 582h6v6h-6zM378 588h6v6h-6zM378 594h6v6h-6zM378 600h6v6h-6z"/>
<path fill="#02d583" d="M288 246h6v6h-6zM282 258h6v6h-6zM282 264h6v6h-6zM276 288h6v6h-6zM282 300h6v6h-6zM294 312h6v6h-6zM306 318h12v6h-12zM354 444h6v6h-6zM252 450h6v6h-6zM180 492h6v6h-6zM414 504h6v6h-6zM186 522h6v6h-6zM366 546h6v6h-6zM354 564h18v6h-18zM372 570h6v6h-6zM372 576h6v6h-6z"/>
<path fill="#04d176" d="M282 252h6v6h-6zM276 276h6v6h-6zM276 282h6v6h-6zM276 294h6v6h-6zM282 306h6v6h-6zM288 312h6v6h-6zM294 318h12v6h-12zM312 324h6v6h-6zM312 408h6v6h-6zM180 498h6v6h-6zM186 528h6v6h-6zM186 534h6v6h-6zM360 540h6v6h-6zM366 570h6v6h-6zM366 576h6v6h-6zM372 582h6v6h-6zM372 588h6v6h-6zM372 594h6v6h-6zM372 600h6v6h-6zM372 606h6v6h-6z"/>
<path fill="#07ce68" d="M288 240h6v6h-6zM276 264h6v6h-6zM276 270h6v6h-6zM276 300h6v6h-6zM306 324h6v6h-6zM318 378h6v6h-6zM258 450h6v6h-6zM288 450h6v6h-6zM180 504h6v6h-6zM354 534h6v6h-6zM186 540h6v6h-6zM318 540h6v6h-6zM360 570h6v6h-6zM366 582h6v6h-6zM366 588h6v6h-6z"/>
<path fill="#08ca5c" d="M282 246h6v6h-6zM276 258h6v6h-6zM270 282h6v6h-6zM270 288h6v6h-6zM270 294h6v6h-6zM276 306h6v6h-6zM282 312h6v6h-6zM288 318h6v6h-6zM300 324h6v6h-6zM354 450h6v6h-6zM342 486h6v6h-6zM336 498h6v6h-6zM180 510h6v6h-6zM180 516h6v6h-6zM336 516h6v6h-6zM396 516h6v6h-6zM390 522h6v6h-6zM372 540h6v6h-6zM186 546h6v6h-6zM324 546h6v6h-6zM186 552h6v6h-6zM330 552h6v6h-6zM348 564h6v6h-6zM366 594h6v6h-6zM366 600h6v6h-6zM366 606h6v6h-6z"/>
<path fill="#08c752" d="M288 234h6v6h-6zM282 240h6v6h-6zM276 252h6v6h-6zM270 270h6v6h-6zM270 276h6v6h-6zM258 282h12v6h-12zM264 288h6v6h-6zM270 300h6v6h-6zM240 444h6v6h-6zM264 450h6v6h-6zM348 474h6v6h-6zM174 492h6v6h-6zM402 510h6v6h-6zM180 522h6v6h-6zM342 522h6v6h-6zM348 528h6v6h-6zM384 528h6v6h-6zM378 534h6v6h-6zM366 540h6v6h-6zM186 558h6v6h-6zM360 576h6v6h-6z"/>
<path fill="#08c248" d="M282 234h6v6h-6zM276 246h6v6h-6zM270 258h6v6h-6zM246 264h30v6h-30zM252 270h18v6h-18zM252 276h18v6h-18zM294 324h6v6h-6zM306 330h6v6h-6zM306 426h6v6h-6zM300 438h6v6h-6zM174 498h6v6h-6zM420 498h6v6h-6zM174 504h6v6h-6zM336 504h6v6h-6zM174 510h6v6h-6zM336 510h6v6h-6zM180 528h6v6h-6zM180 534h6v6h-6zM180 540h6v6h-6zM306 540h6v6h-6zM180 546h6v6h-6zM294 546h6v6h-6zM282 558h6v6h-6zM336 558h6v6h-6zM360 582h6v6h-6z"/>
<path fill="#08be3e" d="M318 192h12v6h-12zM312 198h12v6h-12zM306 204h6v6h-6zM300 210h6v6h-6zM294 216h12v6h-12zM288 222h12v6h-12zM282 228h12v6h-12zM276 234h6v6h-6zM228 240h18v6h-18zM270 240h12v6h-12zM228 246h48v6h-48zM234 252h42v6h-42zM240 258h30v6h-30zM270 306h6v6h-6zM234 438h6v6h-6zM270 450h6v6h-6zM354 456h6v6h-6zM168 510h6v6h-6zM168 516h12v6h-12zM168 522h12v6h-12zM174 528h6v6h-6zM174 534h6v6h-6zM360 534h6v6h-6zM174 540h6v6h-6zM312 540h6v6h-6zM174 546h6v6h-6zM174 552h12v6h-12zM174 558h12v6h-12zM354 570h6v6h-6zM360 588h6v6h-6z"/>
<path fill="#09bb36" d="M264 102h24v6h-24zM258 108h36v6h-36zM252 114h48v6h-48zM246 120h54v6h-54zM240 126h54v6h-54zM234 132h60v6h-60zM228 138h66v6h-66zM228 144h66v6h-66zM228 150h66v6h-66zM306 150h18v6h-18zM222 156h72v6h-72zM300 156h30v6h-30zM222 162h108v6h-108zM222 168h108v6h-108zM216 174h114v6h-114zM216 180h114v6h-114zM216 186h114v6h-114zM216 192h102v6h-102zM216 198h96v6h-96zM210 204h96v6h-96zM210 210h90v6h-90zM210 216h84v6h-84zM210 222h78v6h-78zM216 228h66v6h-66zM222 234h54v6h-54zM222 240h6v6h-6zM246 240h24v6h-24zM276 312h6v6h-6zM282 318h6v6h-6zM300 330h6v6h-6zM318 372h6v6h-6zM294 444h6v6h-6zM408 504h6v6h-6zM132 510h36v6h-36zM108 516h60v6h-60zM102 522h66v6h-66zM102 528h72v6h-72zM102 534h72v6h-72zM102 540h72v6h-72zM102 546h72v6h-72zM102 552h72v6h-72zM102 558h72v6h-72zM108 564h66v6h-66zM114 570h24v6h-24zM360 594h6v6h-6z"/>
<path fill="#0cb831" d="M288 324h6v6h-6zM312 402h6v6h-6zM342 492h6v6h-6zM342 516h6v6h-6zM354 528h6v6h-6zM366 534h12v6h-12zM288 552h6v6h-6zM360 600h6v6h-6z"/>
<path fill="#0eb62c" d="M276 450h12v6h-12zM354 462h6v6h-6zM348 480h6v6h-6zM348 522h6v6h-6zM360 606h6v6h-6z"/>
<path fill="#10b427" d="M294 330h6v6h-6zM306 336h6v6h-6zM246 444h6v6h-6zM390 516h6v6h-6zM384 522h6v6h-6zM360 528h6v6h-6zM378 528h6v6h-6zM342 564h6v6h-6z"/>
<path fill="#10b325" d="M264 312h12v6h-12zM318 366h6v6h-6zM360 438h6v6h-6zM342 498h6v6h-6zM414 498h6v6h-6zM342 504h6v6h-6zM342 510h6v6h-6zM396 510h6v6h-6z"/>
<path fill="#10b123" d="M318 360h6v6h-6zM354 468h6v6h-6zM348 486h6v6h-6zM348 516h6v6h-6zM354 522h6v6h-6zM366 528h12v6h-12zM318 546h6v6h-6zM354 576h6v6h-6z"/>
<path fill="#10b021" d="M276 318h6v6h-6zM300 336h6v6h-6zM360 444h6v6h-6zM402 504h6v6h-6zM348 510h6v6h-6zM360 522h6v6h-6zM378 522h6v6h-6z"/>
<path fill="#14af1f" d="M282 324h6v6h-6zM360 450h6v6h-6zM348 492h6v6h-6zM348 498h6v6h-6zM348 504h6v6h-6zM354 516h12v6h-12zM384 516h6v6h-6zM366 522h12v6h-12zM324 552h6v6h-6zM348 570h6v6h-6z"/>
<path fill="#19ae1d" d="M288 330h6v6h-6zM312 396h6v6h-6zM306 420h6v6h-6zM252 444h6v6h-6zM354 474h6v6h-6zM408 498h6v6h-6zM354 504h6v6h-6zM354 510h12v6h-12zM390 510h6v6h-6zM366 516h18v6h-18z"/>
<path fill="#1fae1b" d="M360 456h6v6h-6zM354 498h6v6h-6zM360 504h6v6h-6zM366 510h24v6h-24zM330 558h6v6h-6zM354 582h6v6h-6z"/>
<path fill="#24ad19" d="M270 318h6v6h-6zM240 438h6v6h-6zM366 438h6v6h-6zM354 480h6v6h-6zM354 486h6v6h-6zM354 492h6v6h-6zM414 492h6v6h-6zM360 498h6v6h-6zM366 504h12v6h-12zM396 504h6v6h-6z"/>
<path fill="#2aad17" d="M264 318h6v6h-6zM294 336h6v6h-6zM234 432h6v6h-6zM366 444h6v6h-6zM360 462h6v6h-6zM420 486h6v6h-6zM366 498h6v6h-6zM402 498h6v6h-6zM378 504h18v6h-18z"/>
<path fill="#33af15" d="M258 444h6v6h-6zM366 450h6v6h-6zM360 468h6v6h-6zM360 492h6v6h-6zM408 492h6v6h-6zM372 498h6v6h-6zM300 546h6v6h-6zM276 570h6v6h-6zM354 588h6v6h-6z"/>
<path fill="#3db113" d="M300 432h6v6h-6zM366 456h6v6h-6zM360 474h6v6h-6zM360 480h6v6h-6zM420 480h6v6h-6zM360 486h6v6h-6zM414 486h6v6h-6zM366 492h6v6h-6zM378 498h24v6h-24zM312 546h6v6h-6zM336 564h6v6h-6z"/>
<path fill="#46b311" d="M276 324h6v6h-6zM300 342h6v6h-6zM384 420h6v6h-6zM378 426h6v6h-6zM372 444h6v6h-6zM372 450h6v6h-6zM372 456h6v6h-6zM366 462h6v6h-6zM366 468h6v6h-6zM420 474h6v6h-6zM414 480h6v6h-6zM366 486h6v6h-6zM408 486h6v6h-6zM372 492h36v6h-36zM354 594h6v6h-6z"/>
<path fill="#53b60e" d="M390 414h6v6h-6zM390 420h12v6h-12zM384 426h24v6h-24zM384 432h30v6h-30zM384 438h30v6h-30zM264 444h6v6h-6zM288 444h6v6h-6zM378 444h42v6h-42zM378 450h42v6h-42zM378 456h42v6h-42zM372 462h48v6h-48zM372 468h48v6h-48zM366 474h54v6h-54zM366 480h48v6h-48zM372 486h36v6h-36zM354 600h6v6h-6z"/>
<path fill="#62b80c" d="M282 330h6v6h-6zM306 546h6v6h-6zM354 606h6v6h-6z"/>
<path fill="#71bb09" d="M246 438h6v6h-6zM342 570h6v6h-6zM348 576h6v6h-6zM354 612h6v6h-6z"/>
<path fill="#7dbd08" d="M258 324h6v6h-6zM288 336h6v6h-6zM306 414h6v6h-6zM294 438h6v6h-6zM270 444h6v6h-6zM318 552h6v6h-6z"/>
<path fill="#88c008" d="M282 564h6v6h-6z"/>
<path fill="#93c308" d="M264 324h12v6h-12zM312 384h6v6h-6z"/>
<path fill="#a0c608" d="M294 342h6v6h-6zM294 552h6v6h-6zM324 558h6v6h-6z"/>
<path fill="#afc908" d="M276 444h6v6h-6z"/>
<path fill="#becc08" d="M312 360h6v6h-6zM252 438h6v6h-6zM282 444h6v6h-6z"/>
<path fill="#cdcf05" d="M276 330h6v6h-6zM312 378h6v6h-6zM240 432h6v6h-6zM288 558h6v6h-6z"/>
<path fill="#dbd103" d="M330 564h6v6h-6zM348 582h6v6h-6z"/>
<path fill="#e9d400" d="M252 330h6v6h-6zM312 366h6v6h-6zM312 372h6v6h-6zM306 408h6v6h-6zM300 426h6v6h-6zM312 552h6v6h-6z"/>
<path fill="#f2d400" d="M258 330h6v6h-6zM282 336h6v6h-6z"/>
<path fill="#fbd400" d="M258 438h6v6h-6zM336 570h6v6h-6z"/>
<path fill="#ffd400" d="M264 330h6v6h-6zM288 342h6v6h-6zM342 576h6v6h-6z"/>
<path fill="#ffd400" d="M270 330h6v6h-6zM348 588h6v6h-6z"/>
<path fill="#ffd400" d="M246 432h6v6h-6zM264 438h6v6h-6zM300 552h12v6h-12zM318 558h6v6h-6zM276 576h6v6h-6z"/>
<path fill="#ffd400" d="M294 348h6v6h-6zM306 402h6v6h-6zM288 438h6v6h-6z"/>
<path fill="#ffcf00" d="M294 432h6v6h-6zM348 594h6v6h-6z"/>
<path fill="#ffcb00" d="M276 336h6v6h-6zM270 438h6v6h-6z"/>
<path fill="#ffc600" d="M252 336h6v6h-6zM306 360h6v6h-6zM300 420h6v6h-6zM240 426h6v6h-6zM324 564h6v6h-6zM348 600h6v6h-6zM348 606h6v6h-6z"/>
<path fill="#ffbf00" d="M258 336h6v6h-6zM252 432h6v6h-6zM348 612h6v6h-6z"/>
<path fill="#ffb700" d="M282 342h6v6h-6zM306 396h6v6h-6zM312 558h6v6h-6zM282 570h6v6h-6zM342 582h6v6h-6z"/>
<path fill="#ffb000" d="M264 336h6v6h-6zM276 438h12v6h-12zM294 558h6v6h-6zM330 570h6v6h-6z"/>
<path fill="#ffa800" d="M270 336h6v6h-6zM288 348h6v6h-6zM336 576h6v6h-6z"/>
<path fill="#ffa000" d="M306 366h6v6h-6zM246 426h6v6h-6zM258 432h6v6h-6zM306 558h6v6h-6zM288 564h6v6h-6z"/>
<path fill="#ff9302" d="M294 354h6v6h-6zM300 558h6v6h-6zM318 564h6v6h-6z"/>
<path fill="#ff8604" d="M252 342h6v6h-6zM276 342h6v6h-6zM300 360h6v6h-6zM300 414h6v6h-6zM294 426h6v6h-6zM264 432h6v6h-6zM342 588h6v6h-6z"/>
<path fill="#ff7807" d="M258 342h6v6h-6zM306 372h6v6h-6zM306 384h6v6h-6zM240 420h6v6h-6zM288 432h6v6h-6z"/>
<path fill="#fd6c08" d="M306 378h6v6h-6zM252 426h6v6h-6zM270 432h6v6h-6zM312 564h6v6h-6zM324 570h6v6h-6zM342 594h6v6h-6z"/>
<path fill="#f96008" d="M264 342h12v6h-12zM282 348h6v6h-6zM336 582h6v6h-6z"/>
<path fill="#f55508" d="M288 354h6v6h-6zM300 408h6v6h-6zM246 420h6v6h-6zM294 564h6v6h-6zM306 564h6v6h-6zM282 576h6v6h-6zM330 576h6v6h-6zM342 600h6v6h-6zM342 606h6v6h-6z"/>
<path fill="#f14908" d="M294 360h6v6h-6zM300 366h6v6h-6zM240 414h6v6h-6zM258 426h6v6h-6zM276 432h12v6h-12zM300 564h6v6h-6zM288 570h6v6h-6zM318 570h6v6h-6zM342 612h6v6h-6z"/>
<path fill="#eb3b05" d="M258 348h6v6h-6zM276 348h6v6h-6zM294 420h6v6h-6zM264 426h6v6h-6zM312 570h6v6h-6zM336 588h6v6h-6z"/>
<path fill="#e52d03" d="M264 348h6v6h-6zM300 402h6v6h-6zM252 420h6v6h-6zM288 426h6v6h-6zM306 570h6v6h-6zM324 576h6v6h-6zM330 582h6v6h-6zM336 594h6v6h-6z"/>
<path fill="#e02001" d="M270 348h6v6h-6zM282 354h6v6h-6zM300 372h6v6h-6zM300 396h6v6h-6zM246 414h6v6h-6zM258 420h6v6h-6zM270 426h6v6h-6zM294 570h12v6h-12zM288 576h6v6h-6zM318 576h6v6h-6zM282 582h6v6h-6zM330 588h6v6h-6zM336 600h6v6h-6zM336 606h6v6h-6z"/>
<path fill="#df1c08" d="M288 360h6v6h-6zM294 366h6v6h-6zM300 378h6v6h-6zM300 390h6v6h-6zM252 414h6v6h-6zM294 414h6v6h-6zM276 426h12v6h-12zM294 576h24v6h-24zM318 582h12v6h-12zM330 594h6v6h-6zM336 612h6v6h-6z"/>
<path fill="#dd180f" d="M258 354h12v6h-12zM276 354h6v6h-6zM300 384h6v6h-6zM246 408h6v6h-6zM264 420h6v6h-6zM288 420h6v6h-6zM288 582h30v6h-30zM282 588h6v6h-6zM306 588h24v6h-24zM318 594h12v6h-12zM324 600h12v6h-12zM330 606h6v6h-6z"/>
<path fill="#dc1516" d="M270 354h6v6h-6zM258 360h6v6h-6zM282 360h6v6h-6zM288 366h6v6h-6zM294 372h6v6h-6zM246 402h6v6h-6zM252 408h6v6h-6zM294 408h6v6h-6zM258 414h12v6h-12zM270 420h6v6h-6zM288 588h18v6h-18zM288 594h30v6h-30zM294 600h30v6h-30zM300 606h30v6h-30z"/>
<path fill="#dc1621" d="M264 360h18v6h-18zM258 366h6v6h-6zM282 366h6v6h-6zM294 378h6v6h-6zM246 390h6v6h-6zM246 396h12v6h-12zM294 396h6v6h-6zM252 402h6v6h-6zM294 402h6v6h-6zM258 408h12v6h-12zM270 414h6v6h-6zM288 414h6v6h-6zM276 420h12v6h-12z"/>
<path fill="#dc182c" d="M264 366h18v6h-18zM252 372h42v6h-42zM252 378h18v6h-18zM282 378h12v6h-12zM246 384h24v6h-24zM288 384h12v6h-12zM252 390h18v6h-18zM288 390h12v6h-12zM258 396h18v6h-18zM288 396h6v6h-6zM258 402h24v6h-24zM288 402h6v6h-6zM270 408h24v6h-24zM276 414h12v6h-12z"/>
<path fill="#dc1a38" d="M270 378h12v6h-12zM270 384h18v6h-18zM270 390h18v6h-18zM276 396h12v6h-12zM282 402h6v6h-6z"/>
</g></g></g>
<use href="#over"/>
<text x="15.8" y="77.8" font-size="73">F</text>
<text x="81.3" y="136.4" font-size="44" text-anchor="middle">Zn</text>
<text x="84.6" y="187.4" font-size="44" text-anchor="middle">μg/g</text>
<text x="81.4" y="742.6" font-size="33.3" text-anchor="middle">110.3°E</text>
<text x="244.9" y="742.6" font-size="33.3" text-anchor="middle">110.4°E</text>
<text x="408.4" y="742.6" font-size="33.3" text-anchor="middle">110.5°E</text>
<text x="571.9" y="742.6" font-size="33.3" text-anchor="middle">110.6°E</text>
<text transform="translate(686.7 698) rotate(-90)" font-size="19.8">Ocean Data View</text>
<g transform="translate(698.0 0)">
<use href="#cbar"/>
<text x="30.2" y="712.6" font-size="32">0</text>
<text x="30.2" y="612.3" font-size="32">25</text>
<text x="30.2" y="511.9" font-size="32">50</text>
<text x="30.2" y="411.6" font-size="32">75</text>
<text x="30.2" y="311.2" font-size="32">100</text>
<text x="30.2" y="210.9" font-size="32">125</text>
<text x="30.2" y="110.5" font-size="32">150</text>
<text x="30.2" y="10.2" font-size="32">175</text>
<path d="M0.5 702.4h3.6M16.7 702.4h3.6M0.5 602.1h3.6M16.7 602.1h3.6M0.5 501.7h3.6M16.7 501.7h3.6M0.5 401.4h3.6M16.7 401.4h3.6M0.5 301h3.6M16.7 301h3.6M0.5 200.7h3.6M16.7 200.7h3.6M0.5 100.3h3.6M16.7 100.3h3.6M0.5 0h3.6M16.7 0h3.6" stroke="#3a2a20" stroke-width="1.4" fill="none" opacity="0.8"/>
</g>
</g>
<g transform="translate(557.9 1592) scale(1.0066 1.0064)">
<use href="#frame"/>
<use href="#base"/>
<g clip-path="url(#crclip)"><g><g filter="url(#bl)">
<path fill="#5d50ff" d="M444 528h12v6h-12zM438 534h18v6h-18zM438 540h24v6h-24zM438 546h24v6h-24zM438 552h24v6h-24zM438 558h24v6h-24zM444 564h18v6h-18zM450 570h6v6h-6z"/>
<path fill="#5b58ff" d="M438 522h12v6h-12zM432 528h12v6h-12zM426 534h12v6h-12zM426 540h12v6h-12zM426 546h12v6h-12zM420 552h18v6h-18zM426 558h12v6h-12zM426 564h18v6h-18zM432 570h18v6h-18zM444 576h6v6h-6z"/>
<path fill="#585fff" d="M438 516h6v6h-6zM432 522h6v6h-6zM426 528h6v6h-6zM420 534h6v6h-6zM420 540h6v6h-6zM420 546h6v6h-6zM414 552h6v6h-6zM414 558h12v6h-12zM420 564h6v6h-6zM420 570h12v6h-12z"/>
<path fill="#5264ff" d="M432 516h6v6h-6zM426 522h6v6h-6zM420 528h6v6h-6zM414 534h6v6h-6zM414 540h6v6h-6zM414 546h6v6h-6zM414 564h6v6h-6zM414 570h6v6h-6z"/>
<path fill="#4b69ff" d="M426 516h6v6h-6zM420 522h6v6h-6zM414 528h6v6h-6zM408 546h6v6h-6zM408 552h6v6h-6zM408 558h6v6h-6zM408 564h6v6h-6z"/>
<path fill="#446dff" d="M432 510h6v6h-6zM408 540h6v6h-6zM408 570h6v6h-6z"/>
<path fill="#3d73ff" d="M408 534h6v6h-6zM414 582h6v6h-6z"/>
<path fill="#367aff" d="M420 516h6v6h-6zM414 522h6v6h-6zM408 576h6v6h-6z"/>
<path fill="#2f81ff" d="M426 510h6v6h-6zM408 528h6v6h-6zM402 546h6v6h-6zM402 552h6v6h-6zM402 558h6v6h-6z"/>
<path fill="#2888ff" d="M402 540h6v6h-6zM402 564h6v6h-6zM414 588h6v6h-6z"/>
<path fill="#218fff" d="M402 534h6v6h-6zM402 570h6v6h-6zM408 582h6v6h-6z"/>
<path fill="#1c98fd" d="M420 510h6v6h-6zM414 516h6v6h-6zM408 522h6v6h-6z"/>
<path fill="#13aaf9" d="M426 504h6v6h-6z"/>
<path fill="#0eb3f6" d="M402 528h6v6h-6zM402 576h6v6h-6zM408 588h6v6h-6z"/>
<path fill="#09bbf1" d="M336 540h6v6h-6zM342 546h6v6h-6z"/>
<path fill="#04c2ec" d="M336 546h6v6h-6zM396 546h6v6h-6z"/>
<path fill="#00c9e6" d="M420 504h6v6h-6zM414 510h6v6h-6zM408 516h6v6h-6zM330 540h6v6h-6zM342 540h6v6h-6zM396 540h6v6h-6zM342 552h6v6h-6zM396 552h6v6h-6z"/>
<path fill="#00cbde" d="M330 534h12v6h-12zM348 546h6v6h-6zM348 552h6v6h-6zM396 558h6v6h-6zM408 594h6v6h-6z"/>
<path fill="#00ced7" d="M396 534h6v6h-6zM402 582h6v6h-6z"/>
<path fill="#00d0cf" d="M402 522h6v6h-6zM324 534h6v6h-6zM330 546h6v6h-6zM336 552h6v6h-6zM396 564h6v6h-6z"/>
<path fill="#00d1c9" d="M420 498h6v6h-6zM324 528h6v6h-6z"/>
<path fill="#00d2c2" d="M414 504h6v6h-6zM330 528h6v6h-6zM324 540h6v6h-6zM348 540h6v6h-6z"/>
<path fill="#00d3bb" d="M390 414h6v6h-6zM384 420h18v6h-18zM378 426h30v6h-30zM384 432h30v6h-30zM384 438h30v6h-30zM378 444h42v6h-42zM372 450h48v6h-48zM372 456h48v6h-48zM372 462h48v6h-48zM372 468h48v6h-48zM408 474h18v6h-18zM420 480h6v6h-6zM342 534h6v6h-6zM348 558h6v6h-6zM396 570h6v6h-6z"/>
<path fill="#00d5b2" d="M366 444h12v6h-12zM366 450h6v6h-6zM366 456h6v6h-6zM366 462h6v6h-6zM366 468h6v6h-6zM366 474h42v6h-42zM384 480h36v6h-36zM414 486h12v6h-12zM408 510h6v6h-6zM354 546h6v6h-6zM354 552h6v6h-6zM342 558h6v6h-6zM402 588h6v6h-6z"/>
<path fill="#00d6a7" d="M366 438h6v6h-6zM360 462h6v6h-6zM360 468h6v6h-6zM372 480h12v6h-12zM402 486h12v6h-12zM414 492h6v6h-6zM414 498h6v6h-6zM318 528h6v6h-6zM336 528h6v6h-6zM396 528h6v6h-6zM318 534h6v6h-6z"/>
<path fill="#00d79b" d="M360 450h6v6h-6zM360 456h6v6h-6zM360 474h6v6h-6zM366 480h6v6h-6zM384 486h18v6h-18zM408 492h6v6h-6zM324 522h6v6h-6z"/>
<path fill="#00d890" d="M360 438h6v6h-6zM360 444h6v6h-6zM378 486h6v6h-6zM402 492h6v6h-6zM408 498h6v6h-6zM408 504h6v6h-6z"/>
<path fill="#02d583" d="M360 480h6v6h-6zM372 486h6v6h-6zM396 492h6v6h-6zM402 516h6v6h-6zM330 522h6v6h-6zM324 546h6v6h-6zM330 552h6v6h-6z"/>
<path fill="#04d176" d="M354 456h6v6h-6zM354 462h6v6h-6zM354 468h6v6h-6zM354 474h6v6h-6zM366 486h6v6h-6zM390 492h6v6h-6zM318 522h6v6h-6zM318 540h6v6h-6zM390 540h6v6h-6zM390 546h6v6h-6zM354 558h6v6h-6zM396 576h6v6h-6z"/>
<path fill="#07ce68" d="M354 450h6v6h-6zM384 492h6v6h-6zM402 498h6v6h-6zM312 528h6v6h-6zM354 540h6v6h-6zM336 558h6v6h-6zM402 594h6v6h-6z"/>
<path fill="#08ca5c" d="M354 438h6v6h-6zM354 444h6v6h-6zM354 480h6v6h-6zM378 492h6v6h-6zM312 534h6v6h-6zM348 534h6v6h-6zM390 552h6v6h-6z"/>
<path fill="#08c752" d="M354 432h6v6h-6zM396 498h6v6h-6zM402 504h6v6h-6zM402 510h6v6h-6zM318 516h12v6h-12zM312 522h6v6h-6zM390 534h6v6h-6zM348 564h6v6h-6z"/>
<path fill="#08c248" d="M348 468h6v6h-6zM360 486h6v6h-6zM372 492h6v6h-6zM390 498h6v6h-6zM396 522h6v6h-6zM342 528h6v6h-6z"/>
<path fill="#08be3e" d="M348 456h6v6h-6zM348 462h6v6h-6zM348 474h6v6h-6zM312 510h12v6h-12zM312 516h6v6h-6zM306 522h6v6h-6zM306 528h6v6h-6zM390 558h6v6h-6zM402 600h6v6h-6z"/>
<path fill="#09bb36" d="M348 438h6v6h-6zM348 444h6v6h-6zM348 450h6v6h-6zM300 468h6v6h-6zM300 474h12v6h-12zM300 480h18v6h-18zM294 486h24v6h-24zM294 492h30v6h-30zM300 498h24v6h-24zM300 504h24v6h-24zM300 510h12v6h-12zM324 510h6v6h-6zM300 516h12v6h-12zM300 522h6v6h-6zM336 522h6v6h-6zM360 546h6v6h-6zM396 582h6v6h-6z"/>
<path fill="#0cb831" d="M348 432h6v6h-6zM300 462h12v6h-12zM294 468h6v6h-6zM306 468h12v6h-12zM294 474h6v6h-6zM312 474h6v6h-6zM294 480h6v6h-6zM318 480h6v6h-6zM348 480h6v6h-6zM318 486h6v6h-6zM294 498h6v6h-6zM384 498h6v6h-6zM294 504h6v6h-6zM396 504h6v6h-6zM294 510h6v6h-6zM294 516h6v6h-6zM330 516h6v6h-6zM294 522h6v6h-6zM300 528h6v6h-6zM306 534h6v6h-6zM360 552h6v6h-6zM342 564h6v6h-6z"/>
<path fill="#0eb62c" d="M342 450h6v6h-6zM306 456h6v6h-6zM342 456h6v6h-6zM294 462h6v6h-6zM312 462h6v6h-6zM342 462h6v6h-6zM318 468h6v6h-6zM342 468h6v6h-6zM288 474h6v6h-6zM318 474h6v6h-6zM342 474h6v6h-6zM288 480h6v6h-6zM324 480h6v6h-6zM288 486h6v6h-6zM324 486h6v6h-6zM354 486h6v6h-6zM288 492h6v6h-6zM324 492h6v6h-6zM366 492h6v6h-6zM288 498h6v6h-6zM324 498h6v6h-6zM288 504h6v6h-6zM324 504h6v6h-6zM294 528h6v6h-6zM312 540h6v6h-6z"/>
<path fill="#10b427" d="M336 420h6v6h-6zM336 426h12v6h-12zM336 432h12v6h-12zM336 438h12v6h-12zM336 444h12v6h-12zM312 450h12v6h-12zM336 450h6v6h-6zM300 456h6v6h-6zM312 456h30v6h-30zM318 462h24v6h-24zM288 468h6v6h-6zM324 468h18v6h-18zM324 474h18v6h-18zM378 498h6v6h-6zM288 510h6v6h-6zM288 516h6v6h-6zM288 522h6v6h-6zM288 528h6v6h-6zM294 534h12v6h-12zM318 546h6v6h-6zM354 564h6v6h-6z"/>
<path fill="#10b325" d="M324 414h12v6h-12zM324 420h12v6h-12zM324 426h12v6h-12zM318 432h18v6h-18zM318 438h18v6h-18zM312 444h24v6h-24zM306 450h6v6h-6zM324 450h12v6h-12zM288 462h6v6h-6zM282 474h6v6h-6zM282 480h6v6h-6zM330 480h18v6h-18zM282 486h6v6h-6zM282 492h6v6h-6zM282 498h6v6h-6zM282 504h6v6h-6zM282 510h6v6h-6zM282 516h6v6h-6zM396 516h6v6h-6zM282 522h6v6h-6zM282 528h6v6h-6zM390 528h6v6h-6zM282 534h12v6h-12zM324 552h6v6h-6zM390 564h6v6h-6z"/>
<path fill="#10b123" d="M324 408h6v6h-6zM318 426h6v6h-6zM312 438h6v6h-6zM294 456h6v6h-6zM282 468h6v6h-6zM276 474h6v6h-6zM270 480h12v6h-12zM276 486h6v6h-6zM330 486h6v6h-6zM276 492h6v6h-6zM276 498h6v6h-6zM276 504h6v6h-6zM390 504h6v6h-6zM276 510h6v6h-6zM396 510h6v6h-6zM276 516h6v6h-6zM270 522h12v6h-12zM270 528h12v6h-12zM270 534h12v6h-12zM354 534h6v6h-6zM270 540h24v6h-24zM360 540h6v6h-6z"/>
<path fill="#10b021" d="M318 420h6v6h-6zM300 450h6v6h-6zM258 468h24v6h-24zM258 474h18v6h-18zM258 480h12v6h-12zM258 486h18v6h-18zM348 486h6v6h-6zM258 492h18v6h-18zM330 492h6v6h-6zM360 492h6v6h-6zM258 498h18v6h-18zM258 504h18v6h-18zM258 510h18v6h-18zM330 510h6v6h-6zM258 516h18v6h-18zM258 522h12v6h-12zM264 528h6v6h-6zM264 534h6v6h-6zM264 540h6v6h-6zM264 546h18v6h-18zM270 552h6v6h-6zM396 588h6v6h-6z"/>
<path fill="#14af1f" d="M330 372h6v6h-6zM318 414h6v6h-6zM312 432h6v6h-6zM306 444h6v6h-6zM282 462h6v6h-6zM252 468h6v6h-6zM252 474h6v6h-6zM252 480h6v6h-6zM252 486h6v6h-6zM336 486h6v6h-6zM252 492h6v6h-6zM252 498h6v6h-6zM372 498h6v6h-6zM252 504h6v6h-6zM258 528h6v6h-6zM348 528h6v6h-6zM258 534h6v6h-6zM258 540h6v6h-6zM282 546h6v6h-6zM264 552h6v6h-6zM276 552h6v6h-6zM330 558h6v6h-6z"/>
<path fill="#19ae1d" d="M318 408h6v6h-6zM252 462h30v6h-30zM342 486h6v6h-6zM330 498h6v6h-6zM330 504h6v6h-6zM384 504h6v6h-6zM252 510h6v6h-6zM252 516h6v6h-6zM252 522h6v6h-6zM252 528h6v6h-6zM252 534h6v6h-6zM252 540h6v6h-6zM294 540h6v6h-6zM384 540h6v6h-6zM258 546h6v6h-6zM270 558h6v6h-6z"/>
<path fill="#1fae1b" d="M312 426h6v6h-6zM288 456h6v6h-6zM246 468h6v6h-6zM246 474h6v6h-6zM246 480h6v6h-6zM246 486h6v6h-6zM246 492h6v6h-6zM246 498h6v6h-6zM246 504h6v6h-6zM246 510h6v6h-6zM246 516h6v6h-6zM336 516h6v6h-6zM246 522h6v6h-6zM342 522h6v6h-6zM246 528h6v6h-6zM246 534h6v6h-6zM306 540h6v6h-6zM252 546h6v6h-6zM384 546h6v6h-6zM360 558h6v6h-6z"/>
<path fill="#24ad19" d="M324 378h6v6h-6zM318 402h6v6h-6zM306 438h6v6h-6zM246 462h6v6h-6zM240 468h6v6h-6zM240 474h6v6h-6zM240 480h6v6h-6zM240 486h6v6h-6zM240 492h6v6h-6zM240 498h6v6h-6zM240 504h6v6h-6zM240 510h6v6h-6zM240 516h6v6h-6zM240 522h6v6h-6zM240 528h6v6h-6zM240 534h6v6h-6zM240 540h12v6h-12zM300 540h6v6h-6zM276 558h6v6h-6zM348 570h6v6h-6zM390 570h6v6h-6zM396 594h6v6h-6z"/>
<path fill="#2aad17" d="M294 450h6v6h-6zM252 456h18v6h-18zM234 462h12v6h-12zM228 468h12v6h-12zM228 474h12v6h-12zM228 480h12v6h-12zM228 486h12v6h-12zM228 492h12v6h-12zM354 492h6v6h-6zM228 498h12v6h-12zM366 498h6v6h-6zM228 504h12v6h-12zM228 510h12v6h-12zM390 510h6v6h-6zM228 516h12v6h-12zM228 522h12v6h-12zM390 522h6v6h-6zM228 528h12v6h-12zM234 534h6v6h-6zM384 534h6v6h-6zM234 540h6v6h-6zM288 546h6v6h-6zM282 552h6v6h-6zM270 564h6v6h-6zM336 564h6v6h-6z"/>
<path fill="#33af15" d="M312 420h6v6h-6zM300 444h6v6h-6zM210 450h18v6h-18zM204 456h48v6h-48zM270 456h18v6h-18zM204 462h30v6h-30zM204 468h24v6h-24zM204 474h24v6h-24zM204 480h24v6h-24zM204 486h24v6h-24zM204 492h24v6h-24zM336 492h6v6h-6zM204 498h24v6h-24zM210 504h18v6h-18zM378 504h6v6h-6zM210 510h18v6h-18zM210 516h18v6h-18zM210 522h18v6h-18zM216 528h12v6h-12zM216 534h18v6h-18zM216 540h18v6h-18zM366 546h6v6h-6z"/>
<path fill="#3db113" d="M324 372h6v6h-6zM222 444h6v6h-6zM228 450h6v6h-6zM198 462h6v6h-6zM198 468h6v6h-6zM198 474h6v6h-6zM198 480h6v6h-6zM198 486h6v6h-6zM204 504h6v6h-6zM204 510h6v6h-6zM204 516h6v6h-6zM210 528h6v6h-6zM210 534h6v6h-6zM360 534h6v6h-6zM210 540h6v6h-6zM366 540h6v6h-6zM216 546h6v6h-6zM312 546h6v6h-6zM384 552h6v6h-6z"/>
<path fill="#46b311" d="M228 444h6v6h-6zM234 450h6v6h-6zM198 492h6v6h-6zM342 492h12v6h-12zM198 498h6v6h-6zM198 504h6v6h-6zM336 510h6v6h-6zM390 516h6v6h-6zM204 522h6v6h-6zM204 528h6v6h-6zM210 546h6v6h-6zM396 600h6v6h-6z"/>
<path fill="#53b60e" d="M264 102h18v6h-18zM258 108h24v6h-24zM252 114h30v6h-30zM252 120h30v6h-30zM252 126h36v6h-36zM252 132h36v6h-36zM252 138h36v6h-36zM252 144h36v6h-36zM252 150h36v6h-36zM252 156h42v6h-42zM258 162h36v6h-36zM258 168h36v6h-36zM258 174h36v6h-36zM270 180h24v6h-24zM276 186h18v6h-18zM312 414h6v6h-6zM306 432h6v6h-6zM240 450h6v6h-6zM192 468h6v6h-6zM336 498h6v6h-6zM198 510h6v6h-6zM384 510h6v6h-6zM204 534h6v6h-6zM354 570h6v6h-6z"/>
<path fill="#62b80c" d="M282 102h6v6h-6zM282 108h6v6h-6zM282 114h6v6h-6zM246 120h6v6h-6zM282 120h6v6h-6zM246 126h6v6h-6zM288 126h6v6h-6zM246 132h6v6h-6zM288 132h6v6h-6zM246 138h6v6h-6zM288 138h6v6h-6zM288 144h6v6h-6zM288 150h6v6h-6zM252 162h6v6h-6zM252 168h6v6h-6zM294 168h6v6h-6zM252 174h6v6h-6zM294 174h6v6h-6zM258 180h12v6h-12zM294 180h6v6h-6zM264 186h12v6h-12zM294 186h6v6h-6zM276 192h24v6h-24zM324 366h6v6h-6zM228 438h6v6h-6zM234 444h6v6h-6zM246 450h6v6h-6zM192 474h6v6h-6zM192 480h6v6h-6zM360 498h6v6h-6zM336 504h6v6h-6zM372 504h6v6h-6zM198 516h6v6h-6zM354 528h6v6h-6zM384 528h6v6h-6zM204 540h6v6h-6zM318 552h6v6h-6zM390 576h6v6h-6z"/>
<path fill="#71bb09" d="M288 108h6v6h-6zM288 114h6v6h-6zM288 120h6v6h-6zM240 126h6v6h-6zM240 132h6v6h-6zM240 138h6v6h-6zM240 144h12v6h-12zM246 150h6v6h-6zM246 156h6v6h-6zM294 162h6v6h-6zM300 174h6v6h-6zM252 180h6v6h-6zM300 180h6v6h-6zM258 186h6v6h-6zM300 186h6v6h-6zM270 192h6v6h-6zM300 192h6v6h-6zM282 198h18v6h-18zM318 384h6v6h-6zM252 450h6v6h-6zM288 450h6v6h-6zM192 486h6v6h-6zM192 492h6v6h-6zM342 516h6v6h-6zM198 522h6v6h-6zM348 522h6v6h-6zM204 546h6v6h-6zM366 552h6v6h-6zM342 570h6v6h-6z"/>
<path fill="#7dbd08" d="M294 114h6v6h-6zM294 120h6v6h-6zM234 132h6v6h-6zM234 138h6v6h-6zM240 150h6v6h-6zM306 150h18v6h-18zM240 156h6v6h-6zM300 156h30v6h-30zM246 162h6v6h-6zM300 162h30v6h-30zM300 168h30v6h-30zM306 174h24v6h-24zM306 180h24v6h-24zM306 186h24v6h-24zM258 192h12v6h-12zM306 192h24v6h-24zM276 198h6v6h-6zM300 198h24v6h-24zM312 408h6v6h-6zM258 450h6v6h-6zM192 498h6v6h-6zM198 528h6v6h-6zM366 534h6v6h-6zM378 540h6v6h-6zM294 546h6v6h-6zM384 558h6v6h-6zM276 564h6v6h-6z"/>
<path fill="#88c008" d="M228 138h6v6h-6zM234 144h6v6h-6zM234 150h6v6h-6zM240 162h6v6h-6zM246 168h6v6h-6zM252 186h6v6h-6zM270 198h6v6h-6zM294 204h18v6h-18zM300 438h6v6h-6zM240 444h6v6h-6zM264 450h6v6h-6zM342 498h6v6h-6zM354 498h6v6h-6zM192 504h6v6h-6zM378 510h6v6h-6zM198 534h6v6h-6zM372 540h6v6h-6z"/>
<path fill="#93c308" d="M228 144h6v6h-6zM234 156h6v6h-6zM240 168h6v6h-6zM246 174h6v6h-6zM282 204h12v6h-12zM318 378h6v6h-6zM306 426h6v6h-6zM294 444h6v6h-6zM270 450h6v6h-6zM348 498h6v6h-6zM366 504h6v6h-6zM384 516h6v6h-6zM384 522h6v6h-6zM378 534h6v6h-6zM306 546h6v6h-6zM378 546h6v6h-6zM324 558h6v6h-6zM360 564h6v6h-6z"/>
<path fill="#a0c608" d="M228 150h6v6h-6zM234 162h6v6h-6zM240 174h6v6h-6zM246 180h6v6h-6zM252 192h6v6h-6zM264 198h6v6h-6zM300 210h6v6h-6zM234 438h6v6h-6zM276 450h12v6h-12zM186 474h6v6h-6zM342 504h6v6h-6zM192 510h6v6h-6zM342 510h6v6h-6zM360 528h6v6h-6zM372 534h6v6h-6zM198 540h6v6h-6zM372 546h6v6h-6zM282 558h6v6h-6zM390 582h6v6h-6z"/>
<path fill="#afc908" d="M228 156h6v6h-6zM234 168h6v6h-6zM258 198h6v6h-6zM276 204h6v6h-6zM294 210h6v6h-6zM312 402h6v6h-6zM246 444h6v6h-6zM372 510h6v6h-6zM192 516h6v6h-6zM198 546h6v6h-6zM288 552h6v6h-6z"/>
<path fill="#becc08" d="M222 156h6v6h-6zM228 162h6v6h-6zM234 174h6v6h-6zM240 180h6v6h-6zM246 186h6v6h-6zM288 210h6v6h-6zM186 480h6v6h-6zM360 504h6v6h-6zM348 516h6v6h-6zM378 516h6v6h-6zM354 522h6v6h-6zM366 528h6v6h-6zM378 528h6v6h-6zM300 546h6v6h-6z"/>
<path fill="#cdcf05" d="M222 162h6v6h-6zM228 168h6v6h-6zM234 180h6v6h-6zM240 186h6v6h-6zM300 216h6v6h-6zM318 372h6v6h-6zM252 444h6v6h-6zM186 486h6v6h-6zM348 504h12v6h-12zM192 522h6v6h-6zM378 522h6v6h-6zM372 528h6v6h-6zM198 552h6v6h-6zM330 564h6v6h-6zM384 564h6v6h-6zM348 576h6v6h-6zM390 588h6v6h-6z"/>
<path fill="#dbd103" d="M222 168h6v6h-6zM228 174h6v6h-6zM246 192h6v6h-6zM252 198h6v6h-6zM270 204h6v6h-6zM282 210h6v6h-6zM312 396h6v6h-6zM306 420h6v6h-6zM348 510h6v6h-6zM366 510h6v6h-6zM372 516h6v6h-6zM360 522h6v6h-6zM378 552h6v6h-6z"/>
<path fill="#e9d400" d="M228 180h6v6h-6zM234 186h6v6h-6zM240 192h6v6h-6zM294 216h6v6h-6zM234 432h6v6h-6zM240 438h6v6h-6zM258 444h6v6h-6zM186 492h6v6h-6zM354 510h12v6h-12zM354 516h6v6h-6zM366 516h6v6h-6zM366 522h12v6h-12zM192 528h6v6h-6zM312 552h6v6h-6zM366 558h6v6h-6z"/>
<path fill="#f2d400" d="M216 174h12v6h-12zM264 204h6v6h-6zM318 366h6v6h-6zM300 432h6v6h-6zM360 516h6v6h-6zM372 552h6v6h-6zM354 576h6v6h-6zM390 594h6v6h-6z"/>
<path fill="#fbd400" d="M222 180h6v6h-6zM228 186h6v6h-6zM234 192h6v6h-6zM240 198h12v6h-12zM258 204h6v6h-6zM276 210h6v6h-6zM288 216h6v6h-6zM264 444h6v6h-6zM288 444h6v6h-6zM186 498h6v6h-6zM192 534h6v6h-6zM336 570h6v6h-6z"/>
<path fill="#ffd400" d="M216 180h6v6h-6zM222 186h6v6h-6zM228 192h6v6h-6zM234 198h6v6h-6zM252 204h6v6h-6zM246 438h6v6h-6zM294 438h6v6h-6zM270 444h6v6h-6zM186 504h6v6h-6z"/>
<path fill="#ffd400" d="M216 186h6v6h-6zM222 192h6v6h-6zM228 198h6v6h-6zM246 204h6v6h-6zM282 216h6v6h-6zM294 222h6v6h-6zM306 414h6v6h-6zM192 540h6v6h-6zM318 558h6v6h-6zM378 558h6v6h-6zM276 570h6v6h-6zM360 570h6v6h-6zM384 570h6v6h-6zM342 576h6v6h-6z"/>
<path fill="#ffd400" d="M216 192h6v6h-6zM222 198h6v6h-6zM234 204h12v6h-12zM270 210h6v6h-6zM318 360h6v6h-6zM186 510h6v6h-6z"/>
<path fill="#ffd400" d="M216 198h6v6h-6zM222 204h12v6h-12zM288 222h6v6h-6zM312 384h6v6h-6zM252 438h6v6h-6zM276 444h12v6h-12zM192 546h6v6h-6zM294 552h6v6h-6zM306 552h6v6h-6z"/>
<path fill="#ffcf00" d="M210 204h12v6h-12zM222 210h48v6h-48zM276 216h6v6h-6zM300 426h6v6h-6zM240 432h6v6h-6zM180 480h6v6h-6zM186 516h6v6h-6z"/>
<path fill="#ffcb00" d="M210 210h12v6h-12zM216 216h30v6h-30zM282 222h6v6h-6zM288 228h6v6h-6zM312 378h6v6h-6zM306 408h6v6h-6zM258 438h6v6h-6zM192 552h6v6h-6zM372 558h6v6h-6zM282 564h6v6h-6zM384 576h6v6h-6zM348 582h6v6h-6z"/>
<path fill="#ffc600" d="M210 216h6v6h-6zM246 216h6v6h-6zM270 216h6v6h-6zM210 222h36v6h-36zM282 228h6v6h-6zM180 486h6v6h-6zM186 522h6v6h-6zM300 552h6v6h-6zM288 558h6v6h-6zM324 564h6v6h-6zM366 564h6v6h-6zM354 582h6v6h-6z"/>
<path fill="#ffbf00" d="M252 216h6v6h-6zM264 216h6v6h-6zM246 222h6v6h-6zM276 222h6v6h-6zM216 228h30v6h-30zM222 234h12v6h-12zM282 234h12v6h-12zM246 432h6v6h-6zM264 438h6v6h-6zM288 438h6v6h-6zM180 492h6v6h-6zM378 564h6v6h-6zM384 582h6v6h-6z"/>
<path fill="#ffb700" d="M258 216h6v6h-6zM246 228h6v6h-6zM276 228h6v6h-6zM234 234h12v6h-12zM276 234h6v6h-6zM222 240h18v6h-18zM276 240h18v6h-18zM228 246h6v6h-6zM276 246h12v6h-12zM276 252h6v6h-6zM312 372h6v6h-6zM306 402h6v6h-6zM294 432h6v6h-6zM270 438h6v6h-6zM186 528h6v6h-6zM312 558h6v6h-6zM360 576h6v6h-6zM384 588h6v6h-6z"/>
<path fill="#ffb000" d="M252 222h24v6h-24zM270 228h6v6h-6zM246 234h6v6h-6zM270 234h6v6h-6zM240 240h36v6h-36zM234 246h42v6h-42zM234 252h42v6h-42zM282 252h6v6h-6zM240 258h42v6h-42zM270 264h6v6h-6zM330 276h6v6h-6zM312 366h6v6h-6zM300 420h6v6h-6zM240 426h6v6h-6zM252 432h6v6h-6zM180 498h6v6h-6zM330 570h6v6h-6zM384 594h6v6h-6zM384 600h6v6h-6z"/>
<path fill="#ffa800" d="M252 228h18v6h-18zM252 234h18v6h-18zM288 246h12v6h-12zM288 252h6v6h-6zM282 258h6v6h-6zM246 264h24v6h-24zM276 264h6v6h-6zM252 270h30v6h-30zM324 270h6v6h-6zM252 276h24v6h-24zM258 282h18v6h-18zM330 282h6v6h-6zM306 396h6v6h-6zM276 438h12v6h-12zM186 534h6v6h-6zM372 564h6v6h-6zM336 576h6v6h-6z"/>
<path fill="#ffa000" d="M294 252h6v6h-6zM288 258h12v6h-12zM306 258h6v6h-6zM282 264h12v6h-12zM312 264h12v6h-12zM282 270h6v6h-6zM318 270h6v6h-6zM276 276h12v6h-12zM318 276h12v6h-12zM276 282h6v6h-6zM324 282h6v6h-6zM264 288h18v6h-18zM324 288h12v6h-12zM270 294h6v6h-6zM330 294h6v6h-6zM270 300h6v6h-6zM312 360h6v6h-6zM258 432h6v6h-6zM180 504h6v6h-6zM186 540h6v6h-6zM366 570h6v6h-6zM378 570h6v6h-6zM342 582h6v6h-6z"/>
<path fill="#ff9302" d="M300 258h6v6h-6zM294 264h18v6h-18zM288 270h30v6h-30zM288 276h30v6h-30zM282 282h42v6h-42zM282 288h42v6h-42zM276 294h54v6h-54zM276 300h54v6h-54zM270 306h54v6h-54zM282 312h42v6h-42zM294 318h24v6h-24zM306 324h12v6h-12zM300 414h6v6h-6zM246 426h6v6h-6zM264 432h6v6h-6zM180 510h6v6h-6zM186 546h6v6h-6zM306 558h6v6h-6zM318 564h6v6h-6zM276 576h6v6h-6zM348 588h12v6h-12z"/>
<path fill="#ff8604" d="M264 312h18v6h-18zM276 318h18v6h-18zM288 324h18v6h-18zM294 330h18v6h-18zM306 336h6v6h-6zM240 420h6v6h-6zM252 426h6v6h-6zM294 426h6v6h-6zM288 432h6v6h-6zM180 516h6v6h-6zM186 552h6v6h-6zM378 576h6v6h-6zM360 582h6v6h-6z"/>
<path fill="#ff7807" d="M264 318h12v6h-12zM276 324h12v6h-12zM288 330h6v6h-6zM294 336h12v6h-12zM300 342h6v6h-6zM306 384h6v6h-6zM270 432h6v6h-6zM186 558h6v6h-6zM294 558h12v6h-12zM372 570h6v6h-6zM378 582h6v6h-6zM378 588h6v6h-6zM378 594h6v6h-6zM378 600h6v6h-6z"/>
<path fill="#fd6c08" d="M258 324h18v6h-18zM282 330h6v6h-6zM288 336h6v6h-6zM294 342h6v6h-6zM306 360h6v6h-6zM306 366h6v6h-6zM306 372h6v6h-6zM306 378h6v6h-6zM300 408h6v6h-6zM240 414h6v6h-6zM246 420h6v6h-6zM294 420h6v6h-6zM258 426h6v6h-6zM276 432h12v6h-12zM174 492h6v6h-6zM180 522h6v6h-6zM180 528h6v6h-6zM282 570h6v6h-6zM366 576h6v6h-6zM360 588h6v6h-6z"/>
<path fill="#f96008" d="M252 330h30v6h-30zM282 336h6v6h-6zM288 342h6v6h-6zM300 402h6v6h-6zM246 414h6v6h-6zM252 420h6v6h-6zM264 426h12v6h-12zM288 426h6v6h-6zM174 498h6v6h-6zM174 504h6v6h-6zM180 534h6v6h-6zM288 564h6v6h-6zM312 564h6v6h-6zM324 570h6v6h-6zM372 576h6v6h-6zM366 582h6v6h-6zM342 588h6v6h-6zM348 594h12v6h-12z"/>
<path fill="#f55508" d="M252 336h30v6h-30zM282 342h6v6h-6zM288 348h12v6h-12zM300 360h6v6h-6zM300 390h6v6h-6zM300 396h6v6h-6zM246 408h6v6h-6zM252 414h6v6h-6zM294 414h6v6h-6zM258 420h12v6h-12zM276 426h12v6h-12zM174 510h6v6h-6zM174 516h6v6h-6zM180 540h6v6h-6zM180 546h6v6h-6zM180 552h6v6h-6zM330 576h6v6h-6zM336 582h6v6h-6zM372 582h6v6h-6zM366 588h12v6h-12zM360 594h6v6h-6zM372 594h6v6h-6zM372 600h6v6h-6zM372 606h6v6h-6z"/>
<path fill="#f14908" d="M252 342h30v6h-30zM282 348h6v6h-6zM288 354h12v6h-12zM294 360h6v6h-6zM300 366h6v6h-6zM300 372h6v6h-6zM300 378h6v6h-6zM300 384h6v6h-6zM246 396h6v6h-6zM246 402h12v6h-12zM294 402h6v6h-6zM252 408h12v6h-12zM294 408h6v6h-6zM258 414h12v6h-12zM288 414h6v6h-6zM270 420h24v6h-24zM174 522h6v6h-6zM174 528h6v6h-6zM174 534h6v6h-6zM180 558h6v6h-6zM306 564h6v6h-6zM366 594h6v6h-6zM354 600h18v6h-18zM366 606h6v6h-6z"/>
<path fill="#eb3b05" d="M258 348h24v6h-24zM258 354h30v6h-30zM258 360h36v6h-36zM258 366h42v6h-42zM252 372h48v6h-48zM252 378h48v6h-48zM246 384h54v6h-54zM246 390h54v6h-54zM252 396h48v6h-48zM258 402h36v6h-36zM264 408h30v6h-30zM270 414h18v6h-18zM132 510h42v6h-42zM108 516h66v6h-66zM102 522h72v6h-72zM102 528h72v6h-72zM102 534h72v6h-72zM102 540h78v6h-78zM102 546h78v6h-78zM102 552h78v6h-78zM102 558h78v6h-78zM108 564h66v6h-66zM294 564h12v6h-12zM114 570h24v6h-24zM318 570h6v6h-6zM342 594h6v6h-6zM348 600h6v6h-6zM354 606h12v6h-12z"/>
<path fill="#e52d03" d="M312 570h6v6h-6zM336 588h6v6h-6zM348 606h6v6h-6zM354 612h6v6h-6z"/>
<path fill="#e02001" d="M288 570h6v6h-6zM306 570h6v6h-6zM282 576h6v6h-6zM324 576h6v6h-6zM330 582h6v6h-6zM342 600h6v6h-6zM348 612h6v6h-6z"/>
<path fill="#df1c08" d="M294 570h12v6h-12zM318 576h6v6h-6zM336 594h6v6h-6zM342 606h6v6h-6z"/>
<path fill="#dd180f" d="M288 576h6v6h-6zM300 576h18v6h-18zM282 582h6v6h-6zM318 582h12v6h-12zM330 588h6v6h-6zM330 594h6v6h-6zM336 600h6v6h-6zM342 612h6v6h-6z"/>
<path fill="#dc1516" d="M294 576h6v6h-6zM288 582h30v6h-30zM282 588h6v6h-6zM312 588h18v6h-18zM324 594h6v6h-6zM330 600h6v6h-6zM330 606h12v6h-12zM336 612h6v6h-6z"/>
<path fill="#dc1621" d="M288 588h24v6h-24zM288 594h36v6h-36zM294 600h36v6h-36zM300 606h30v6h-30z"/>
</g></g></g>
<use href="#over"/>
<circle cx="277.4" cy="191" r="3.1" fill="#2b2424"/>
<text x="36.8" y="76.2" font-size="73">G</text>
<text x="97.9" y="134.8" font-size="44" text-anchor="middle">Fe</text>
<text x="109.6" y="186.8" font-size="44" text-anchor="middle">mg/g</text>
<text x="81.4" y="742.6" font-size="33.3" text-anchor="middle">110.3°E</text>
<text x="244.9" y="742.6" font-size="33.3" text-anchor="middle">110.4°E</text>
<text x="408.4" y="742.6" font-size="33.3" text-anchor="middle">110.5°E</text>
<text x="571.9" y="742.6" font-size="33.3" text-anchor="middle">110.6°E</text>
<text x="-16.4" y="186.6" font-size="33.3" text-anchor="end">21.3°N</text>
<text x="-16.4" y="361.9" font-size="33.3" text-anchor="end">21.2°N</text>
<text x="-16.4" y="537.2" font-size="33.3" text-anchor="end">21.1°N</text>
<text x="-16.4" y="712.5" font-size="33.3" text-anchor="end">21°N</text>
<text transform="translate(686.7 698) rotate(-90)" font-size="19.8">Ocean Data View</text>
<g transform="translate(698.0 0)">
<use href="#cbar"/>
<text x="30.2" y="634.6" font-size="32">10</text>
<text x="30.2" y="478.5" font-size="32">20</text>
<text x="30.2" y="322.4" font-size="32">30</text>
<text x="30.2" y="166.3" font-size="32">40</text>
<text x="30.2" y="10.2" font-size="32">50</text>
<path d="M0.5 624.4h3.6M16.7 624.4h3.6M0.5 468.3h3.6M16.7 468.3h3.6M0.5 312.2h3.6M16.7 312.2h3.6M0.5 156.1h3.6M16.7 156.1h3.6M0.5 0h3.6M16.7 0h3.6" stroke="#3a2a20" stroke-width="1.4" fill="none" opacity="0.8"/>
</g>
</g>
<g transform="translate(1362 1593.2) scale(1.0059 1.0065)">
<use href="#frame"/>
<use href="#base"/>
<g clip-path="url(#crclip)"><g><g filter="url(#bl)">
<path fill="#7030ff" d="M444 528h12v6h-12zM438 534h18v6h-18zM432 540h30v6h-30zM432 546h30v6h-30zM432 552h30v6h-30zM438 558h24v6h-24zM438 564h24v6h-24zM450 570h6v6h-6z"/>
<path fill="#6c36ff" d="M438 522h12v6h-12zM432 528h12v6h-12zM426 534h12v6h-12zM420 540h12v6h-12zM420 546h12v6h-12zM420 552h12v6h-12zM420 558h18v6h-18zM420 564h18v6h-18zM426 570h24v6h-24zM444 576h6v6h-6z"/>
<path fill="#683cff" d="M432 522h6v6h-6zM426 528h6v6h-6zM420 534h6v6h-6zM414 546h6v6h-6zM414 552h6v6h-6zM414 558h6v6h-6zM414 564h6v6h-6zM420 570h6v6h-6z"/>
<path fill="#6443ff" d="M438 516h6v6h-6zM426 522h6v6h-6zM420 528h6v6h-6zM414 534h6v6h-6zM414 540h6v6h-6zM414 570h6v6h-6z"/>
<path fill="#6049ff" d="M432 516h6v6h-6zM414 528h6v6h-6zM408 540h6v6h-6zM408 546h6v6h-6zM408 552h6v6h-6zM408 558h6v6h-6zM408 564h6v6h-6z"/>
<path fill="#5d50ff" d="M420 522h6v6h-6zM408 534h6v6h-6zM408 570h6v6h-6z"/>
<path fill="#5b58ff" d="M426 516h6v6h-6zM408 576h6v6h-6zM414 582h6v6h-6z"/>
<path fill="#585fff" d="M210 450h6v6h-6zM204 456h18v6h-18zM204 462h18v6h-18zM204 468h24v6h-24zM204 474h24v6h-24zM204 480h24v6h-24zM204 486h30v6h-30zM204 492h30v6h-30zM210 498h24v6h-24zM210 504h24v6h-24zM210 510h24v6h-24zM210 516h24v6h-24zM210 522h24v6h-24zM216 528h12v6h-12zM216 534h12v6h-12zM222 540h6v6h-6zM402 552h6v6h-6zM402 558h6v6h-6z"/>
<path fill="#5264ff" d="M222 444h6v6h-6zM216 450h12v6h-12zM222 456h12v6h-12zM198 462h6v6h-6zM222 462h12v6h-12zM198 468h6v6h-6zM228 468h12v6h-12zM198 474h6v6h-6zM228 474h12v6h-12zM198 480h6v6h-6zM228 480h12v6h-12zM198 486h6v6h-6zM234 486h6v6h-6zM198 492h6v6h-6zM234 492h6v6h-6zM198 498h12v6h-12zM234 498h6v6h-6zM198 504h12v6h-12zM234 504h12v6h-12zM204 510h6v6h-6zM234 510h12v6h-12zM204 516h6v6h-6zM234 516h12v6h-12zM204 522h6v6h-6zM234 522h12v6h-12zM414 522h6v6h-6zM204 528h12v6h-12zM228 528h18v6h-18zM408 528h6v6h-6zM204 534h12v6h-12zM228 534h12v6h-12zM210 540h12v6h-12zM228 540h12v6h-12zM402 540h6v6h-6zM210 546h12v6h-12zM402 546h6v6h-6zM402 564h6v6h-6zM414 588h6v6h-6z"/>
<path fill="#4b69ff" d="M228 450h6v6h-6zM234 456h6v6h-6zM234 462h6v6h-6zM192 468h6v6h-6zM240 468h6v6h-6zM192 474h6v6h-6zM240 474h6v6h-6zM192 480h6v6h-6zM240 480h6v6h-6zM192 486h6v6h-6zM240 486h6v6h-6zM240 492h6v6h-6zM240 498h6v6h-6zM198 510h6v6h-6zM198 516h6v6h-6zM246 516h6v6h-6zM198 522h6v6h-6zM246 522h6v6h-6zM246 528h6v6h-6zM240 534h12v6h-12zM204 540h6v6h-6zM240 540h12v6h-12zM204 546h6v6h-6zM402 570h6v6h-6zM408 582h6v6h-6z"/>
<path fill="#446dff" d="M228 444h6v6h-6zM234 450h6v6h-6zM240 462h6v6h-6zM246 474h6v6h-6zM246 480h6v6h-6zM246 486h6v6h-6zM192 492h6v6h-6zM246 492h6v6h-6zM192 498h6v6h-6zM246 498h6v6h-6zM192 504h6v6h-6zM246 504h6v6h-6zM246 510h6v6h-6zM432 510h6v6h-6zM420 516h6v6h-6zM198 528h6v6h-6zM198 534h6v6h-6zM402 534h6v6h-6z"/>
<path fill="#3d73ff" d="M228 438h6v6h-6zM240 456h6v6h-6zM246 462h6v6h-6zM246 468h6v6h-6zM186 474h6v6h-6zM252 492h6v6h-6zM252 498h6v6h-6zM252 504h6v6h-6zM192 510h6v6h-6zM252 510h6v6h-6zM252 516h6v6h-6zM252 522h6v6h-6zM252 528h6v6h-6zM252 534h6v6h-6zM198 540h6v6h-6zM252 540h6v6h-6zM252 546h6v6h-6z"/>
<path fill="#367aff" d="M234 444h6v6h-6zM240 450h6v6h-6zM246 456h6v6h-6zM252 462h6v6h-6zM252 468h6v6h-6zM252 474h6v6h-6zM186 480h6v6h-6zM252 480h6v6h-6zM186 486h6v6h-6zM252 486h6v6h-6zM258 510h6v6h-6zM192 516h6v6h-6zM258 516h6v6h-6zM192 522h6v6h-6zM258 522h6v6h-6zM258 528h6v6h-6zM258 534h6v6h-6zM258 540h6v6h-6zM198 546h6v6h-6zM342 546h6v6h-6zM198 552h6v6h-6z"/>
<path fill="#2f81ff" d="M258 468h18v6h-18zM258 474h24v6h-24zM258 480h24v6h-24zM258 486h24v6h-24zM186 492h6v6h-6zM258 492h24v6h-24zM258 498h24v6h-24zM258 504h24v6h-24zM264 510h18v6h-18zM264 516h18v6h-18zM264 522h18v6h-18zM408 522h6v6h-6zM192 528h6v6h-6zM264 528h18v6h-18zM264 534h12v6h-12zM264 540h12v6h-12zM336 540h6v6h-6zM258 546h12v6h-12zM336 546h6v6h-6zM402 576h6v6h-6zM408 588h6v6h-6z"/>
<path fill="#2888ff" d="M234 438h6v6h-6zM246 450h6v6h-6zM252 456h6v6h-6zM258 462h18v6h-18zM276 468h6v6h-6zM282 480h6v6h-6zM282 486h6v6h-6zM282 492h6v6h-6zM186 498h6v6h-6zM282 498h6v6h-6zM186 504h6v6h-6zM282 504h6v6h-6zM282 510h6v6h-6zM426 510h6v6h-6zM282 516h6v6h-6zM282 522h6v6h-6zM282 528h6v6h-6zM402 528h6v6h-6zM192 534h6v6h-6zM276 534h6v6h-6zM276 540h6v6h-6zM342 540h6v6h-6zM270 546h6v6h-6z"/>
<path fill="#218fff" d="M240 444h6v6h-6zM258 456h12v6h-12zM276 462h6v6h-6zM282 468h6v6h-6zM282 474h6v6h-6zM186 510h6v6h-6zM414 516h6v6h-6zM282 534h6v6h-6zM330 534h6v6h-6zM192 540h6v6h-6zM330 540h6v6h-6zM396 540h6v6h-6zM192 546h6v6h-6zM276 546h6v6h-6zM348 546h6v6h-6zM396 546h6v6h-6zM264 552h12v6h-12zM342 552h6v6h-6zM396 552h6v6h-6z"/>
<path fill="#1c98fd" d="M252 450h6v6h-6zM270 456h12v6h-12zM282 462h6v6h-6zM288 474h6v6h-6zM180 480h6v6h-6zM288 480h6v6h-6zM288 486h6v6h-6zM288 492h6v6h-6zM288 498h6v6h-6zM288 504h6v6h-6zM288 510h6v6h-6zM186 516h6v6h-6zM288 516h6v6h-6zM288 522h6v6h-6zM288 528h6v6h-6zM336 534h6v6h-6zM282 540h6v6h-6zM192 552h6v6h-6zM348 552h6v6h-6zM396 558h6v6h-6z"/>
<path fill="#17a1fb" d="M234 432h6v6h-6zM246 444h6v6h-6zM258 450h6v6h-6zM282 456h6v6h-6zM288 462h6v6h-6zM288 468h6v6h-6zM180 486h6v6h-6zM180 492h6v6h-6zM294 516h6v6h-6zM186 522h6v6h-6zM294 522h6v6h-6zM288 534h6v6h-6zM324 534h6v6h-6zM276 552h6v6h-6zM270 558h6v6h-6zM402 582h6v6h-6zM408 594h6v6h-6z"/>
<path fill="#13aaf9" d="M240 438h6v6h-6zM264 450h6v6h-6zM288 456h6v6h-6zM294 462h6v6h-6zM294 468h12v6h-12zM294 474h12v6h-12zM294 480h12v6h-12zM294 486h12v6h-12zM294 492h12v6h-12zM180 498h6v6h-6zM294 498h12v6h-12zM294 504h12v6h-12zM294 510h12v6h-12zM300 516h6v6h-6zM300 522h6v6h-6zM186 528h6v6h-6zM294 528h6v6h-6zM324 528h12v6h-12zM186 534h6v6h-6zM396 534h6v6h-6zM330 546h6v6h-6zM336 552h6v6h-6zM396 564h6v6h-6z"/>
<path fill="#0eb3f6" d="M264 102h24v6h-24zM258 108h30v6h-30zM252 114h36v6h-36zM246 120h48v6h-48zM240 126h54v6h-54zM234 132h60v6h-60zM234 138h60v6h-60zM234 144h60v6h-60zM240 150h54v6h-54zM240 156h54v6h-54zM246 162h54v6h-54zM246 168h54v6h-54zM252 174h48v6h-48zM252 180h48v6h-48zM252 186h48v6h-48zM258 192h48v6h-48zM276 198h24v6h-24zM252 444h6v6h-6zM270 450h6v6h-6zM294 456h24v6h-24zM300 462h18v6h-18zM306 468h12v6h-12zM306 474h12v6h-12zM306 480h12v6h-12zM306 486h12v6h-12zM306 492h12v6h-12zM306 498h12v6h-12zM180 504h6v6h-6zM306 504h12v6h-12zM180 510h6v6h-6zM306 510h12v6h-12zM306 516h12v6h-12zM306 522h18v6h-18zM318 528h6v6h-6zM186 540h6v6h-6zM348 540h6v6h-6zM186 546h6v6h-6zM282 546h6v6h-6z"/>
<path fill="#09bbf1" d="M288 108h6v6h-6zM288 114h12v6h-12zM294 120h6v6h-6zM228 138h6v6h-6zM228 144h6v6h-6zM228 150h12v6h-12zM306 150h18v6h-18zM228 156h12v6h-12zM300 156h30v6h-30zM228 162h18v6h-18zM300 162h30v6h-30zM234 168h12v6h-12zM300 168h30v6h-30zM240 174h12v6h-12zM300 174h30v6h-30zM240 180h12v6h-12zM300 180h30v6h-30zM300 186h30v6h-30zM252 192h6v6h-6zM306 192h24v6h-24zM258 198h18v6h-18zM300 198h24v6h-24zM276 204h36v6h-36zM324 408h6v6h-6zM318 414h18v6h-18zM318 420h18v6h-18zM318 426h18v6h-18zM312 432h24v6h-24zM246 438h6v6h-6zM312 438h24v6h-24zM306 444h30v6h-30zM276 450h12v6h-12zM294 450h42v6h-42zM318 456h18v6h-18zM318 462h12v6h-12zM318 468h12v6h-12zM318 474h6v6h-6zM318 480h6v6h-6zM318 486h6v6h-6zM174 492h6v6h-6zM318 492h6v6h-6zM318 498h6v6h-6zM318 504h6v6h-6zM318 510h6v6h-6zM420 510h6v6h-6zM180 516h6v6h-6zM318 516h6v6h-6zM180 522h6v6h-6zM300 528h6v6h-6zM294 534h6v6h-6zM342 534h6v6h-6zM288 540h6v6h-6zM324 540h6v6h-6zM186 552h6v6h-6zM186 558h6v6h-6z"/>
<path fill="#04c2ec" d="M222 156h6v6h-6zM222 162h6v6h-6zM222 168h12v6h-12zM222 174h18v6h-18zM228 180h12v6h-12zM234 186h18v6h-18zM240 192h12v6h-12zM252 198h6v6h-6zM270 204h6v6h-6zM282 210h24v6h-24zM318 402h6v6h-6zM318 408h6v6h-6zM312 420h6v6h-6zM336 420h6v6h-6zM312 426h6v6h-6zM336 426h6v6h-6zM240 432h6v6h-6zM336 432h6v6h-6zM306 438h6v6h-6zM336 438h6v6h-6zM258 444h12v6h-12zM300 444h6v6h-6zM336 444h6v6h-6zM288 450h6v6h-6zM336 450h6v6h-6zM330 462h6v6h-6zM324 474h6v6h-6zM324 480h6v6h-6zM174 498h6v6h-6zM174 504h6v6h-6zM174 510h6v6h-6zM174 516h6v6h-6zM324 522h6v6h-6zM180 528h6v6h-6zM306 528h12v6h-12zM180 534h6v6h-6zM318 534h6v6h-6zM180 540h6v6h-6zM180 546h6v6h-6zM354 546h6v6h-6zM180 552h6v6h-6zM354 552h6v6h-6zM180 558h6v6h-6zM348 558h6v6h-6z"/>
<path fill="#00c9e6" d="M216 174h6v6h-6zM216 180h12v6h-12zM216 186h18v6h-18zM222 192h18v6h-18zM234 198h18v6h-18zM246 204h24v6h-24zM276 210h6v6h-6zM282 216h24v6h-24zM330 372h6v6h-6zM324 378h6v6h-6zM312 414h6v6h-6zM306 432h6v6h-6zM252 438h6v6h-6zM270 444h6v6h-6zM294 444h6v6h-6zM336 456h6v6h-6zM330 468h6v6h-6zM324 486h6v6h-6zM132 510h42v6h-42zM108 516h66v6h-66zM102 522h78v6h-78zM402 522h6v6h-6zM102 528h78v6h-78zM336 528h6v6h-6zM102 534h78v6h-78zM102 540h78v6h-78zM102 546h78v6h-78zM102 552h78v6h-78zM102 558h78v6h-78zM108 564h66v6h-66zM114 570h24v6h-24zM396 570h6v6h-6zM402 588h6v6h-6z"/>
<path fill="#00cbde" d="M216 192h6v6h-6zM216 198h18v6h-18zM210 204h36v6h-36zM210 210h66v6h-66zM276 216h6v6h-6zM324 372h6v6h-6zM318 384h6v6h-6zM312 408h6v6h-6zM306 426h6v6h-6zM246 432h6v6h-6zM300 438h6v6h-6zM276 444h6v6h-6zM288 444h6v6h-6zM336 462h6v6h-6zM330 474h6v6h-6zM324 492h6v6h-6zM408 516h6v6h-6zM276 558h6v6h-6zM342 558h6v6h-6z"/>
<path fill="#00ced7" d="M210 216h66v6h-66zM210 222h90v6h-90zM216 228h36v6h-36zM270 228h12v6h-12zM222 234h12v6h-12zM318 378h6v6h-6zM312 396h6v6h-6zM312 402h6v6h-6zM306 420h6v6h-6zM240 426h6v6h-6zM342 426h6v6h-6zM300 432h6v6h-6zM342 432h6v6h-6zM258 438h12v6h-12zM282 444h6v6h-6zM324 498h6v6h-6zM324 516h6v6h-6zM300 534h6v6h-6zM270 564h6v6h-6z"/>
<path fill="#00d0cf" d="M252 228h18v6h-18zM282 228h6v6h-6zM234 234h48v6h-48zM222 240h54v6h-54zM228 246h12v6h-12zM258 246h12v6h-12zM324 366h6v6h-6zM306 414h6v6h-6zM252 432h6v6h-6zM270 438h6v6h-6zM294 438h6v6h-6zM342 438h6v6h-6zM342 444h6v6h-6zM336 468h6v6h-6zM330 480h6v6h-6zM324 504h6v6h-6zM324 510h6v6h-6zM330 522h6v6h-6zM396 528h6v6h-6z"/>
<path fill="#00d1c9" d="M288 228h6v6h-6zM240 246h18v6h-18zM270 246h6v6h-6zM234 252h36v6h-36zM318 372h6v6h-6zM312 384h6v6h-6zM306 408h6v6h-6zM240 420h6v6h-6zM246 426h6v6h-6zM300 426h6v6h-6zM258 432h6v6h-6zM294 432h6v6h-6zM276 438h18v6h-18zM342 450h6v6h-6zM312 534h6v6h-6zM282 552h6v6h-6zM354 558h6v6h-6z"/>
<path fill="#00d2c2" d="M282 234h6v6h-6zM276 240h6v6h-6zM270 252h6v6h-6zM240 258h30v6h-30zM312 378h6v6h-6zM306 396h6v6h-6zM306 402h6v6h-6zM240 414h6v6h-6zM246 420h6v6h-6zM300 420h6v6h-6zM252 426h12v6h-12zM294 426h6v6h-6zM264 432h18v6h-18zM288 432h6v6h-6zM342 456h6v6h-6zM426 504h6v6h-6zM306 534h6v6h-6zM354 540h6v6h-6zM390 540h6v6h-6zM324 546h6v6h-6zM390 546h6v6h-6zM396 576h6v6h-6zM402 594h6v6h-6z"/>
<path fill="#00d3bb" d="M270 258h6v6h-6zM246 264h24v6h-24zM306 384h6v6h-6zM300 402h6v6h-6zM246 408h6v6h-6zM300 408h6v6h-6zM246 414h18v6h-18zM300 414h6v6h-6zM252 420h18v6h-18zM294 420h6v6h-6zM264 426h30v6h-30zM282 432h6v6h-6zM336 474h6v6h-6zM414 510h6v6h-6zM348 534h6v6h-6zM294 540h6v6h-6zM318 540h6v6h-6zM330 552h6v6h-6zM390 552h6v6h-6z"/>
<path fill="#00d5b2" d="M276 246h6v6h-6zM258 366h24v6h-24zM318 366h6v6h-6zM252 372h36v6h-36zM312 372h6v6h-6zM252 378h60v6h-60zM246 384h60v6h-60zM246 390h60v6h-60zM246 396h60v6h-60zM246 402h54v6h-54zM252 408h48v6h-48zM264 414h36v6h-36zM270 420h24v6h-24zM330 486h6v6h-6zM288 546h6v6h-6z"/>
<path fill="#00d6a7" d="M270 264h6v6h-6zM252 270h18v6h-18zM258 354h24v6h-24zM258 360h30v6h-30zM282 366h18v6h-18zM288 372h24v6h-24zM342 462h6v6h-6zM342 528h6v6h-6zM336 558h6v6h-6z"/>
<path fill="#00d79b" d="M288 234h6v6h-6zM282 240h6v6h-6zM276 252h6v6h-6zM252 276h18v6h-18zM258 348h18v6h-18zM282 354h6v6h-6zM288 360h6v6h-6zM300 366h6v6h-6zM312 366h6v6h-6zM330 516h6v6h-6zM390 534h6v6h-6z"/>
<path fill="#00d890" d="M270 270h6v6h-6zM264 342h12v6h-12zM276 348h6v6h-6zM288 354h6v6h-6zM294 360h6v6h-6zM318 360h6v6h-6zM306 366h6v6h-6zM348 432h6v6h-6zM330 492h6v6h-6zM336 522h6v6h-6zM360 546h6v6h-6zM390 558h6v6h-6zM348 564h6v6h-6zM396 582h6v6h-6zM402 600h6v6h-6z"/>
<path fill="#02d583" d="M258 282h12v6h-12zM252 342h12v6h-12zM276 342h6v6h-6zM282 348h6v6h-6zM300 360h6v6h-6zM336 480h6v6h-6zM360 552h6v6h-6z"/>
<path fill="#04d176" d="M276 258h6v6h-6zM270 276h6v6h-6zM252 336h24v6h-24zM294 354h6v6h-6zM306 360h12v6h-12zM348 438h6v6h-6zM342 468h6v6h-6z"/>
<path fill="#07ce68" d="M282 246h6v6h-6zM264 288h6v6h-6zM282 342h6v6h-6zM288 348h6v6h-6zM348 444h6v6h-6zM330 498h6v6h-6zM330 510h6v6h-6z"/>
<path fill="#08ca5c" d="M276 264h6v6h-6zM270 282h6v6h-6zM252 330h24v6h-24zM276 336h6v6h-6zM420 504h6v6h-6zM402 516h6v6h-6zM396 522h6v6h-6zM312 540h6v6h-6zM354 564h6v6h-6zM390 564h6v6h-6z"/>
<path fill="#08c752" d="M294 348h6v6h-6zM330 504h6v6h-6zM354 534h6v6h-6zM300 540h6v6h-6zM360 540h6v6h-6zM276 564h6v6h-6zM342 564h6v6h-6z"/>
<path fill="#08c248" d="M288 240h6v6h-6zM270 288h6v6h-6zM258 324h12v6h-12zM288 342h6v6h-6zM348 450h6v6h-6zM396 588h6v6h-6z"/>
<path fill="#08be3e" d="M282 252h6v6h-6zM276 270h6v6h-6zM264 318h6v6h-6zM270 324h6v6h-6zM276 330h6v6h-6zM282 336h6v6h-6zM342 474h6v6h-6zM408 510h6v6h-6zM348 528h6v6h-6zM390 528h6v6h-6zM318 546h6v6h-6z"/>
<path fill="#09bb36" d="M270 294h6v6h-6zM264 312h6v6h-6zM336 486h6v6h-6zM336 516h6v6h-6zM306 540h6v6h-6zM384 540h6v6h-6zM360 558h6v6h-6z"/>
<path fill="#0cb831" d="M276 276h6v6h-6zM270 300h6v6h-6zM270 318h6v6h-6zM294 342h6v6h-6zM348 456h6v6h-6zM342 522h6v6h-6zM384 546h6v6h-6zM324 552h6v6h-6z"/>
<path fill="#0eb62c" d="M282 258h6v6h-6zM270 306h6v6h-6zM270 312h6v6h-6zM276 324h6v6h-6zM282 330h6v6h-6zM288 336h6v6h-6zM390 570h6v6h-6zM396 594h6v6h-6z"/>
<path fill="#10b427" d="M288 246h6v6h-6zM276 282h6v6h-6zM300 342h6v6h-6zM282 558h6v6h-6z"/>
<path fill="#10b325" d="M276 318h6v6h-6zM294 336h6v6h-6zM384 534h6v6h-6zM366 546h6v6h-6zM384 552h6v6h-6zM330 558h6v6h-6z"/>
<path fill="#10b123" d="M288 252h6v6h-6zM282 264h6v6h-6zM276 288h6v6h-6zM282 324h6v6h-6zM288 330h6v6h-6zM348 462h6v6h-6zM336 492h6v6h-6zM360 534h6v6h-6zM366 540h6v6h-6zM294 546h6v6h-6z"/>
<path fill="#10b021" d="M282 270h6v6h-6zM276 294h6v6h-6zM276 300h6v6h-6zM276 306h6v6h-6zM276 312h6v6h-6zM300 336h6v6h-6zM342 480h6v6h-6zM414 504h6v6h-6zM336 510h6v6h-6zM348 570h6v6h-6zM396 600h6v6h-6z"/>
<path fill="#14af1f" d="M294 246h6v6h-6zM288 258h6v6h-6zM330 276h6v6h-6zM282 318h6v6h-6zM288 324h6v6h-6zM294 330h6v6h-6zM306 336h6v6h-6zM354 432h6v6h-6zM390 576h6v6h-6z"/>
<path fill="#19ae1d" d="M294 252h6v6h-6zM324 270h6v6h-6zM282 276h6v6h-6zM282 282h6v6h-6zM330 282h6v6h-6zM300 330h12v6h-12zM354 528h6v6h-6zM288 552h6v6h-6zM366 552h6v6h-6z"/>
<path fill="#1fae1b" d="M294 258h6v6h-6zM288 264h6v6h-6zM318 264h6v6h-6zM288 270h6v6h-6zM324 276h6v6h-6zM282 288h6v6h-6zM330 288h6v6h-6zM282 294h6v6h-6zM282 300h6v6h-6zM282 306h6v6h-6zM282 312h6v6h-6zM288 318h6v6h-6zM294 324h12v6h-12zM354 438h6v6h-6zM336 498h6v6h-6zM336 504h6v6h-6zM342 516h6v6h-6zM396 516h6v6h-6zM390 522h6v6h-6zM384 558h6v6h-6zM336 564h6v6h-6zM354 570h6v6h-6z"/>
<path fill="#24ad19" d="M300 258h12v6h-12zM294 264h24v6h-24zM294 270h6v6h-6zM312 270h12v6h-12zM288 276h6v6h-6zM312 276h12v6h-12zM288 282h6v6h-6zM318 282h12v6h-12zM288 288h6v6h-6zM324 288h6v6h-6zM288 294h6v6h-6zM324 294h12v6h-12zM288 300h6v6h-6zM324 300h6v6h-6zM288 306h6v6h-6zM288 312h36v6h-36zM294 318h24v6h-24zM306 324h12v6h-12zM348 468h6v6h-6zM348 522h6v6h-6zM366 534h6v6h-6zM378 540h6v6h-6zM312 546h6v6h-6z"/>
<path fill="#2aad17" d="M300 270h12v6h-12zM294 276h18v6h-18zM294 282h24v6h-24zM294 288h30v6h-30zM294 294h30v6h-30zM294 300h30v6h-30zM294 306h30v6h-30zM402 510h6v6h-6zM384 528h6v6h-6zM372 540h6v6h-6zM378 546h6v6h-6zM360 564h6v6h-6z"/>
<path fill="#33af15" d="M354 444h6v6h-6zM342 486h6v6h-6zM420 498h6v6h-6zM378 534h6v6h-6zM372 546h6v6h-6zM390 582h6v6h-6z"/>
<path fill="#3db113" d="M360 528h6v6h-6zM372 534h6v6h-6z"/>
<path fill="#46b311" d="M342 510h6v6h-6z"/>
<path fill="#53b60e" d="M354 450h6v6h-6zM348 474h6v6h-6zM408 504h6v6h-6zM348 516h6v6h-6zM354 522h6v6h-6zM318 552h6v6h-6zM378 552h6v6h-6zM384 564h6v6h-6zM342 570h6v6h-6zM390 588h6v6h-6z"/>
<path fill="#62b80c" d="M342 492h6v6h-6zM342 504h6v6h-6zM366 528h6v6h-6zM378 528h6v6h-6z"/>
<path fill="#71bb09" d="M342 498h6v6h-6zM390 516h6v6h-6zM384 522h6v6h-6zM372 528h6v6h-6zM300 546h12v6h-12zM372 552h6v6h-6zM366 558h6v6h-6zM276 570h6v6h-6zM390 594h6v6h-6z"/>
<path fill="#7dbd08" d="M354 456h6v6h-6zM348 510h6v6h-6zM360 522h6v6h-6z"/>
<path fill="#88c008" d="M396 510h6v6h-6zM354 516h6v6h-6zM366 522h6v6h-6zM378 522h6v6h-6zM324 558h6v6h-6z"/>
<path fill="#93c308" d="M348 480h6v6h-6zM414 498h6v6h-6zM348 504h6v6h-6zM354 510h6v6h-6zM360 516h6v6h-6zM372 522h6v6h-6zM384 570h6v6h-6z"/>
<path fill="#a0c608" d="M354 462h6v6h-6zM348 498h6v6h-6zM366 516h12v6h-12zM384 516h6v6h-6zM378 558h6v6h-6zM360 570h6v6h-6zM348 576h12v6h-12z"/>
<path fill="#afc908" d="M348 486h6v6h-6zM348 492h6v6h-6zM354 504h6v6h-6zM360 510h12v6h-12zM378 516h6v6h-6z"/>
<path fill="#becc08" d="M360 438h6v6h-6zM360 504h6v6h-6zM402 504h6v6h-6zM372 510h6v6h-6z"/>
<path fill="#cdcf05" d="M354 498h6v6h-6zM366 504h6v6h-6zM378 510h6v6h-6zM390 510h6v6h-6zM372 558h6v6h-6zM330 564h6v6h-6zM366 564h6v6h-6zM384 576h6v6h-6z"/>
<path fill="#dbd103" d="M360 444h6v6h-6zM354 468h6v6h-6zM384 510h6v6h-6zM312 552h6v6h-6zM282 564h6v6h-6zM378 564h6v6h-6z"/>
<path fill="#e9d400" d="M354 492h6v6h-6zM360 498h6v6h-6zM408 498h6v6h-6zM372 504h6v6h-6zM384 582h6v6h-6z"/>
<path fill="#f2d400" d="M360 450h6v6h-6zM354 474h6v6h-6zM378 504h6v6h-6zM396 504h6v6h-6zM294 552h6v6h-6zM384 588h6v6h-6zM384 594h6v6h-6z"/>
<path fill="#fbd400" d="M354 486h6v6h-6zM414 492h6v6h-6zM366 498h6v6h-6zM384 504h12v6h-12zM336 570h6v6h-6zM360 576h6v6h-6zM384 600h6v6h-6z"/>
<path fill="#ffd400" d="M360 456h6v6h-6zM354 480h6v6h-6zM360 492h6v6h-6zM372 498h6v6h-6zM402 498h6v6h-6zM372 564h6v6h-6zM378 570h6v6h-6z"/>
<path fill="#ffd400" d="M366 438h6v6h-6zM420 486h6v6h-6zM378 498h6v6h-6zM288 558h6v6h-6zM366 570h6v6h-6zM354 582h6v6h-6z"/>
<path fill="#ffd400" d="M366 444h6v6h-6zM360 462h6v6h-6zM360 486h6v6h-6zM366 492h6v6h-6zM408 492h6v6h-6zM384 498h6v6h-6zM396 498h6v6h-6zM318 558h6v6h-6zM342 576h6v6h-6z"/>
<path fill="#ffd400" d="M366 450h6v6h-6zM360 468h6v6h-6zM414 486h6v6h-6zM372 492h6v6h-6zM390 498h6v6h-6zM306 552h6v6h-6zM372 570h6v6h-6zM378 576h6v6h-6z"/>
<path fill="#ffcf00" d="M366 456h6v6h-6zM360 474h6v6h-6zM420 474h6v6h-6zM360 480h6v6h-6zM420 480h6v6h-6zM366 486h6v6h-6zM378 492h12v6h-12zM396 492h12v6h-12zM366 576h6v6h-6zM348 582h6v6h-6zM360 582h6v6h-6zM378 582h6v6h-6zM378 588h6v6h-6zM378 594h6v6h-6zM378 600h6v6h-6z"/>
<path fill="#ffcb00" d="M384 420h6v6h-6zM378 426h6v6h-6zM372 444h6v6h-6zM372 450h6v6h-6zM366 462h6v6h-6zM366 468h6v6h-6zM414 474h6v6h-6zM366 480h6v6h-6zM414 480h6v6h-6zM372 486h12v6h-12zM402 486h12v6h-12zM390 492h6v6h-6zM300 552h6v6h-6zM372 576h6v6h-6z"/>
<path fill="#ffc600" d="M390 414h6v6h-6zM390 420h12v6h-12zM384 426h24v6h-24zM384 432h30v6h-30zM384 438h30v6h-30zM378 444h42v6h-42zM378 450h42v6h-42zM372 456h24v6h-24zM402 456h18v6h-18zM372 462h18v6h-18zM402 462h18v6h-18zM372 468h48v6h-48zM366 474h48v6h-48zM372 480h42v6h-42zM384 486h18v6h-18zM366 582h12v6h-12zM360 588h6v6h-6zM372 588h6v6h-6zM372 594h6v6h-6zM372 600h6v6h-6zM372 606h6v6h-6z"/>
<path fill="#ffbf00" d="M396 456h6v6h-6zM390 462h12v6h-12zM354 588h6v6h-6zM366 588h6v6h-6zM366 594h6v6h-6zM366 600h6v6h-6z"/>
<path fill="#ffb700" d="M324 564h6v6h-6zM276 576h6v6h-6zM360 594h6v6h-6zM366 606h6v6h-6z"/>
<path fill="#ffb000" d="M360 600h6v6h-6z"/>
<path fill="#ffa800" d="M312 558h6v6h-6zM354 594h6v6h-6zM360 606h6v6h-6z"/>
<path fill="#ff9302" d="M330 570h6v6h-6zM348 588h6v6h-6z"/>
<path fill="#ff8604" d="M336 576h6v6h-6zM342 582h6v6h-6zM354 600h6v6h-6z"/>
<path fill="#ff7807" d="M294 558h6v6h-6zM306 558h6v6h-6zM282 570h6v6h-6zM354 606h6v6h-6z"/>
<path fill="#fd6c08" d="M318 564h6v6h-6zM354 612h6v6h-6z"/>
<path fill="#f96008" d="M288 564h6v6h-6zM348 594h6v6h-6z"/>
<path fill="#f55508" d="M300 558h6v6h-6z"/>
<path fill="#eb3b05" d="M312 564h6v6h-6zM324 570h6v6h-6zM342 588h6v6h-6zM348 600h6v6h-6z"/>
<path fill="#e52d03" d="M336 582h6v6h-6z"/>
<path fill="#e02001" d="M306 564h6v6h-6zM330 576h6v6h-6zM348 606h6v6h-6z"/>
<path fill="#df1c08" d="M294 564h6v6h-6zM342 594h6v6h-6zM348 612h6v6h-6z"/>
<path fill="#dd180f" d="M300 564h6v6h-6zM318 570h6v6h-6zM282 576h6v6h-6z"/>
<path fill="#dc1516" d="M288 570h6v6h-6zM312 570h6v6h-6zM336 588h6v6h-6zM342 600h6v6h-6z"/>
<path fill="#dc1621" d="M306 570h6v6h-6zM324 576h6v6h-6zM330 582h6v6h-6z"/>
<path fill="#dc182c" d="M294 570h12v6h-12zM318 576h6v6h-6zM336 594h6v6h-6zM342 606h6v6h-6zM342 612h6v6h-6z"/>
<path fill="#dc1a38" d="M288 576h6v6h-6zM306 576h12v6h-12zM282 582h6v6h-6zM324 582h6v6h-6zM330 588h6v6h-6zM336 600h6v6h-6z"/>
<path fill="#df243f" d="M294 576h12v6h-12zM312 582h12v6h-12zM324 588h6v6h-6zM330 594h6v6h-6zM336 606h6v6h-6zM336 612h6v6h-6z"/>
<path fill="#e32f45" d="M288 582h24v6h-24zM282 588h6v6h-6zM306 588h18v6h-18zM318 594h12v6h-12zM324 600h12v6h-12zM330 606h6v6h-6z"/>
<path fill="#e6394c" d="M288 588h18v6h-18zM288 594h30v6h-30zM294 600h30v6h-30zM300 606h30v6h-30z"/>
</g></g></g>
<use href="#over"/>
<circle cx="277.4" cy="191" r="3.1" fill="#2b2424"/>
<text x="32.0" y="75.2" font-size="73">H</text>
<text x="102.8" y="134.0" font-size="44" text-anchor="middle">Mn</text>
<text x="111.9" y="184.5" font-size="44" text-anchor="middle">μg/g</text>
<text x="81.4" y="742.6" font-size="33.3" text-anchor="middle">110.3°E</text>
<text x="244.9" y="742.6" font-size="33.3" text-anchor="middle">110.4°E</text>
<text x="408.4" y="742.6" font-size="33.3" text-anchor="middle">110.5°E</text>
<text x="571.9" y="742.6" font-size="33.3" text-anchor="middle">110.6°E</text>
<text transform="translate(686.7 698) rotate(-90)" font-size="19.8">Ocean Data View</text>
<g transform="translate(698.0 0)">
<use href="#cbar"/>
<text x="30.2" y="712.6" font-size="32">100</text>
<text x="30.2" y="572.1" font-size="32">200</text>
<text x="30.2" y="431.6" font-size="32">300</text>
<text x="30.2" y="291.2" font-size="32">400</text>
<text x="30.2" y="150.7" font-size="32">500</text>
<text x="30.2" y="10.2" font-size="32">600</text>
<path d="M0.5 702.4h3.6M16.7 702.4h3.6M0.5 561.9h3.6M16.7 561.9h3.6M0.5 421.4h3.6M16.7 421.4h3.6M0.5 281h3.6M16.7 281h3.6M0.5 140.5h3.6M16.7 140.5h3.6M0.5 0h3.6M16.7 0h3.6" stroke="#3a2a20" stroke-width="1.4" fill="none" opacity="0.8"/>
</g>
</g>
</svg></body></html>
